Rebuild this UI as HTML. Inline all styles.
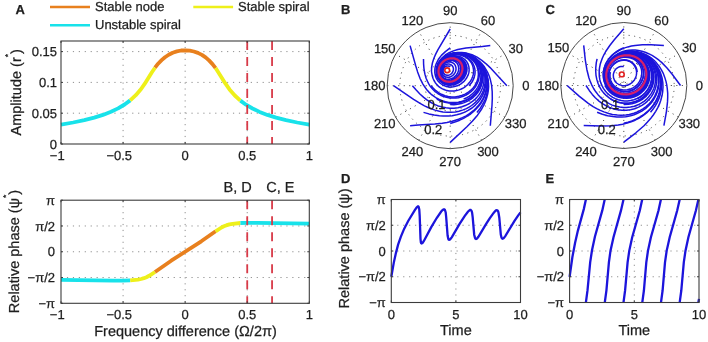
<!DOCTYPE html>
<html><head><meta charset="utf-8"><style>
html,body{margin:0;padding:0;background:#fff;}
svg{display:block;will-change:transform;}
text{font-family:"Liberation Sans", sans-serif;fill:#1e1e1e;stroke:#1e1e1e;stroke-width:0.25px;text-rendering:geometricPrecision;}
</style></head><body>
<svg width="708" height="342" viewBox="0 0 708 342">
<rect width="708" height="342" fill="#fff"/>
<line x1="123.08" y1="41" x2="123.08" y2="144" stroke="#909090" stroke-width="1" stroke-dasharray="1.2 4.73"/>
<line x1="185.15" y1="41" x2="185.15" y2="144" stroke="#909090" stroke-width="1" stroke-dasharray="1.2 4.73"/>
<line x1="247.23" y1="41" x2="247.23" y2="144" stroke="#909090" stroke-width="1" stroke-dasharray="1.2 4.73"/>
<line x1="61" y1="113.2" x2="309.3" y2="113.2" stroke="#909090" stroke-width="1" stroke-dasharray="1.2 4.73"/>
<line x1="61" y1="82.4" x2="309.3" y2="82.4" stroke="#909090" stroke-width="1" stroke-dasharray="1.2 4.73"/>
<line x1="61" y1="51.6" x2="309.3" y2="51.6" stroke="#909090" stroke-width="1" stroke-dasharray="1.2 4.73"/>
<path d="M61,124.6l12.1-2.1l11.2-2.3l9.9-2.6l8.7-2.7l8.1-3.1l7.1-3.4l6.5-3.9l5.6-4.1" fill="none" stroke="#18e2ea" stroke-width="3.8" stroke-linejoin="round"/>
<path d="M130.2,100.4l5.6-5.2l5.3-6.2l3.7-5.3l7.1-11.4l3.1-4.6" fill="none" stroke="#eef01a" stroke-width="3.8" stroke-linejoin="round"/>
<path d="M155,67.7l3.1-4l3.5-3.6l3.4-2.9l3.7-2.5l4-2l4.1-1.3l4.3-0.9l4.4-0.2l4.3,0.3l4,0.9l4.1,1.4l4,2l3.7,2.5l3.4,3l3.5,3.7l3.1,4" fill="none" stroke="#e8801e" stroke-width="3.8" stroke-linejoin="round"/>
<path d="M215.6,68.1l9.9,15.6l4,5.7l5.3,6.1l5.6,5.1" fill="none" stroke="#eef01a" stroke-width="3.8" stroke-linejoin="round"/>
<path d="M240.4,100.6l5.6,4.1l6.5,3.8l7.1,3.4l7.8,3l8.7,2.7l9.9,2.6l11.2,2.3l12.1,2.1" fill="none" stroke="#18e2ea" stroke-width="3.8" stroke-linejoin="round"/>
<line x1="247.23" y1="41" x2="247.23" y2="144" stroke="#d83a48" stroke-width="1.8" stroke-dasharray="9 7"/>
<line x1="272.06" y1="41" x2="272.06" y2="144" stroke="#d83a48" stroke-width="1.8" stroke-dasharray="9 7"/>
<rect x="61" y="41" width="248.3" height="103" fill="none" stroke="#3c3c3c" stroke-width="1.1"/>
<path d="M61,144 v-2.0 M61,41 v2.0" stroke="#3c3c3c" stroke-width="1"/>
<path d="M123.08,144 v-2.0 M123.08,41 v2.0" stroke="#3c3c3c" stroke-width="1"/>
<path d="M185.15,144 v-2.0 M185.15,41 v2.0" stroke="#3c3c3c" stroke-width="1"/>
<path d="M247.23,144 v-2.0 M247.23,41 v2.0" stroke="#3c3c3c" stroke-width="1"/>
<path d="M309.3,144 v-2.0 M309.3,41 v2.0" stroke="#3c3c3c" stroke-width="1"/>
<path d="M61,144 h2.0 M309.3,144 h-2.0" stroke="#3c3c3c" stroke-width="1"/>
<path d="M61,113.2 h2.0 M309.3,113.2 h-2.0" stroke="#3c3c3c" stroke-width="1"/>
<path d="M61,82.4 h2.0 M309.3,82.4 h-2.0" stroke="#3c3c3c" stroke-width="1"/>
<path d="M61,51.6 h2.0 M309.3,51.6 h-2.0" stroke="#3c3c3c" stroke-width="1"/>
<text x="57" y="148.6" font-size="13" text-anchor="end" font-weight="normal" >0</text>
<text x="57" y="117.8" font-size="13" text-anchor="end" font-weight="normal" >0.05</text>
<text x="57" y="87" font-size="13" text-anchor="end" font-weight="normal" >0.1</text>
<text x="57" y="56.2" font-size="13" text-anchor="end" font-weight="normal" >0.15</text>
<text x="61" y="160" font-size="13" text-anchor="middle" font-weight="normal" >1</text>
<text x="57.38" y="160" font-size="13" text-anchor="end" font-weight="normal" >−</text>
<text x="123.08" y="160" font-size="13" text-anchor="middle" font-weight="normal" >0.5</text>
<text x="114.04" y="160" font-size="13" text-anchor="end" font-weight="normal" >−</text>
<text x="185.15" y="160" font-size="13" text-anchor="middle" font-weight="normal" >0</text>
<text x="247.23" y="160" font-size="13" text-anchor="middle" font-weight="normal" >0.5</text>
<text x="309.3" y="160" font-size="13" text-anchor="middle" font-weight="normal" >1</text>
<text transform="translate(20.5,92.3) rotate(-90)" font-size="14.5" text-anchor="middle">Amplitude (r<tspan dy="-9.5" font-size="8.5">*</tspan><tspan dy="9.5">)</tspan></text>
<line x1="123.08" y1="200.2" x2="123.08" y2="303.3" stroke="#909090" stroke-width="1" stroke-dasharray="1.2 4.73"/>
<line x1="185.15" y1="200.2" x2="185.15" y2="303.3" stroke="#909090" stroke-width="1" stroke-dasharray="1.2 4.73"/>
<line x1="247.23" y1="200.2" x2="247.23" y2="303.3" stroke="#909090" stroke-width="1" stroke-dasharray="1.2 4.73"/>
<line x1="61" y1="277.52" x2="309.3" y2="277.52" stroke="#909090" stroke-width="1" stroke-dasharray="1.2 4.73"/>
<line x1="61" y1="251.75" x2="309.3" y2="251.75" stroke="#909090" stroke-width="1" stroke-dasharray="1.2 4.73"/>
<line x1="61" y1="225.97" x2="309.3" y2="225.97" stroke="#909090" stroke-width="1" stroke-dasharray="1.2 4.73"/>
<path d="M61,279.9l51.8,0.8l10,0l7.4-0.3" fill="none" stroke="#18e2ea" stroke-width="3.8" stroke-linejoin="round"/>
<path d="M130.2,280.4l7.8-0.8l3.1-0.6l2.8-0.8l2.5-1l2.7-1.4l5.9-3.8" fill="none" stroke="#eef01a" stroke-width="3.8" stroke-linejoin="round"/>
<path d="M155,272l16.2-11.3l30.1-19.4l14.3-10" fill="none" stroke="#e8801e" stroke-width="3.8" stroke-linejoin="round"/>
<path d="M215.6,231.3l5.9-3.8l2.4-1.2l2.8-1.1l2.8-0.8l3.1-0.6l7.8-0.8" fill="none" stroke="#eef01a" stroke-width="3.8" stroke-linejoin="round"/>
<path d="M240.4,223l7.1-0.2l10,0l51.8,0.8" fill="none" stroke="#18e2ea" stroke-width="3.8" stroke-linejoin="round"/>
<line x1="247.23" y1="200.2" x2="247.23" y2="303.3" stroke="#d83a48" stroke-width="1.8" stroke-dasharray="9 7"/>
<line x1="272.06" y1="200.2" x2="272.06" y2="303.3" stroke="#d83a48" stroke-width="1.8" stroke-dasharray="9 7"/>
<rect x="61" y="200.2" width="248.3" height="103.1" fill="none" stroke="#3c3c3c" stroke-width="1.1"/>
<path d="M61,303.3 v-2.0 M61,200.2 v2.0" stroke="#3c3c3c" stroke-width="1"/>
<path d="M123.08,303.3 v-2.0 M123.08,200.2 v2.0" stroke="#3c3c3c" stroke-width="1"/>
<path d="M185.15,303.3 v-2.0 M185.15,200.2 v2.0" stroke="#3c3c3c" stroke-width="1"/>
<path d="M247.23,303.3 v-2.0 M247.23,200.2 v2.0" stroke="#3c3c3c" stroke-width="1"/>
<path d="M309.3,303.3 v-2.0 M309.3,200.2 v2.0" stroke="#3c3c3c" stroke-width="1"/>
<path d="M61,303.3 h2.0 M309.3,303.3 h-2.0" stroke="#3c3c3c" stroke-width="1"/>
<path d="M61,277.52 h2.0 M309.3,277.52 h-2.0" stroke="#3c3c3c" stroke-width="1"/>
<path d="M61,251.75 h2.0 M309.3,251.75 h-2.0" stroke="#3c3c3c" stroke-width="1"/>
<path d="M61,225.97 h2.0 M309.3,225.97 h-2.0" stroke="#3c3c3c" stroke-width="1"/>
<path d="M61,200.2 h2.0 M309.3,200.2 h-2.0" stroke="#3c3c3c" stroke-width="1"/>
<text x="55" y="307.9" font-size="13" text-anchor="end" font-weight="normal" >−π</text>
<text x="55" y="282.12" font-size="13" text-anchor="end" font-weight="normal" >−π/2</text>
<text x="55" y="256.35" font-size="13" text-anchor="end" font-weight="normal" >0</text>
<text x="55" y="230.57" font-size="13" text-anchor="end" font-weight="normal" >π/2</text>
<text x="55" y="204.8" font-size="13" text-anchor="end" font-weight="normal" >π</text>
<text x="61" y="319" font-size="13" text-anchor="middle" font-weight="normal" >1</text>
<text x="57.38" y="319" font-size="13" text-anchor="end" font-weight="normal" >−</text>
<text x="123.08" y="319" font-size="13" text-anchor="middle" font-weight="normal" >0.5</text>
<text x="114.04" y="319" font-size="13" text-anchor="end" font-weight="normal" >−</text>
<text x="185.15" y="319" font-size="13" text-anchor="middle" font-weight="normal" >0</text>
<text x="247.23" y="319" font-size="13" text-anchor="middle" font-weight="normal" >0.5</text>
<text x="309.3" y="319" font-size="13" text-anchor="middle" font-weight="normal" >1</text>
<text x="185.5" y="336" font-size="14.5" text-anchor="middle" font-weight="normal" >Frequency difference (Ω/2π)</text>
<text transform="translate(18.5,251.5) rotate(-90)" font-size="14.5" text-anchor="middle">Relative phase (ψ<tspan dy="-9.5" font-size="8.5">*</tspan><tspan dy="9.5">)</tspan></text>
<text x="237.6" y="192.3" font-size="14.5" text-anchor="middle" font-weight="normal" >B, D</text>
<text x="280.3" y="192.3" font-size="14.5" text-anchor="middle" font-weight="normal" >C, E</text>
<line x1="50" y1="7" x2="90" y2="7" stroke="#e8801e" stroke-width="2.6"/>
<line x1="50" y1="25.3" x2="90" y2="25.3" stroke="#18e2ea" stroke-width="2.6"/>
<line x1="193.3" y1="7" x2="233.1" y2="7" stroke="#eef01a" stroke-width="2.6"/>
<text x="95" y="10.9" font-size="13" text-anchor="start" font-weight="normal" >Stable node</text>
<text x="95" y="28.9" font-size="13" text-anchor="start" font-weight="normal" >Unstable spiral</text>
<text x="238" y="10.9" font-size="13" text-anchor="start" font-weight="normal" >Stable spiral</text>
<text x="15.5" y="14.2" font-size="13" text-anchor="start" font-weight="bold" >A</text>
<text x="341" y="14.2" font-size="13" text-anchor="start" font-weight="bold" >B</text>
<text x="545.5" y="14.2" font-size="13" text-anchor="start" font-weight="bold" >C</text>
<text x="341" y="183" font-size="13" text-anchor="start" font-weight="bold" >D</text>
<text x="545.5" y="183" font-size="13" text-anchor="start" font-weight="bold" >E</text>
<circle cx="450.2" cy="85.7" r="25.2" fill="none" stroke="#4a4a4a" stroke-width="1" stroke-dasharray="1.1 4.4"/>
<circle cx="450.2" cy="85.7" r="50.4" fill="none" stroke="#4a4a4a" stroke-width="1" stroke-dasharray="1.1 4.4"/>
<line x1="387.2" y1="85.7" x2="513.2" y2="85.7" stroke="#4a4a4a" stroke-width="1" stroke-dasharray="1.1 4.4"/>
<line x1="395.64" y1="117.2" x2="504.76" y2="54.2" stroke="#4a4a4a" stroke-width="1" stroke-dasharray="1.1 4.4"/>
<line x1="418.7" y1="140.26" x2="481.7" y2="31.14" stroke="#4a4a4a" stroke-width="1" stroke-dasharray="1.1 4.4"/>
<line x1="450.2" y1="148.7" x2="450.2" y2="22.7" stroke="#4a4a4a" stroke-width="1" stroke-dasharray="1.1 4.4"/>
<line x1="481.7" y1="140.26" x2="418.7" y2="31.14" stroke="#4a4a4a" stroke-width="1" stroke-dasharray="1.1 4.4"/>
<line x1="504.76" y1="117.2" x2="395.64" y2="54.2" stroke="#4a4a4a" stroke-width="1" stroke-dasharray="1.1 4.4"/>
<circle cx="450.2" cy="85.7" r="63.0" fill="none" stroke="#4a4a4a" stroke-width="1"/>
<text x="525.8" y="90.3" font-size="13" text-anchor="middle" font-weight="normal" >0</text>
<text x="515.67" y="52.5" font-size="13" text-anchor="middle" font-weight="normal" >30</text>
<text x="488" y="24.83" font-size="13" text-anchor="middle" font-weight="normal" >60</text>
<text x="450.2" y="14.7" font-size="13" text-anchor="middle" font-weight="normal" >90</text>
<text x="412.4" y="24.83" font-size="13" text-anchor="middle" font-weight="normal" >120</text>
<text x="384.73" y="52.5" font-size="13" text-anchor="middle" font-weight="normal" >150</text>
<text x="374.6" y="90.3" font-size="13" text-anchor="middle" font-weight="normal" >180</text>
<text x="384.73" y="128.1" font-size="13" text-anchor="middle" font-weight="normal" >210</text>
<text x="412.4" y="155.77" font-size="13" text-anchor="middle" font-weight="normal" >240</text>
<text x="450.2" y="165.9" font-size="13" text-anchor="middle" font-weight="normal" >270</text>
<text x="488" y="155.77" font-size="13" text-anchor="middle" font-weight="normal" >300</text>
<text x="515.67" y="128.1" font-size="13" text-anchor="middle" font-weight="normal" >330</text>
<path d="M469.1,85.7l1.8-2.1l1.3-1.8l1.2-2.4l0.9-2.5l0.6-2.5l0.2-2.5l-0.2-2.5l-0.5-2.3l-0.8-2.1l-1.2-2.4l-1.6-2.1l-1.8-1.7l-2-1.5l-2.1-1.1l-2.5-1l-2.5-0.6l-3.2-0.3l-3.1,0.1l-3.2,0.7l-2.9,1.1l-2.5,1.5l-2.5,1.9l-2,2.2l-1.6,2.7l-1.3,3.2l-0.5,3.5l0.5,3.5l1.2,3l2,2.6l2.5,1.9l3.2,1.2l3.4,0.4l3.6-0.6l3.3-1.3l3.1-2.2l2.3-2.7l1.8-3.1l0.9-3.3l0-3.3l-0.3-1.6l-0.6-1.8l-1.6-2.6l-2.1-2l-2.7-1.4l-3.2-0.8l-3.3,0.1l-3.2,0.8l-3,1.5l-2.6,2.1l-2.2,2.7l-1.4,3.1l-0.6,3.1l0.2,3.2l1,3l1.9,2.5l2.5,1.9l2.8,1.1l3.3,0.3l3.3-0.6l3-1.3l2.7-2.1l2.3-2.7l1.5-3.2l0.7-3.1l-0.2-3.3l-1-2.7l-1.7-2.4l-2.3-1.8l-2.9-1.2l-3.3-0.3l-3.2,0.5l-3.1,1.3l-2.7,1.9l-2.2,2.5l-1.5,2.9l-0.8,3.2l0.1,3.1l0.9,2.9l1.7,2.6l2.3,1.9l2.7,1.1l3.1,0.4l3.1-0.4l3.2-1.3l2.7-2l2.2-2.5l1.6-3.1l0.7-3l-0.1-3.2l-0.9-2.9l-1.7-2.4l-2.3-1.8l-2.8-1.1l-3.2-0.4l-3.1,0.5l-3,1.3l-2.7,1.8l-2.2,2.5l-1.5,2.9l-0.7,3.2l0.1,3l0.9,2.9l1.7,2.5l2.3,1.9l2.7,1.1l3.1,0.4l3.1-0.5l3.1-1.3l2.6-1.9l2.2-2.6l1.5-3l0.7-3l-0.1-3.2l-0.9-2.8l-1.7-2.4l-2.2-1.7l-2.8-1.1l-3.2-0.4l-3.1,0.5l-3,1.3l-2.8,2l-2.1,2.5l-1.4,2.9l-0.7,3l0.1,3l0.9,2.9l1.8,2.5l2.3,1.8l2.6,1.1" fill="none" stroke="#1c14dc" stroke-width="1.5" stroke-linejoin="round"/>
<path d="M463.6,72.3l0.4-1.9l0.1-1.9l-0.2-1.9l-0.5-2l-0.8-1.6l-1.1-1.7l-1.4-1.3l-1.6-1.1l-1.7-0.8l-2.1-0.5l-2.1-0.2l-2.1,0.2l-1.9,0.4l-2.1,0.9l-1.9,1l-1.7,1.4l-2.4,2.7l-1.6,3.2l-0.5,1.6l-0.2,1.9l0.3,3.3l0.5,1.6l0.7,1.5l1,1.4l1.2,1.2l1.4,1l1.4,0.7l1.6,0.5l1.7,0.3l3.3-0.1l1.9-0.5l1.6-0.6l3.1-2l1.4-1.3l1.2-1.4l1-1.7l0.8-1.7l0.7-3.3l-0.2-3.3l-0.4-1.6l-0.8-1.6l-0.9-1.3l-1.1-1.2l-1.2-0.9l-1.6-0.9l-3.2-0.8l-3.5,0.1l-3.4,1l-3,1.8l-2.6,2.6l-1.7,3l-0.9,3.2l0,3.1l0.3,1.6l0.5,1.5l1.7,2.6l2.2,1.9l2.9,1.2l3.1,0.4l3.1-0.4l3.2-1.3l2.9-2.1l2.1-2.6l1.5-3.1l0.7-3.3l-0.3-3.2l-1.1-2.8l-1.8-2.3l-2.5-1.7l-2.9-0.9l-3.1-0.2l-3.3,0.7l-3,1.5l-2.6,2.2l-1.9,2.6l-1.3,3.1l-0.5,3.2l0.5,3l1.2,2.8l1.8,2.1l2.6,1.7l2.8,0.8l3,0.1l3.1-0.8l3.1-1.6l2.5-2.1l1.9-2.8l1.2-2.8l0.5-3.3l-0.5-3.1l-1.2-2.7l-1.9-2.1l-2.6-1.6l-2.9-0.8l-3.1,0l-3.3,0.9l-2.8,1.5l-2.5,2.3l-1.9,2.7l-1.1,2.9l-0.3,3.2l0.5,3l1.3,2.7l1.9,2.1l2.6,1.6l2.9,0.7l3,0l3.1-0.9l3-1.6l2.4-2.3l1.9-2.8l1.1-2.9l0.3-2.9l-0.5-3.1l-1.2-2.7l-2-2.1l-2.5-1.5l-2.9-0.7l-3.2,0l-3.2,0.8l-2.8,1.6l-2.5,2.3l-1.8,2.7l-1.1,2.9l-0.3,3.2l0.5,3l1.3,2.7l2,2.1l2.6,1.5l2.9,0.7l3.2-0.1l3.1-0.9" fill="none" stroke="#1c14dc" stroke-width="1.5" stroke-linejoin="round"/>
<path d="M450.2,66.8l-1-0.6l-1.2-0.3l-1.3,0.2l-1.2,0.5l-1.1,0.9l-0.7,1.2l-0.5,1.3l-0.1,1.3l0.3,1.3l0.6,1l0.8,0.9l1.1,0.6l1.1,0.2l1.3,0l1.3-0.4l1.1-0.6l1.3-1.2l0.9-1.5l0.5-1.6l0-1.7l-0.5-1.5l-0.9-1.3l-1.2-0.9l-1.4-0.5l-1.6,0l-1.6,0.3l-1.4,0.8l-1.3,1.2l-1,1.4l-0.6,1.6l-0.2,1.8l0.2,1.6l0.6,1.5l0.9,1.2l1.2,0.9l1.4,0.7l1.7,0.2l1.6-0.1l1.7-0.6l1.5-0.9l1.6-1.6l1.3-2l0.6-2.3l0-2.1l-0.6-2l-1.2-1.8l-1.7-1.2l-2-0.7l-2.1,0l-2.2,0.6l-2,1.1l-1.6,1.6l-1.3,1.9l-0.8,2.2l-0.1,2.2l0.3,2.2l0.8,1.7l1.1,1.4l1.6,1.2l1.7,0.8l1.9,0.3l1.9-0.1l2-0.6l1.9-0.9l2.3-1.9l1.6-2.3l1-2.7l0.2-2.7l-0.5-2.6l-1.2-2.2l-1.8-1.6l-2.4-1.1l-2.5-0.3l-2.8,0.4l-2.5,1.1l-2.3,1.8l-1.7,2.3l-1.1,2.5l-0.5,2.7l0.3,2.6l0.7,2l1.1,1.7l1.4,1.4l1.8,1l2.1,0.7l2.2,0.1l2.2-0.3l2.1-0.7l2.6-1.6l2.2-2.3l1.6-2.8l0.8-2.8l0-2.9l-0.8-2.8l-1.6-2.4l-2.2-1.6l-2.7-1l-2.9-0.2l-3,0.7l-2.9,1.4l-2.3,2.1l-1.9,2.7l-1,2.8l-0.3,3.1l0.3,2.2l0.8,2l1.2,1.7l1.5,1.5l1.8,1.1l2,0.6l2.3,0.3l2.1-0.2l2.7-0.8l2.4-1.4l2.1-1.8l1.6-2.1l1.3-2.6l0.6-2.5l0-2.5l-0.6-2.6" fill="none" stroke="#1c14dc" stroke-width="1.5" stroke-linejoin="round"/>
<path d="M436.8,72.3l0.4,2.4l0.7,2l1,1.9l1.4,1.8l1.7,1.4l2.1,1.2l2,0.8l2.3,0.4l2.4,0l2.2-0.3l2.5-0.8l2.2-1.1l2-1.4l1.9-1.7l1.6-2.1l1-1.9l0.8-2l0.5-1.8l0.1-1.7l0-2l-0.3-1.7l-0.6-1.8l-0.9-1.7l-1.2-1.4l-1.3-1.2l-1.4-1l-1.6-0.8l-1.9-0.6l-1.9-0.3l-2-0.1l-1.9,0.2l-2,0.6l-2,0.7l-1.7,1l-1.6,1.2l-1.6,1.5l-1.2,1.5l-1.1,1.8l-0.7,1.9l-0.5,1.9l-0.2,1.9l0,1.9l0.4,1.9l0.7,1.8l1.1,1.6l1.1,1.3l1.4,1.1l1.6,1l1.6,0.5l1.7,0.4l1.8,0.1l1.9-0.1l1.9-0.5l1.7-0.6l3.1-2l1.5-1.3l1.2-1.5l1.8-3.1l0.9-3.4l0.1-1.9l-0.2-1.8l-1-3l-1.8-2.4l-1.2-1.1l-1.4-0.8l-2.9-1.1l-3.3-0.3l-3.5,0.7l-3,1.3l-2.8,2.2l-2.1,2.6l-1.4,3.2l-0.6,3.3l0.3,3.2l0.6,1.6l0.7,1.4l2.1,2.4l2.6,1.6l1.5,0.6l1.6,0.3l3.4-0.1l3.2-1l3-1.8l2.4-2.3l1.9-2.9l1-3.3l0.2-3l-0.6-3l-1.5-2.7l-2.1-2l-2.7-1.4l-3.2-0.6l-3.1,0.3l-3.2,1l-2.8,1.7l-2.4,2.4l-1.6,2.8l-1,3.2l-0.1,3.2l0.7,3l1.6,2.6l2.1,1.9l2.8,1.4l3.1,0.5l3.1-0.4l3.1-1.1l2.7-1.8l2.3-2.5l1.7-3l0.8-2.9l0-3.2l-0.8-3l-1.6-2.4l-2.1-1.9l-2.8-1.2l-3.1-0.5l-3.1,0.4l-3.1,1.1l-2.7,1.8l-2.2,2.5l-1.6,2.8l-0.9,3.2l0.1,3l0.8,2.9l1.6,2.6l2.2,1.9l2.6,1.1l3.1,0.5l3-0.3l3.1-1.2l2.7-1.8l2.3-2.5l1.6-3l0.8-2.9l0-3.2l-0.8-2.9l-1.6-2.5l-2.2-1.8l-2.7-1.2l-3.1-0.4l-3.1,0.3l-3.1,1.2l-2.7,1.8l-2.2,2.5" fill="none" stroke="#1c14dc" stroke-width="1.5" stroke-linejoin="round"/>
<path d="M431.3,85.7l2.1,2.7l2.5,2.3l2.9,2.1l2.7,1.5l3.5,1.4l3.2,0.8l3.4,0.4l3.5,0l3.6-0.6l3-0.8l3.4-1.4l2.8-1.6l3-2.3l2.2-2.3l1.9-2.5l1.7-3.2l1.3-3.9l0.4-4l-0.3-3.8l-1.1-4l-1.9-3.5l-2.7-3.2l-3.2-2.6l-3.7-1.9l-4.3-1.2l-4.1-0.4l-4.2,0.4l-4.1,1.3l-3.6,1.8l-3.1,2.6l-2.6,3.2l-1.6,3.4l-0.6,1.9l-0.3,2.2l0.1,2.1l0.3,1.9l0.5,1.7l0.9,1.7l1.1,1.6l1.3,1.4l1.6,1.2l1.6,0.8l1.8,0.6l1.9,0.4l2,0l1.9-0.1l2.1-0.6l1.9-0.7l2.9-1.7l2.6-2.5l2.1-2.9l1.3-3.4l0.4-3.4l-0.5-3.2l-1.2-2.9l-2.2-2.5l-2.6-1.7l-3.2-1.1l-3.5-0.2l-3.4,0.6l-3.3,1.5l-2.7,2l-2.3,2.7l-1.6,3.1l-0.7,3.4l0.1,3.3l1,3l1.9,2.6l2.5,1.9l1.5,0.7l1.6,0.5l3.3,0.2l3.3-0.6l3-1.4l2.7-2.1l2.3-2.8l1.4-2.9l0.6-3.1l-0.1-3.3l-1-2.7l-1.7-2.5l-2.3-1.8l-2.9-1.2l-3.3-0.3l-3.2,0.4l-3.1,1.3l-2.9,2l-2.2,2.6l-1.5,2.9l-0.7,3.3l0.1,3l0.9,2.9l1.7,2.6l2.4,1.8l2.9,1.2l3.2,0.3l3.2-0.5l3.1-1.5l2.7-2l2.1-2.7l1.4-2.8l0.7-3l-0.2-3.2l-1-2.9l-1.7-2.4l-2.3-1.7l-2.8-1.1l-3.2-0.3l-3.1,0.5l-3.1,1.3l-2.7,2.1l-2.2,2.5l-1.4,2.9l-0.7,3.2l0.2,3.1l1,2.8l1.8,2.5l2.4,1.8l2.7,1l3.2,0.2l3.1-0.5l3.1-1.4l2.6-2.1l2.1-2.6l1.3-2.8l0.7-2.9l-0.2-3.2l-1-2.9l-1.7-2.3l-2.5-1.8l-2.8-1l-3.2-0.3l-3.1,0.6l-2.9,1.4l-2.6,1.9l-2.1,2.5l-1.4,2.9" fill="none" stroke="#1c14dc" stroke-width="1.5" stroke-linejoin="round"/>
<path d="M436.8,99.1l3.6,1.7l3.2,1.1l4,0.9l3.5,0.4l4.3,0l3.6-0.5l3.6-0.9l3.4-1.3l3.3-1.7l3-2.1l2.7-2.5l2.3-2.8l1.9-2.9l1.4-3.2l0.9-3.2l0.6-3.8l-0.2-4.3l-0.9-4.1l-1.8-4.1l-2.4-3.6l-3.2-3.2l-3.5-2.5l-4.1-1.8l-4.1-1.1l-4.3-0.3l-4.3,0.5l-4.2,1.2l-3.7,1.9l-3.2,2.6l-2.6,3.2l-1.8,3.5l-0.8,3.6l-0.1,2.2l0.2,1.8l0.5,1.9l0.8,1.7l1,1.6l1.2,1.5l1.6,1.3l1.5,0.9l1.7,0.7l1.9,0.5l2.1,0.2l2.1-0.1l2.2-0.5l1.8-0.6l1.9-0.9l1.7-1.2l2.7-2.4l2-3l1.3-3.4l0.4-3.4l-0.5-3.3l-0.6-1.5l-0.9-1.6l-2.2-2.5l-2.7-1.7l-3.2-0.9l-3.6-0.1l-3.4,0.7l-3.2,1.5l-2.8,2.1l-2.2,2.7l-1.5,3.1l-0.7,3.4l0.2,3.4l1.1,3l1,1.4l1,1.1l2.5,1.9l1.5,0.6l1.7,0.5l3.3,0.1l3.3-0.7l3.3-1.6l2.7-2.3l1.9-2.5l1.4-3.3l0.5-3.1l-0.2-3l-1.2-3l-1.9-2.3l-2.6-1.8l-2.9-1l-3.3-0.1l-3.2,0.6l-3.1,1.4l-2.5,2l-2.2,2.7l-1.3,2.9l-0.7,3.3l0.2,3.1l1.1,2.8l1.8,2.5l2.5,1.8l2.8,1l3.2,0.2l3.2-0.6l3.1-1.5l2.6-2.1l2.1-2.7l1.4-3.2l0.5-3l-0.2-2.9l-1.1-2.8l-1.8-2.4l-2.5-1.7l-2.9-1l-3.2-0.1l-3.1,0.6l-3,1.4l-2.5,1.9l-2.1,2.6l-1.4,2.9l-0.6,3.2l0.3,3.1l1,2.8l1.9,2.4l2.4,1.8l2.8,0.9l3.1,0.2l3.2-0.6l3.1-1.5l2.5-2.1l2.1-2.7l1.3-3.1l0.5-3l-0.3-2.8l-1-2.8l-1.8-2.3l-2.5-1.8l-2.9-0.9l-3.1-0.1l-3.3,0.7l-3,1.4l-2.6,2.2l-1.9,2.6l-1.3,2.9l-0.4,3.2" fill="none" stroke="#1c14dc" stroke-width="1.5" stroke-linejoin="round"/>
<path d="M450.2,104.6l3.7,0.1l3.7-0.4l3.7-0.7l2.9-1l3.5-1.5l3.3-2l2.3-1.8l2.7-2.6l2.3-2.9l1.8-3.1l1.3-3.2l0.9-3.3l0.4-3.3l-0.1-3.2l-0.4-3l-1-3.4l-1.7-3.7l-2.5-3.5l-2.8-2.9l-3.6-2.5l-3.7-1.8l-4.1-1.2l-4-0.4l-4.1,0.2l-4.1,0.9l-3.9,1.7l-3.5,2.4l-2.7,2.8l-2.1,3.4l-1.2,3.6l-0.3,2l0,1.9l0.7,3.5l0.8,1.7l0.8,1.5l1.3,1.5l1.3,1.1l1.5,1l1.6,0.8l1.9,0.5l2,0.3l2.1,0l1.8-0.3l1.9-0.5l1.9-0.8l1.8-1l1.7-1.3l2.7-3l1.7-3.2l1-3.4l0-3.4l-0.8-3.1l-1.6-2.7l-2.4-2.2l-1.5-0.9l-1.6-0.7l-3.2-0.7l-3.6,0.2l-3.3,0.9l-3.1,1.7l-2.7,2.5l-2,2.8l-1.2,3.1l-0.4,3.5l0.4,3.1l1.4,2.9l1,1.4l1.1,1l2.7,1.7l3.1,0.8l3.5-0.1l3.3-0.9l3.2-1.8l2.5-2.5l1.9-3l1.1-3l0.2-3.1l-0.6-3.2l-1.4-2.8l-2.1-2.1l-2.8-1.5l-3-0.7l-3.2,0.1l-3.1,0.9l-3,1.6l-2.5,2.3l-1.9,2.7l-1.1,3l-0.4,3.3l0.5,3l1.3,2.8l1,1.3l1.1,1l2.7,1.6l3,0.7l3.1-0.1l3.1-0.9l3.1-1.8l2.5-2.3l1.8-2.9l1-3l0.3-3l-0.5-3.1l-1.4-2.7l-2-2l-2.7-1.5l-3.1-0.7l-3.2,0.1l-3,0.9l-2.9,1.6l-2.4,2.3l-1.8,2.7l-1.1,3l-0.3,3.3l0.6,2.9l1.4,2.7l1.9,2.1l2.7,1.5l2.9,0.7l3.1-0.1l3.1-0.9l3-1.8l2.4-2.3l1.9-2.9l0.9-2.9l0.3-2.9l-0.6-3.1l-1.3-2.6l-2-2.1l-2.7-1.5l-3.1-0.6l-3.1,0.1l-3.2,1l-2.8,1.7l-2.4,2.3l-1.7,2.7l-1,3l-0.2,3.2l0.6,3" fill="none" stroke="#1c14dc" stroke-width="1.5" stroke-linejoin="round"/>
<path d="M463.6,99.1l3.2-1.4l2.4-1.4l2.8-2.1l2-1.9l1.8-2.1l1.9-2.8l1.5-3l1-3l0.6-3.1l0.1-3l-0.3-3l-0.6-2.7l-1-2.6l-1.5-2.8l-1.8-2.5l-2.1-2.2l-3-2.3l-3.1-1.7l-3.7-1.3l-3.5-0.6l-3.8-0.1l-3.6,0.4l-3.5,1.1l-3.4,1.6l-3.4,2.5l-2.5,2.9l-1.9,3.2l-1,3.6l-0.2,3.6l0.7,3.5l0.8,1.7l0.9,1.4l1.1,1.3l1.3,1.1l1.5,1l1.6,0.8l1.9,0.5l1.6,0.3l3.7-0.1l1.8-0.5l1.9-0.7l3.3-1.9l2.8-2.7l1.3-1.8l0.9-1.6l1.1-3.4l0.2-3.1l-0.6-3.2l-1.3-2.8l-2.2-2.4l-2.7-1.7l-3.2-1l-3.3-0.1l-3.4,0.6l-3.3,1.5l-2.8,2l-2.3,2.7l-1.5,3.1l-0.8,3.4l0.2,3.2l0.9,3l1.8,2.6l2.5,1.9l1.4,0.7l1.7,0.6l3.3,0.3l3.3-0.6l3.2-1.5l2.8-2.1l2.2-2.8l1.4-2.9l0.7-3.1l-0.2-3.3l-0.9-2.7l-1.8-2.5l-1.2-1.1l-1.3-0.9l-2.9-1.1l-3.3-0.2l-3.2,0.5l-3.1,1.3l-2.9,2.1l-2.1,2.6l-1.5,2.9l-0.7,3.3l0.2,3l1,2.9l1.6,2.4l2.4,1.9l3,1.1l3.1,0.3l3.2-0.5l3.1-1.4l2.7-2.1l2.1-2.7l1.4-2.8l0.7-3l-0.2-3.2l-1-2.9l-1.7-2.4l-2.5-1.8l-2.9-1l-3.2-0.3l-3.1,0.6l-3,1.3l-2.7,2.1l-2.1,2.6l-1.4,2.9l-0.6,3.2l0.3,3.1l1,2.8l1.7,2.3l2.4,1.8l2.7,1l3.2,0.2l3.1-0.5l3.1-1.4l2.6-2.1l2.1-2.6l1.3-2.8l0.7-3l-0.2-3.1l-1-2.9l-1.7-2.3l-2.5-1.8l-2.8-1l-3.2-0.3l-3.1,0.6l-3,1.4l-2.6,2l-2.1,2.6l-1.3,2.9l-0.6,3.2l0.2,3l1.1,2.8l1.7,2.3" fill="none" stroke="#1c14dc" stroke-width="1.5" stroke-linejoin="round"/>
<path d="M488,85.7l-0.1-3.1l-0.3-3l-0.5-2.9l-0.8-2.7l-0.9-2.5l-1.4-3l-1.7-2.7l-1.8-2.4l-2-2.1l-2-1.9l-2.1-1.6l-2.7-1.5l-2.6-1.3l-2.6-0.9l-2.6-0.7l-2.9-0.4l-3.6-0.1l-3.8,0.5l-3.4,0.9l-3,1.3l-2.9,1.9l-2.4,2.1l-2,2.4l-1.6,2.8l-1.1,3.3l-0.4,3.7l0.6,3.5l1.4,3.1l2.2,2.6l2.8,1.9l1.7,0.7l1.7,0.4l3.5,0.2l1.9-0.3l1.9-0.4l3.4-1.6l3.1-2.5l2.3-2.8l1-2l0.7-1.7l0.6-3.4l-0.2-3.4l-0.5-1.6l-0.8-1.7l-1.9-2.4l-2.6-2l-2.9-1.1l-3.3-0.5l-3.2,0.3l-3.3,1.1l-3,1.8l-2.5,2.4l-1.9,2.8l-1.2,3.2l-0.3,3.4l0.5,3.2l1.4,2.8l2,2.3l2.8,1.6l3.1,0.8l3.4,0l3.3-1l3-1.7l2.6-2.4l2-3l1.1-3l0.3-3.1l-0.5-3.2l-1.4-2.8l-2.1-2.2l-2.7-1.6l-3-0.7l-3.3,0l-3.1,0.9l-3,1.5l-2.6,2.3l-1.9,2.8l-1.2,3l-0.4,3.3l0.4,3l1.3,2.8l1.9,2.2l2.6,1.6l3,0.8l3,0.1l3.2-0.8l3.1-1.7l2.5-2.2l2-2.8l1.2-3.2l0.3-3l-0.4-3.2l-1.4-2.7l-1.9-2.1l-2.7-1.6l-2.9-0.7l-3.2,0l-3.2,0.9l-2.9,1.6l-2.5,2.3l-1.9,2.7l-1.1,2.9l-0.3,3.3l0.5,3l1.4,2.7l1.9,2.1l2.6,1.6l3,0.7l3-0.1l3.1-0.8l3-1.7l2.5-2.3l1.8-2.9l1.1-2.8l0.3-3l-0.5-3.1l-1.3-2.7l-1.9-2.1l-2.7-1.5l-2.8-0.7l-3.2,0l-3.2,0.9l-2.9,1.6l-2.4,2.3l-1.9,2.7l-1,2.9l-0.3,3.3l0.5,2.9l1.3,2.7l2,2.1l2.6,1.5l2.9,0.7" fill="none" stroke="#1c14dc" stroke-width="1.5" stroke-linejoin="round"/>
<path d="M476.9,59l-4.5-2.9l-4.5-1.9l-4.9-1.2l-4.5-0.3l-4.6,0.5l-4.4,1.3l-4,2.1l-1.8,1.3l-1.7,1.5l-2,2.4l-1.7,2.8l-1,2.7l-0.5,2.9l0.1,2.9l0.6,2.6l1.2,2.6l1.7,2.1l2.5,2.1l3.3,1.3l3.4,0.5l3.8-0.5l3.4-1.3l3.3-2.2l2.5-2.6l1.9-3.2l1-3.4l0.2-3.5l-0.8-3.2l-0.7-1.4l-1-1.6l-2.4-2.3l-1.5-0.9l-1.6-0.7l-3.3-0.6l-3.5,0.1l-3.1,0.8l-3,1.5l-2.5,2.1l-2.1,2.5l-1.4,2.9l-0.8,3.2l0,3l0.8,2.8l1.6,2.8l2.3,2.1l2.7,1.3l3.2,0.6l3.3-0.2l3-1.1l3-1.7l2.5-2.5l1.9-3.1l1-3l0.2-3.1l-0.7-3.2l-1.5-2.7l-2.1-2.1l-2.8-1.5l-3.3-0.7l-3.2,0.2l-3.1,1l-2.9,1.7l-2.3,2.2l-1.9,2.7l-1.1,3l-0.3,3.1l0.5,3.1l1.3,2.7l1.9,2.2l2.6,1.6l3,0.8l3,0.1l3.2-0.9l2.8-1.5l2.6-2.2l2-2.8l1.3-3.2l0.4-3l-0.5-3.1l-1.3-2.8l-1.9-2.1l-2.6-1.6l-2.9-0.8l-3.2,0l-3.1,0.8l-2.9,1.5l-2.6,2.2l-1.9,2.7l-1.2,2.9l-0.4,3.3l0.4,3l1.3,2.7l1.9,2.2l2.5,1.6l2.9,0.9l3,0l3.1-0.7l3-1.6l2.5-2.2l2-2.8l1.2-3.2l0.4-2.9l-0.4-3.1l-1.3-2.7l-1.9-2.2l-2.6-1.5l-2.9-0.8l-3.2,0l-3,0.8l-2.9,1.5l-2.5,2.2l-1.9,2.7l-1.2,2.9l-0.4,3.3l0.5,2.9l1.3,2.8l1.8,2.1l2.6,1.6l2.9,0.8l2.9,0l3.2-0.7l3-1.7l2.5-2.2" fill="none" stroke="#1c14dc" stroke-width="1.5" stroke-linejoin="round"/>
<path d="M450.2,47.9l-4.8,3.7l-4,3.8l-3,3.9l-2.1,4.3l-0.8,2.1l-0.5,2.4l-0.2,2.1l0,2.4l0.4,2.2l0.5,2l0.8,1.8l1.1,1.8l2.3,2.6l2.8,2l3.3,1.4l3.7,0.6l3.7-0.2l3.9-1l3.3-1.7l3.1-2.4l1.4-1.6l1.3-1.8l1.8-3.4l0.6-2l0.3-2.1l0-2l-0.2-1.9l-0.5-1.8l-0.7-1.7l-0.9-1.6l-1.3-1.6l-1.3-1.2l-1.7-1.2l-1.7-0.9l-1.9-0.6l-1.8-0.4l-2.2-0.2l-2.1,0l-2.1,0.4l-1.9,0.5l-2.1,0.9l-1.9,1.1l-1.7,1.3l-1.5,1.4l-1.4,1.8l-1,1.6l-0.8,2l-0.5,1.8l-0.3,2l0,2l0.3,1.8l1,2.7l1.6,2.4l2.4,1.9l2.6,1.3l2.8,0.5l3.1-0.1l3.2-0.8l2.8-1.5l2.8-2.4l2.1-2.7l1.4-3.1l0.5-3.2l-0.2-3.2l-0.4-1.5l-0.8-1.6l-1.9-2.5l-2.5-1.7l-3-1.1l-3.4-0.3l-3.5,0.6l-3.2,1.4l-2.9,2.2l-2.1,2.7l-1.5,3l-0.6,3.3l0.2,3.1l0.9,2.8l1.7,2.4l2.4,1.9l2.8,1.1l2.9,0.4l3.2-0.4l3-1.1l2.7-1.9l2.4-2.5l1.7-3.1l0.9-3l0-3l-0.8-3.1l-1.5-2.5l-2.2-2l-2.8-1.3l-3-0.5l-3.2,0.3l-3.2,1l-2.7,1.8l-2.4,2.4l-1.7,2.8l-1,3.2l-0.1,3.1l0.7,2.9l1.4,2.5l2.1,2.1l2.5,1.3l3,0.7l3-0.1l3.2-1l2.8-1.6l2.4-2.4l1.9-2.8l1-2.9l0.3-3l-0.5-3.1l-1.4-2.7l-2-2.1l-2.6-1.5l-2.9-0.7l-3.2,0.1l-3.2,0.9l-2.8,1.6l-2.5,2.3l-1.8,2.7l-1.1,3.2l-0.3,3l0.6,3l1.4,2.7l1.9,2.1l2.7,1.5l2.9,0.7l3-0.1l3.2-0.9l3-1.8l2.4-2.3l1.8-2.9l1-2.9l0.3-2.9l-0.6-3.1l-1.3-2.6l-2-2.1" fill="none" stroke="#1c14dc" stroke-width="1.5" stroke-linejoin="round"/>
<path d="M423.5,59l0.1,5.1l0.3,3.9l0.5,3.5l0.7,3.4l1.1,3.6l1.3,2.9l1.4,2.8l1.7,2.6l2.4,2.7l2.2,2.1l2.6,1.9l2.8,1.7l3,1.3l2.8,0.8l3.4,0.7l3,0.1l3.1-0.1l2.5-0.3l4.9-1.5l3-1.3l2.3-1.4l2.1-1.6l1.9-1.7l1.7-2l1.5-2l1.2-2.2l1.2-2.9l0.6-2.3l0.4-2.3l0.1-2.3l-0.3-2.8l-0.4-2.1l-0.9-2.5l-0.9-1.9l-1.3-2.1l-1.5-1.9l-1.7-1.7l-3.7-2.6l-2.3-1.2l-2.3-0.8l-2.4-0.6l-2.3-0.3l-2.2-0.1l-2.5,0.2l-2.4,0.4l-2.3,0.7l-2.3,0.9l-2.4,1.4l-1.9,1.4l-1.8,1.8l-1.6,1.9l-1.2,2l-0.9,2.1l-0.6,2.4l-0.2,2.4l0.1,2.2l0.6,2.2l0.8,2l1.2,1.8l1.5,1.5l1.9,1.3l1.8,0.9l3.3,0.8l3.5-0.1l3.4-0.9l3.1-1.5l2.7-2.3l2.2-2.8l1.5-3.3l0.7-3.4l-0.2-3.3l-0.4-1.6l-0.8-1.7l-0.8-1.3l-1.2-1.3l-2.6-1.9l-3.2-1.2l-3.5-0.3l-3.4,0.5l-3.4,1.3l-3,2.2l-2.3,2.7l-1.7,3.2l-0.8,3.4l0.2,3.4l1,3l0.9,1.4l1,1.2l1.4,1.1l1.3,0.9l2.9,1l3.1,0.2l3.3-0.5l3-1.3l2.7-2.1l2.2-2.4l1.6-3.2l0.7-3.1l0-3l-0.9-3.1l-1.7-2.5l-2.3-1.9l-2.9-1.2l-3.3-0.5l-3.2,0.5l-3.1,1.2l-2.8,1.8l-2.3,2.6l-1.5,2.8l-0.9,3.3l0,3.3l0.9,2.9l1.7,2.6l2.3,1.9l2.7,1.1l3.2,0.4l3.1-0.4l2.9-1.1l2.7-1.9l2.3-2.5l1.7-3l0.8-3l0-3l-0.7-3l-1.6-2.5l-2.2-1.9l-2.7-1.3l-3.2-0.5l-3.1,0.4l-3.2,1.1l-2.7,1.8l-2.3,2.4l-1.6,2.8l-0.9,3.2l0,3.1l0.8,2.9l1.6,2.6l2.2,1.9l2.5,1.3l3.1,0.5l3.1-0.3l3.1-1.2l2.7-1.8l2.3-2.4l1.7-3l0.8-2.9l0.2-2.9l-0.8-3l-1.5-2.6l-2-1.9l-2.7-1.3l-3-0.6l-3.1,0.3l-3.1,1" fill="none" stroke="#1c14dc" stroke-width="1.5" stroke-linejoin="round"/>
<path d="M412.4,85.7l3.8,4.4l3.7,3.9l3.8,3.4l3.2,2.5l4.1,2.6l3.5,1.9l3.7,1.5l3.8,1.1l3.9,0.8l4,0.4l4.1,0l4-0.5l4-1l3.8-1.4l3.7-1.8l3.3-2.3l1.8-1.5l2.3-2.3l1.9-2.4l1.7-2.6l2.1-4.7l0.8-2.8l0.5-2.7l0.1-2.7l-0.1-2.7l-0.3-2.6l-0.6-2.4l-0.8-2.3l-1.2-2.7l-1.5-2.4l-1.7-2.2l-3.4-3.3l-4.1-2.7l-4.6-1.9l-4.5-1l-4.7-0.1l-4.6,0.8l-4.4,1.6l-3.6,2.3l-2,1.8l-1.6,1.9l-1.4,2l-1,2.1l-0.6,2.2l-0.4,2.4l0,2.2l0.4,2.1l0.6,2.1l1.1,1.8l1.3,1.8l1.7,1.4l2,1.2l2.1,0.8l2.2,0.4l2.1,0l3.7-0.6l3.4-1.5l3.1-2.4l2.4-2.8l1.7-3.2l0.8-3.4l-0.1-3.4l-0.4-1.6l-0.7-1.8l-0.8-1.3l-1.1-1.4l-2.6-2.1l-3.1-1.3l-3.3-0.4l-3.5,0.3l-3.5,1.3l-2.9,1.9l-2.5,2.5l-1.9,3.2l-1,3.4l0,3.4l0.3,1.7l0.6,1.6l1.7,2.6l1.3,1.3l1.2,0.9l1.5,0.7l1.6,0.5l3.3,0.4l3.3-0.5l3-1.3l2.8-2l2.3-2.7l1.7-3.2l0.7-3.1l-0.1-3l-0.9-3.1l-1.7-2.5l-2.3-1.9l-2.9-1.2l-3.3-0.4l-3.2,0.5l-3.2,1.2l-2.9,2l-2.2,2.6l-1.6,2.8l-0.7,3.3l0.1,3.3l0.9,2.9l1.8,2.5l2.3,1.9l2.8,1.1l3.2,0.3l3.1-0.5l3.2-1.3l2.6-2l2.2-2.7l1.6-3.1l0.6-3l-0.1-2.9l-1-2.9l-1.7-2.4l-2.2-1.8l-2.8-1.1l-3.2-0.4l-3.2,0.5l-3,1.2l-2.7,1.9l-2.2,2.5l-1.5,2.9l-0.7,3.2l0.1,3l0.9,2.9l1.7,2.5l2.3,1.9l2.6,1.1l3.1,0.4l3.1-0.5l3.2-1.3l2.6-1.9l2.2-2.6l1.6-3l0.6-2.9l0-3l-0.9-2.9l-1.6-2.4l-2.2-1.8l-2.8-1.2l-3.1-0.4l-3.1,0.4l-3.1,1.2l-2.8,2l-2.2,2.5" fill="none" stroke="#1c14dc" stroke-width="1.5" stroke-linejoin="round"/>
<path d="M423.5,112.4l5.4,1.5l5.3,1.2l5.1,0.7l4,0.3l4.9-0.1l3.9-0.3l4.7-0.9l3.7-1l4.4-1.7l3.2-1.7l3.9-2.4l3.4-2.9l2.4-2.5l2.6-3.4l2.1-3.6l1.6-3.7l1.4-5.2l0.5-5.2l-0.2-2.8l-0.4-2.7l-1.4-5.1l-1-2.3l-1.5-2.6l-3.2-4.1l-1.9-2l-2-1.6l-4.3-2.6l-4.3-1.6l-4.6-0.9l-4.7-0.1l-4.3,0.7l-4.2,1.5l-3.7,2.3l-3.2,2.9l-2.3,3.4l-0.9,1.9l-0.7,2.2l-0.3,2.1l0,2.2l0.3,2.2l0.6,2l1,1.9l1.2,1.6l1.4,1.3l1.7,1.2l2,0.9l2.1,0.6l2,0.2l2.2-0.1l2.2-0.4l2.2-0.8l3.3-1.9l2.7-2.4l1.3-1.8l0.9-1.6l1.2-3.4l0.4-3.4l-0.6-3.3l-0.5-1.5l-1-1.6l-2.2-2.4l-1.5-1l-1.5-0.8l-3.3-0.8l-3.6,0l-3.3,0.8l-3.2,1.5l-2.9,2.4l-2.1,2.8l-1.4,3.1l-0.5,3.4l0,1.7l0.3,1.7l0.6,1.6l0.8,1.5l1,1.4l1.1,1.1l2.7,1.6l1.6,0.6l1.7,0.3l3.5-0.1l3.3-0.9l2.9-1.7l2.6-2.4l2-3l1.1-3.1l0.3-3.1l-0.6-3.2l-1.4-2.8l-2-2.1l-2.8-1.6l-3-0.7l-3.3,0.1l-3.3,0.9l-2.9,1.6l-2.6,2.3l-1.8,2.8l-1.2,3l-0.3,3.3l0.5,3l1.4,2.8l1.9,2.1l2.7,1.6l3,0.8l3.3-0.1l3.2-1l3-1.8l2.5-2.3l1.8-3l1-2.9l0.2-3l-0.6-3.1l-1.4-2.7l-2-2l-2.7-1.5l-2.9-0.6l-3.2,0.1l-3.2,0.9l-2.8,1.7l-2.5,2.3l-1.8,2.7l-1,3l-0.3,3.3l0.6,2.9l1.4,2.7l2,2.1l2.7,1.5l2.9,0.6l3.1-0.1l3.1-0.9l3-1.9l2.4-2.3l1.8-2.9l1-2.9l0.2-3l-0.6-3l-1.4-2.6l-2-2.1l-2.7-1.4l-3.1-0.7l-3.1,0.2l-3.2,1l-2.8,1.7l-2.4,2.4l-1.7,2.7l-1,3.2" fill="none" stroke="#1c14dc" stroke-width="1.5" stroke-linejoin="round"/>
<path d="M450.2,123.5l5.4-1.7l4.1-1.6l3.9-1.9l3.6-2.1l3.4-2.2l3-2.5l2.8-2.7l3.1-3.6l2.1-3l2.1-3.9l1.3-3.2l1.2-3.9l0.7-4l0.2-3.8l-0.2-3.7l-0.5-3.5l-1.4-4.6l-2.3-4.6l-2.8-3.9l-3.1-3.2l-3.8-2.8l-4.3-2.2l-4.4-1.3l-4.5-0.6l-4.7,0.2l-4.2,0.9l-3.9,1.7l-3.6,2.4l-2.8,2.9l-2.2,3.4l-1.2,3.6l-0.3,2l-0.1,1.9l0.3,2.2l0.5,1.8l0.8,1.7l1.1,1.6l1.3,1.5l1.4,1.1l1.8,1l1.7,0.7l2,0.5l2,0.1l2.2-0.2l1.9-0.4l2.2-0.7l1.8-1l1.8-1.2l1.6-1.5l2.2-2.9l1.6-3.3l0.6-3.5l-0.3-3.3l-1-3.1l-0.9-1.3l-1.1-1.4l-1.4-1.1l-1.5-1l-3.2-1.1l-3.6-0.4l-3.4,0.6l-3.4,1.4l-2.8,2l-2.4,2.6l-1.7,3.1l-0.9,3.4l0.1,3.2l0.3,1.6l0.6,1.6l1.8,2.7l2.4,2l1.4,0.7l1.6,0.5l3.4,0.4l1.9-0.2l1.6-0.4l3.3-1.5l2.8-2.1l2.2-2.8l1.4-2.9l0.6-3.1l-0.1-3.4l-1.1-2.9l-1.9-2.5l-1.2-1l-1.4-0.8l-2.9-1l-3.3-0.3l-3.2,0.6l-3.1,1.4l-2.7,2.2l-2.2,2.6l-1.4,2.9l-0.6,3.3l0.2,3.1l1.1,2.8l1.8,2.5l2.5,1.8l2.8,1l3.2,0.2l3.2-0.6l3.1-1.5l2.6-2.1l2.2-2.7l1.2-2.9l0.6-3l-0.2-3.2l-1.1-2.9l-1.8-2.3l-2.5-1.7l-2.9-1l-3.2-0.2l-3.1,0.7l-3,1.4l-2.7,2.1l-2,2.6l-1.3,2.9l-0.6,3.3l0.3,3l1.1,2.8l1.9,2.4l2.5,1.7l2.8,0.9l3.2,0.1l3.1-0.7l2.9-1.4l2.5-2.1l2.1-2.7l1.2-2.8l0.6-3l-0.3-3.1l-1-2.9l-1.8-2.2l-2.5-1.8l-2.9-0.9l-3.2-0.1l-3.2,0.7l-3,1.4l-2.6,2.2l-1.9,2.6l-1.3,2.9l-0.5,3.2l0.4,3" fill="none" stroke="#1c14dc" stroke-width="1.5" stroke-linejoin="round"/>
<path d="M476.9,112.4l2.6-3.1l2.2-3.3l1.8-3.3l1.6-3.4l1.2-3.3l0.8-3.4l0.6-3.3l0.3-4l-0.1-3.1l-0.5-3.7l-0.8-3.5l-1.1-3.2l-1.4-3l-2-3.2l-1.8-2.4l-2.4-2.5l-3.3-2.7l-3.5-2.1l-4-1.6l-3.8-1l-4.2-0.4l-3.8,0.2l-3.9,0.8l-3.7,1.5l-3.7,2.3l-3,2.9l-2.2,3.1l-1.4,3.6l-0.6,3.7l0.4,3.5l0.6,1.9l0.7,1.5l2.1,2.7l1.3,1.1l1.5,1l1.7,0.7l1.9,0.6l2,0.2l1.8,0l1.9-0.3l1.9-0.5l1.9-0.8l1.8-1l3.1-2.6l1.4-1.7l1-1.5l1.3-3.4l0.5-3.1l-0.3-3.3l-1.1-3l-0.9-1.3l-1.2-1.4l-2.6-1.9l-3.2-1.2l-3.6-0.4l-3.4,0.6l-3.4,1.3l-2.9,2l-2.4,2.7l-1.7,3.2l-0.9,3.4l0.1,3.2l0.9,3l1.7,2.7l2.4,2l1.5,0.8l1.6,0.5l3.3,0.4l3.2-0.5l3.3-1.3l2.8-2.1l2.4-2.7l1.6-3.2l0.6-3.1l-0.1-3.3l-0.9-2.8l-1.8-2.5l-1.2-1.1l-1.3-0.9l-3-1.1l-3.3-0.3l-3.2,0.5l-3.1,1.3l-2.6,2l-2.3,2.5l-1.5,2.9l-0.8,3.3l0.1,3.1l1,2.9l1.7,2.6l2.3,1.8l3,1.2l3.2,0.3l3.1-0.5l3.2-1.4l2.6-2l2.2-2.7l1.4-2.8l0.7-3l-0.1-3.2l-1-2.9l-1.8-2.4l-2.4-1.9l-2.9-1l-3.2-0.3l-3.1,0.6l-3,1.3l-2.8,2.1l-2.1,2.6l-1.3,2.8l-0.7,3.3l0.2,3l1.1,2.8l1.7,2.3l2.3,1.8l2.8,1.1l3.1,0.3l3.1-0.6l3.1-1.4l2.6-2l2.2-2.6l1.3-2.8l0.7-3l-0.2-3.2l-1-2.8l-1.7-2.4l-2.4-1.8l-2.8-1l-3.2-0.3l-3.1,0.6l-3,1.3l-2.7,2.1l-2.1,2.6l-1.3,2.8l-0.6,3.3l0.2,3l1,2.8l1.7,2.3" fill="none" stroke="#1c14dc" stroke-width="1.5" stroke-linejoin="round"/>
<path d="M506.9,85.7l-4.2-4.4l-12.6-13.7l-4-3.8l-4.3-3.5l-4.7-3.1l-5.1-2.5l-5.3-1.6l-5-0.7l-3.8,0l-3.9,0.5l-3.5,1l-3.1,1.3l-3,1.9l-2.5,2.2l-2.2,2.6l-1.6,2.9l-1.1,3.4l-0.3,3.7l0.2,2l0.4,1.6l1.5,3.1l1,1.4l1.2,1.2l2.8,1.9l1.8,0.7l1.7,0.4l3.6,0.2l1.9-0.3l1.9-0.5l3.5-1.7l3.1-2.5l2.3-2.9l1-1.9l0.7-1.8l0.6-3.5l-0.4-3.3l-0.4-1.6l-0.9-1.7l-1.9-2.5l-2.6-1.9l-3-1.1l-3.3-0.5l-3.6,0.4l-3.2,1.2l-3,1.9l-2.4,2.4l-1.9,2.9l-1.1,3.2l-0.3,3.4l0.7,3.1l1.4,2.9l2.1,2.2l2.9,1.6l3.1,0.7l3.2-0.1l3.4-1l2.9-1.7l2.6-2.4l2-3l1-3.1l0.3-3.4l-0.6-3.2l-1.5-2.7l-2.1-2.1l-2.8-1.5l-3.1-0.7l-3.2,0.2l-3.3,1l-2.9,1.6l-2.5,2.4l-1.9,2.8l-1,3l-0.3,3.3l0.6,3l1.4,2.8l2,2.1l2.7,1.5l3,0.7l3.1-0.1l3.2-0.9l3-1.9l2.5-2.3l1.8-3l1-2.9l0.3-3l-0.6-3.1l-1.4-2.7l-2.1-2l-2.7-1.5l-3.1-0.7l-3.2,0.2l-3.2,1l-2.8,1.7l-2.4,2.4l-1.8,2.7l-1,3l-0.2,3.3l0.7,2.9l1.4,2.7l2.1,2l2.7,1.4l3,0.7l3-0.2l3.2-1.1l2.7-1.6l2.4-2.4l1.8-2.9l1-3.2l0.2-3l-0.7-3l-1.4-2.5l-2.1-2l-2.7-1.4l-3.1-0.6l-3.2,0.3l-3.1,1l-2.7,1.8l-2.4,2.3l-1.6,2.8l-1,3.2l-0.1,3l0.7,2.9l1.5,2.7l2.1,1.9l2.6,1.3l3,0.6" fill="none" stroke="#1c14dc" stroke-width="1.5" stroke-linejoin="round"/>
<path d="M490.3,45.6l-8,1l-16.3,1.5l-4.1,0.6l-4.1,0.8l-4.4,1.4l-4.2,1.8l-3.9,2.3l-3.1,2.7l-2.5,2.8l-1.8,3.1l-1.2,3.1l-0.6,3.2l0.1,3.2l0.6,3l1.4,2.8l1.9,2.4l2.9,2.2l1.8,0.8l1.7,0.6l3.7,0.4l2-0.2l2.1-0.4l3.7-1.5l1.9-1.2l1.5-1.2l2.7-2.9l1.8-3.4l0.6-1.9l0.4-1.8l0.1-1.9l-0.1-1.8l-0.4-1.7l-0.7-1.9l-0.8-1.4l-1.2-1.6l-1.4-1.3l-1.6-1l-1.6-0.8l-1.7-0.6l-2.1-0.4l-2-0.1l-2,0.2l-1.9,0.4l-3.2,1.3l-2.8,1.8l-2.3,2.3l-1.9,2.8l-1.1,3l-0.4,3.3l0.3,3l1.2,2.8l1.8,2.4l2.6,1.9l3,1.1l3.4,0.2l3.4-0.6l3.1-1.4l2.8-2.2l2.3-2.8l1.5-3.3l0.6-3.2l-0.2-3.1l-0.4-1.4l-0.7-1.6l-1.9-2.5l-1.3-1l-1.3-0.9l-3-1l-3.4-0.2l-3.2,0.6l-3.1,1.4l-2.7,2l-2.2,2.6l-1.4,2.9l-0.7,3.1l0.1,3.1l0.9,3l1.6,2.4l2.3,1.9l2.8,1.2l3.1,0.4l3.2-0.4l3.2-1.2l2.7-2l2.3-2.5l1.6-3.1l0.8-3l-0.1-3.3l-0.9-3l-1.7-2.4l-2.2-1.8l-2.9-1.2l-3.2-0.3l-3.1,0.4l-3.1,1.2l-2.7,1.9l-2.2,2.5l-1.5,2.8l-0.8,3.3l0,3l0.9,2.9l1.7,2.6l2.2,1.8l2.7,1.2l3.1,0.4l3.1-0.4l3.2-1.3l2.6-1.9l2.3-2.5l1.5-3l0.8-3l-0.1-3.2l-0.9-2.9l-1.7-2.4l-2.2-1.8l-2.8-1.1l-3.1-0.4l-3.1,0.4l-3.1,1.3l-2.6,1.8l-2.2,2.5l-1.5,2.8l-0.8,3.3l0.1,3l0.9,2.9l1.7,2.5l2.2,1.8l2.7,1.1l3.1,0.4l3.1-0.4l3.1-1.3l2.6-1.9l2.2-2.6" fill="none" stroke="#1c14dc" stroke-width="1.5" stroke-linejoin="round"/>
<path d="M450.2,29l-12.2,20.7l-2.2,4.2l-1.9,4.3l-1.5,4.8l-0.8,4.5l-0.1,4.2l0.8,4.4l0.8,2.4l0.9,2l1.3,2.2l1.3,1.7l1.9,1.9l1.8,1.4l2.1,1.2l2.2,0.9l2.4,0.8l2.2,0.3l2.7,0.2l2.3-0.1l2.4-0.4l2.4-0.7l2.3-0.9l2.3-1.2l2.1-1.5l2-1.7l1.7-2l1.2-1.7l1.1-1.8l0.9-2.3l0.7-2.4l0.3-2.4l-0.1-2.4l-0.4-2.2l-0.6-2.1l-1.1-2.4l-1.2-1.7l-1.6-1.8l-1.9-1.5l-1.9-1.2l-2.1-0.9l-2.4-0.8l-2.5-0.4l-2.7,0l-2.6,0.2l-2.5,0.6l-2.2,0.9l-2.4,1.3l-2,1.5l-1.8,1.6l-1.5,1.9l-1.3,2.2l-0.8,2l-0.6,2.3l-0.2,2.4l0.2,2.3l1,3l1.7,2.6l2.2,2.1l3,1.4l3.1,0.7l3.2-0.1l3.4-0.9l2.9-1.6l2.9-2.4l2.1-2.9l1.4-3.2l0.6-3.3l-0.3-3.2l-0.5-1.5l-0.8-1.7l-2-2.5l-2.6-1.8l-3.1-1.1l-3.5-0.3l-3.6,0.7l-3.2,1.5l-2.9,2.2l-2.3,2.9l-1.5,3.2l-0.5,3.4l0.3,3.2l1,2.7l1.8,2.4l2.3,1.7l2.8,1.1l3.1,0.4l3.2-0.5l3-1.2l2.8-1.9l2.3-2.6l1.7-3.2l0.8-3l0-3.1l-0.9-3l-1.6-2.6l-2.3-1.9l-2.8-1.2l-3.3-0.5l-3.2,0.4l-3.1,1.2l-2.8,1.8l-2.3,2.5l-1.6,2.8l-0.9,3.3l0,3.1l0.8,2.9l1.5,2.4l2.2,2l2.6,1.3l3,0.6l3.1-0.3l3.2-1.1l2.7-1.7l2.4-2.4l1.8-3l0.9-2.9l0.1-3l-0.6-3.1l-1.5-2.6l-2.1-2l-2.7-1.3l-2.9-0.6l-3.2,0.2l-3.2,1l-2.7,1.6l-2.4,2.4l-1.8,2.8l-1,3.1l-0.1,3.1l0.6,2.9l1.4,2.7l2.1,2l2.7,1.4l3,0.6l3.1-0.2l3.1-1l3-1.9l2.3-2.4l1.7-2.9l0.9-3l0.1-2.9l-0.6-3l-1.5-2.6l-2.1-1.9" fill="none" stroke="#1c14dc" stroke-width="1.5" stroke-linejoin="round"/>
<path d="M410.1,45.6l5.7,20.4l1.8,5.9l2.4,6.4l2.8,5.5l2.1,3.3l1.9,2.6l2.1,2.4l2.3,2.2l2.5,1.9l2.6,1.8l2.9,1.5l3,1.3l3.2,0.9l3.3,0.7l3.5,0.2l2.8,0l3.5-0.4l2.9-0.7l3.4-1.1l2.7-1.2l3.1-1.9l2.3-1.8l2-2l2.3-2.7l1.5-2.4l1.4-3.1l0.9-2.5l0.6-3.2l0.2-2.5l-0.1-2.5l-0.3-2.3l-0.8-2.8l-0.8-2.1l-1.3-2.5l-1.5-2.2l-1.6-1.9l-1.8-1.7l-2.3-1.7l-2.4-1.4l-2.5-1.1l-2.4-0.8l-2.4-0.5l-2.8-0.2l-2.6,0l-2.9,0.4l-2.7,0.6l-2.7,1.1l-2.5,1.4l-2.1,1.6l-2.1,2l-1.6,2.2l-1.3,2.3l-0.8,2.3l-0.5,2.7l0,2.6l0.4,2.4l0.8,2.2l1.3,2l1.7,1.8l1.8,1.3l3.2,1.3l3.4,0.5l3.7-0.5l3.4-1.3l3.2-2.1l2.5-2.7l1.8-3.1l1.1-3.4l0.1-3.4l-0.7-3.2l-0.7-1.4l-1-1.5l-2.4-2.3l-1.5-0.9l-1.5-0.7l-3.3-0.7l-3.5,0.2l-3.6,1l-3.2,1.9l-2.7,2.5l-2,3.1l-1.1,3.4l-0.2,3.4l0.3,1.7l0.5,1.6l1.6,2.7l1.2,1.3l1.2,1l2.7,1.3l3.2,0.6l3.2-0.3l3.1-1l2.9-1.8l2.3-2.3l1.9-3l1.1-3l0.2-3.1l-0.6-3.2l-1.4-2.8l-2.1-2.1l-2.7-1.5l-3-0.7l-3.3,0.1l-3.3,0.9l-2.9,1.7l-2.5,2.3l-1.9,2.8l-1.1,3.2l-0.3,3.3l0.6,3l1.4,2.7l2.1,2.1l2.7,1.5l3,0.7l3.1-0.2l3.2-0.9l2.8-1.7l2.4-2.3l1.9-2.9l1-2.9l0.3-3l-0.5-3.1l-1.4-2.7l-2-2.1l-2.6-1.5l-3-0.7l-3.2,0.1l-3.2,0.9l-2.8,1.6l-2.5,2.3l-1.8,2.7l-1.1,3l-0.3,3.2l0.6,3l1.3,2.7l2,2.1l2.7,1.5l2.9,0.7l3-0.1l3.2-0.9l2.8-1.6l2.4-2.2l1.9-2.9l1.1-2.9l0.3-2.9l-0.5-3.1l-1.3-2.7l-1.9-2.1l-2.6-1.6l-2.9-0.7l-3.1,0l-3,0.8" fill="none" stroke="#1c14dc" stroke-width="1.5" stroke-linejoin="round"/>
<path d="M393.5,85.7l20.1,13.6l6.5,4.1l4.4,2.4l3.5,1.7l7,2.6l4.4,1.2l3.5,0.6l4.5,0.4l3.6,0l4.4-0.4l3.5-0.7l4.3-1.3l3.2-1.3l3.1-1.7l2.1-1.4l2.7-2.1l2.5-2.3l2.1-2.5l1.8-2.7l1.6-2.8l1.2-2.8l0.8-2.9l0.6-2.9l0.3-2.9l-0.1-3.5l-0.4-2.6l-0.7-3.2l-0.9-2.4l-1.3-2.7l-1.2-2l-1.7-2.3l-3.4-3.5l-4.1-2.9l-2.2-1.1l-2.5-1l-2.6-0.7l-2.4-0.4l-4.8-0.2l-2.6,0.3l-2.4,0.5l-4.4,1.7l-2.4,1.4l-2.2,1.7l-1.8,1.8l-1.5,2l-1.2,2l-0.9,2.4l-0.5,2.5l-0.1,2.4l0.2,2.4l0.7,2.2l1.2,2.2l1.3,1.7l1.7,1.4l2,1.2l2.3,0.9l2.3,0.3l3.6-0.1l3.5-1.1l3.3-1.9l2.9-2.7l1.3-1.7l0.9-1.6l1.2-3.4l0.3-3.5l-0.2-1.6l-0.6-1.9l-0.6-1.5l-1-1.5l-2.4-2.3l-1.4-1l-1.6-0.7l-3.3-0.7l-3.6,0.1l-3.5,1l-3.1,1.7l-2.7,2.5l-2.1,3.1l-1.2,3.3l-0.3,3.4l0.2,1.7l0.4,1.7l1.5,2.8l1.2,1.3l1.2,1l2.9,1.5l1.6,0.4l1.8,0.2l3.2-0.3l3.1-1.1l2.9-1.8l2.5-2.5l1.8-3.1l1-3l0.1-3.1l-0.7-3.2l-1.5-2.7l-2.1-2l-2.8-1.4l-3.1-0.6l-3.2,0.1l-3.3,1.1l-2.9,1.7l-2.4,2.4l-1.8,2.8l-1.1,3.2l-0.2,3.3l0.7,3l1.5,2.6l2.1,2.1l2.8,1.4l3,0.6l3.1-0.2l3.2-1.1l2.8-1.7l2.4-2.4l1.8-3l0.9-2.9l0.2-3l-0.6-3.1l-1.5-2.6l-2-2l-2.8-1.4l-3.1-0.7l-3.2,0.3l-3.2,1l-2.8,1.7l-2.3,2.4l-1.7,2.8l-1,3.2l-0.1,3l0.6,3l1.5,2.6l2.1,2l2.8,1.4l3,0.6l3.1-0.3l3.1-1.1l2.7-1.7l2.4-2.4l1.7-2.9l0.9-2.9l0.2-3l-0.7-3l-1.4-2.6l-2.1-2l-2.6-1.4l-3.2-0.6l-3.1,0.3l-3.2,1l-2.7,1.7l-2.4,2.4" fill="none" stroke="#1c14dc" stroke-width="1.5" stroke-linejoin="round"/>
<path d="M410.1,125.8l8.1-0.7l16.6-1.1l7.5-0.8l4.6-0.8l4.5-0.9l7.2-2.2l3.8-1.7l3.7-1.8l3.4-2.1l3.9-3l2.7-2.6l2.5-2.8l2.2-2.9l2.2-3.8l1.1-2.3l1.2-3.1l1.3-5.5l0.3-3.1l0-3l-0.3-2.9l-0.5-2.8l-0.7-2.6l-1.1-3.1l-1.2-2.2l-1.6-2.6l-1.8-2.4l-1.9-2l-2-1.8l-2.1-1.6l-4.3-2.4l-4.4-1.4l-5-0.8l-4.6,0.1l-4.6,1l-4.2,1.9l-3.5,2.5l-2.9,3.1l-1.3,2l-1,2.2l-0.7,2.1l-0.3,2.2l0,2.2l0.3,2.2l0.6,2l1,1.9l1.4,1.8l1.4,1.3l1.8,1.1l1.9,0.9l2.2,0.5l2,0.2l2.5-0.2l2.2-0.5l3.4-1.5l3.2-2.4l1.4-1.6l1.1-1.5l1.6-3.3l0.7-3.4l0-1.8l-0.3-1.9l-0.4-1.6l-0.9-1.7l-0.8-1.3l-1.2-1.3l-2.7-1.9l-3.2-1.2l-3.6-0.2l-3.4,0.5l-3.4,1.4l-2.8,2l-2.4,2.7l-1.7,3.2l-0.8,3.5l0.2,3.4l0.4,1.6l0.7,1.6l0.9,1.4l1,1.2l2.5,1.8l1.5,0.7l1.6,0.5l3.4,0.2l1.9-0.3l1.7-0.5l3.2-1.6l2.7-2.3l2.1-2.9l1.2-3l0.5-3.1l-0.4-3.3l-1.3-2.9l-1.9-2.3l-2.7-1.7l-3-0.8l-3.3-0.1l-3.1,0.7l-3,1.5l-2.7,2.2l-2,2.7l-1.3,3l-0.5,3.3l0.3,3l1.2,2.9l2,2.4l2.6,1.6l2.9,0.9l3.2,0.1l3.2-0.8l3.1-1.7l2.5-2.3l2-2.8l1.1-2.9l0.4-3l-0.4-3.2l-1.2-2.7l-2-2.2l-2.6-1.6l-2.9-0.8l-3.2,0l-3,0.8l-3,1.5l-2.5,2.2l-2,2.6l-1.2,3l-0.4,3.2l0.4,3l1.3,2.8l1.8,2.2l2.6,1.6l2.8,0.8l3.3,0.1l3.1-0.8l3-1.7l2.5-2.2l1.9-2.8l1.1-2.9l0.4-3l-0.4-3.1l-1.3-2.7l-1.9-2.1l-2.6-1.6l-2.9-0.8l-3.1,0l-3.2,0.9l-2.9,1.5l-2.5,2.3l-1.9,2.6l-1.1,3.2" fill="none" stroke="#1c14dc" stroke-width="1.5" stroke-linejoin="round"/>
<path d="M450.2,142.4l16.7-15.7l5.4-5.4l5.2-6.1l4.2-6.2l1.9-3.5l1.6-3.5l1.3-3.5l1.2-4.4l0.6-3.4l0.3-4.1l-0.1-3.2l-0.4-3.8l-1.2-5l-2.1-5l-2.7-4.3l-3-3.6l-3.8-3.3l-4.4-2.6l-4.4-1.8l-4.7-1l-4.8-0.1l-4.4,0.7l-4.2,1.5l-3.6,2l-3.1,2.7l-2.5,3.3l-1.7,3.6l-0.4,1.9l-0.3,2l0.1,2.2l0.3,1.9l0.7,2l0.9,1.7l1.2,1.6l1.4,1.3l1.7,1.2l1.7,0.8l1.8,0.6l2,0.3l2.1,0l2.2-0.3l2.2-0.7l1.9-0.8l1.8-1.1l1.7-1.4l1.5-1.5l1.1-1.5l1.7-3.3l0.8-3.4l-0.1-3.4l-1-3.1l-0.7-1.4l-1.1-1.5l-2.5-2.1l-3.2-1.4l-3.3-0.5l-3.5,0.3l-3.5,1.2l-3,1.9l-2.6,2.5l-1.8,3l-1.1,3.1l-0.2,3.5l0.2,1.6l0.5,1.7l1.6,2.8l1.1,1.2l1.3,1l1.3,0.8l1.6,0.7l3.2,0.5l1.9-0.1l1.6-0.3l3.3-1.2l3.1-2.2l2.4-2.7l1.5-2.8l0.8-3.1l0-3.4l-1-3.1l-1.7-2.5l-1.2-1.1l-1.3-0.9l-2.9-1.1l-3.3-0.4l-3.2,0.5l-3.2,1.3l-2.7,1.9l-2.2,2.5l-1.6,2.9l-0.7,3.3l0,3.1l0.9,2.9l1.7,2.6l2.3,1.9l3,1.2l3.2,0.3l3.1-0.5l3.2-1.3l2.6-2l2.2-2.7l1.6-3l0.6-3l-0.2-3.3l-1-2.9l-1.8-2.3l-2.2-1.7l-2.9-1.1l-3.2-0.3l-3.1,0.5l-3,1.3l-2.6,1.9l-2.2,2.6l-1.4,2.8l-0.8,3.3l0.2,3l0.9,2.9l1.8,2.5l2.3,1.8l2.7,1.1l3.2,0.3l3.1-0.6l3.1-1.3l2.6-2l2.2-2.6l1.5-3.1l0.6-2.9l-0.2-3.2l-1-2.9l-1.8-2.3l-2.2-1.7l-2.8-1l-3.2-0.3l-3.1,0.6l-3,1.3l-2.7,2l-2.1,2.6l-1.5,3l-0.5,3.3l0.2,3" fill="none" stroke="#1c14dc" stroke-width="1.5" stroke-linejoin="round"/>
<path d="M490.3,125.8l1.7-20.5l0.3-6.7l-0.1-7l-0.6-6.4l-1.5-6.5l-1-2.9l-1.5-3.4l-1.7-3.1l-1.8-2.8l-2-2.6l-2.1-2.2l-3.5-3l-3.6-2.3l-4-1.8l-4-1.2l-4.3-0.6l-4,0l-4,0.7l-4,1.4l-3.6,2l-3.2,2.7l-2.6,3.3l-1.6,3.6l-0.8,3.6l0.2,3.7l0.5,1.8l0.6,1.6l1,1.7l1,1.3l1.3,1.2l1.5,1l1.6,0.9l1.9,0.6l2,0.3l1.8,0.1l3.7-0.6l1.9-0.7l1.9-0.9l3.1-2.4l1.5-1.7l1.1-1.5l1-1.9l0.7-1.7l0.6-3.5l-0.3-3.4l-1.1-3l-0.9-1.3l-1.2-1.4l-2.6-1.9l-3.2-1.2l-3.3-0.4l-3.5,0.5l-3.4,1.2l-2.9,2l-2.5,2.6l-1.7,3l-1,3.2l-0.1,3.4l0.8,3.1l1.6,2.8l2.3,2.1l1.4,0.8l1.5,0.6l3.2,0.5l1.9-0.1l1.7-0.3l3.3-1.2l2.8-2l2.4-2.6l1.7-3.2l0.8-3.1l0-3.4l-0.9-2.8l-1.6-2.5l-1.2-1.2l-1.3-0.9l-2.9-1.2l-3.3-0.4l-3.2,0.4l-3.2,1.3l-2.7,1.9l-2.3,2.5l-1.6,2.9l-0.8,3.2l0,3.1l0.8,3l1.7,2.6l2.3,1.9l2.9,1.3l3.1,0.3l3.2-0.4l3.2-1.3l2.7-1.9l2.2-2.6l1.6-3.1l0.7-3l-0.1-3.2l-1-3l-1.7-2.4l-2.5-1.8l-2.8-1.1l-3.2-0.3l-3.1,0.5l-3.1,1.4l-2.7,2l-2.1,2.6l-1.4,2.9l-0.7,3.2l0.2,3l1,2.9l1.7,2.3l2.4,1.8l2.7,1.1l3.1,0.3l3.1-0.6l3.1-1.3l2.7-2l2.1-2.6l1.4-2.8l0.7-3l-0.2-3.2l-0.9-2.9l-1.7-2.3l-2.5-1.9l-2.8-1l-3.1-0.3l-3.1,0.6l-3,1.3l-2.7,2l-2.1,2.6l-1.4,2.9l-0.6,3.2l0.2,3l1,2.8l1.7,2.3" fill="none" stroke="#1c14dc" stroke-width="1.5" stroke-linejoin="round"/>
<path d="M447.7,81.8l3.4-0.1l3.1-0.9l2.9-1.8l2.6-2.6l1-1.6l0.8-1.6l0.9-3.1l0.1-1.7l-0.2-1.7l-0.4-1.7l-0.6-1.4l-0.9-1.4l-1-1.1l-2.5-1.8l-1.4-0.6l-1.8-0.4l-3.2,0l-3.5,0.9l-3,1.7l-2.6,2.5l-1.9,3l-0.9,3.3l0,3l0.7,2.9l1.6,2.6l1.1,1.1l1.2,0.9l2.7,1.2l3.2,0.5l3.1-0.4l3.1-1.3l2.5-1.8l2.4-2.7l1.5-2.9l0.7-3l-0.1-3.1l-0.8-2.7l-0.8-1.4l-1-1.2l-2.4-1.9l-2.8-1l-2.9-0.3l-3.2,0.5l-2.9,1.2l-2.8,2l-2.1,2.5l-1.4,2.9l-0.7,3l0.1,3l0.9,2.8l1.8,2.5l2.2,1.8l2.7,1.1l3.2,0.4l3.1-0.5l3.1-1.4l2.5-1.8l2.1-2.5l1.5-2.8l0.7-3.1l-0.1-3l-0.8-2.8l-0.8-1.4l-1-1.2l-2.4-1.9l-2.8-1l-2.9-0.3l-3.2,0.5l-2.9,1.2l-2.7,2l-2.2,2.5l-1.5,3.1l-0.6,3l0.2,3l1,2.9l1.7,2.4l2.3,1.7l2.8,1.1l3.3,0.2l3.1-0.6l3-1.4l2.5-1.9l2-2.5l1.4-2.9l0.6-3.1l-0.1-3l-1-2.7l-0.8-1.4l-1-1.2l-2.5-1.7l-2.8-1l-3.3-0.2l-3.1,0.7l-2.8,1.3l-2.7,2.1l-2,2.6l-1.3,2.9l-0.5,3.3l0.3,3l1.1,2.8l2,2.3l2.4,1.6l2.9,0.9l3.3,0.1l3.1-0.8l3-1.7l2.7-2.4l1.1-1.5l0.9-1.6l0.9-3l0.3-1.8l-0.1-1.7l-0.3-1.7l-0.6-1.5l-0.7-1.4l-1-1.2l-2.4-1.9" fill="none" stroke="#d4206a" stroke-width="2.1"/>
<circle cx="447.2" cy="70.24" r="2.4" fill="none" stroke="#e02020" stroke-width="1.6"/>
<text x="436.5" y="109" font-size="13" text-anchor="middle" font-weight="normal" >0.1</text>
<text x="433.2" y="134" font-size="13" text-anchor="middle" font-weight="normal" >0.2</text>
<circle cx="623.8" cy="85.5" r="25.2" fill="none" stroke="#4a4a4a" stroke-width="1" stroke-dasharray="1.1 4.4"/>
<circle cx="623.8" cy="85.5" r="50.4" fill="none" stroke="#4a4a4a" stroke-width="1" stroke-dasharray="1.1 4.4"/>
<line x1="560.8" y1="85.5" x2="686.8" y2="85.5" stroke="#4a4a4a" stroke-width="1" stroke-dasharray="1.1 4.4"/>
<line x1="569.24" y1="117" x2="678.36" y2="54" stroke="#4a4a4a" stroke-width="1" stroke-dasharray="1.1 4.4"/>
<line x1="592.3" y1="140.06" x2="655.3" y2="30.94" stroke="#4a4a4a" stroke-width="1" stroke-dasharray="1.1 4.4"/>
<line x1="623.8" y1="148.5" x2="623.8" y2="22.5" stroke="#4a4a4a" stroke-width="1" stroke-dasharray="1.1 4.4"/>
<line x1="655.3" y1="140.06" x2="592.3" y2="30.94" stroke="#4a4a4a" stroke-width="1" stroke-dasharray="1.1 4.4"/>
<line x1="678.36" y1="117" x2="569.24" y2="54" stroke="#4a4a4a" stroke-width="1" stroke-dasharray="1.1 4.4"/>
<circle cx="623.8" cy="85.5" r="63.0" fill="none" stroke="#4a4a4a" stroke-width="1"/>
<text x="699.4" y="90.1" font-size="13" text-anchor="middle" font-weight="normal" >0</text>
<text x="689.27" y="52.3" font-size="13" text-anchor="middle" font-weight="normal" >30</text>
<text x="661.6" y="24.63" font-size="13" text-anchor="middle" font-weight="normal" >60</text>
<text x="623.8" y="14.5" font-size="13" text-anchor="middle" font-weight="normal" >90</text>
<text x="586" y="24.63" font-size="13" text-anchor="middle" font-weight="normal" >120</text>
<text x="558.33" y="52.3" font-size="13" text-anchor="middle" font-weight="normal" >150</text>
<text x="548.2" y="90.1" font-size="13" text-anchor="middle" font-weight="normal" >180</text>
<text x="558.33" y="127.9" font-size="13" text-anchor="middle" font-weight="normal" >210</text>
<text x="586" y="155.57" font-size="13" text-anchor="middle" font-weight="normal" >240</text>
<text x="623.8" y="165.7" font-size="13" text-anchor="middle" font-weight="normal" >270</text>
<text x="661.6" y="155.57" font-size="13" text-anchor="middle" font-weight="normal" >300</text>
<text x="689.27" y="127.9" font-size="13" text-anchor="middle" font-weight="normal" >330</text>
<path d="M642.7,85.5l1.7-2.9l1.2-3.2l0.7-3.3l0-3.9l-0.6-3.2l-1.2-3l-1.6-2.7l-2.4-2.8l-2.9-2.2l-3.1-1.7l-3.4-1l-3.4-0.4l-3.3,0.2l-3.7,0.8l-3,1.2l-3.2,1.9l-1.9,1.7l-2.1,2.2l-1.4,2.1l-1.4,2.7l-0.9,2.8l-0.5,2.9l0,2.9l0.3,2.5l0.8,2.9l1,2.2l1.6,2.6l1.7,2l2.1,1.7l2.2,1.5l2.6,1.1l2.7,0.8l2.9,0.4l3.1,0l3.1-0.5l2.4-0.7l3-1.4l2.2-1.4l2.1-1.8l1.8-1.9l1.9-2.8l1.2-2.5l0.8-2.6l0.5-2.6l0.1-2.6l-0.3-2.7l-0.6-2.5l-1.3-2.9l-1.3-2.1l-1.5-2l-1.8-1.6l-2.5-1.8l-2.1-1l-2.8-1l-2.2-0.5l-2.8-0.2l-2.8,0.2l-2.7,0.5l-2.6,0.8l-2.4,1.2l-2.2,1.4l-2,1.7l-1.7,1.9l-1.7,2.4l-1.2,2.2l-0.8,2.4l-0.7,2.8l-0.2,2.5l0.2,2.9l0.5,2.5l0.9,2.3l1.1,2.2l1.5,2.1l1.7,2l2.1,1.6l1.9,1.2l2.5,1.1l2.2,0.7l2.9,0.5l2.4,0.1l3.1-0.3l2.4-0.6l2.4-0.9l2.4-1.2l2.2-1.6l2-1.8l1.7-2l1.5-2.3l1.2-2.4l0.6-1.9l0.6-2.7l0.2-2.6l-0.2-2.6l-0.6-2.6l-0.8-2.4l-1.2-2.2l-1.4-2.1l-1.7-1.7l-1.9-1.6l-2.6-1.5l-2.1-1l-2.8-0.8l-2.3-0.3l-2.8-0.1l-2.2,0.3l-2.7,0.5l-2.5,1l-2.4,1.2l-2.1,1.5l-1.9,1.7l-1.7,1.9l-1.7,2.5l-1.1,2.2l-0.9,2.8l-0.4,2.5l-0.2,2.4l0.3,2.9l0.6,2.5l0.9,2.3l1.2,2.2l1.5,2.1l1.8,1.8l2.2,1.7l1.9,1.1l2.6,1l2.2,0.6l2.9,0.4l2.4,0.1l2.5-0.3l2.5-0.6l2.4-0.9l2.3-1.3l2.2-1.5l2-1.8l1.7-2l1.5-2.3l1.2-2.4l0.6-2l0.6-2.6l0.2-2.6l-0.2-2.7l-0.6-2.5l-0.8-2.4l-1.2-2.2l-1.5-2.1l-1.6-1.8l-1.9-1.5l-2.6-1.6l-2.1-0.9l-2.8-0.8l-2.3-0.3l-2.8-0.1l-2.2,0.3l-2.7,0.6l-2.5,0.9l-2.4,1.2l-2.1,1.5l-2,1.7l-1.6,1.9l-1.7,2.5l-1.1,2.2l-0.9,2.9l-0.4,2.4l-0.2,2.4l0.3,3l0.6,2.4l0.9,2.3l1.2,2.2l1.5,2.1l1.9,1.8l2.1,1.7l1.9,1.1l2.6,1l2.2,0.7l2.9,0.3l2.5,0.1l2.4-0.3l2.5-0.6l2.4-1l2.3-1.2l2.2-1.5l2-1.8l1.8-2.1l1.4-2.2l1.2-2.5l0.6-1.9l0.6-2.6l0.2-2.7l-0.2-2.6l-0.6-2.5l-0.8-2.4l-1.2-2.3l-1.5-2l-1.7-1.8l-1.8-1.5l-2.6-1.6l-2.2-0.9l-2.8-0.8l-2.2-0.3l-2.8-0.1l-2.2,0.3l-2.7,0.6l-2.5,0.9l-2.4,1.2l-2.1,1.5l-2,1.7l-1.6,1.9l-1.7,2.5l-1.1,2.3l-0.9,2.8l-0.4,2.4l-0.2,2.5l0.3,2.9l0.6,2.4l0.9,2.3l1.2,2.2l1.5,2.1l1.9,1.9l2.1,1.6l1.9,1.1l2.6,1.1l2.2,0.6l3,0.3l2.4,0l2.4-0.2l2.5-0.6l2.4-1l2.3-1.2l2.2-1.5l2-1.8l1.8-2.1l1.4-2.3l1.2-2.4l0.6-1.9l0.6-2.6l0.2-2.7l-0.2-2.6l-0.6-2.6l-0.9-2.4l-1.1-2.2l-1.5-2l-1.7-1.8l-1.9-1.5l-2.5-1.6l-2.2-0.9l-2.8-0.8l-2.2-0.3l-2.9-0.1l-2.2,0.3l-2.6,0.6l-2.6,0.9l-2.3,1.2l-2.2,1.5l-1.9,1.7l-1.7,1.9l-1.6,2.5l-1.1,2.3l-0.9,2.8l-0.4,2.4l-0.2,2.5l0.3,2.9l0.6,2.4l0.9,2.3l1.2,2.3l1.6,2l1.8,1.9l2.1,1.6l1.9,1.1l2.6,1.1l2.2,0.6l3,0.4l2.4-0.1l3.1-0.4l2.4-0.7l2.4-1l2.3-1.3l2.2-1.6l1.9-1.8l1.7-2.2l1.4-2.3l1.1-2.5l0.7-2.6l0.3-2.6l0-2.6l-0.4-2.6l-0.7-2.5l-1-2.3l-1.4-2.2l-1.5-1.9l-1.8-1.6l-2-1.4l-2.6-1.4l-2.2-0.8l-2.8-0.6l-2.9-0.2l-2.7,0.2l-2.7,0.5l-2.6,0.9l-2.4,1.2l-2.2,1.4l-1.9,1.7l-1.8,1.8l-1.4,2.1l-1.4,2.6l-1,2.8l-0.5,2.9l-0.1,3l0.2,2.4l0.8,2.9l0.9,2.3l1.6,2.6l1.7,2l1.9,1.8l2.3,1.5l2.5,1.2l2.7,0.8l2.9,0.5l3,0l3.1-0.4l2.5-0.7" fill="none" stroke="#1c14dc" stroke-width="1.5" stroke-linejoin="round"/>
<path d="M637.2,72.1l-0.3-2.1l-0.5-1.7l-0.6-1.5l-1.2-1.8l-1.1-1.3l-1.6-1.4l-1.8-1.1l-1.9-0.7l-1.6-0.4l-2.1-0.3l-2.1,0.1l-2,0.4l-2,0.6l-1.9,1l-1.7,1.1l-1.5,1.4l-1.4,1.5l-1.1,1.7l-1,1.9l-0.7,1.9l-0.4,2l-0.1,2.1l0.3,3.7l1.3,3.6l1.2,1.9l1,1.4l1.6,1.6l1.5,1.1l3.4,1.8l2.3,0.7l2.6,0.4l2.6,0l2.1-0.3l2.7-0.7l2.1-0.9l2-1.2l1.9-1.4l2.1-2.1l1.4-1.9l1.2-2.1l0.9-2.3l0.6-2.3l0.3-2.4l-0.1-2.3l-0.4-2.4l-0.7-2.2l-0.9-2.1l-1.3-1.9l-1.9-2.1l-1.7-1.4l-2.3-1.4l-2-0.9l-2.6-0.7l-2.1-0.3l-2.6-0.1l-2.6,0.4l-2.5,0.6l-2.3,1l-2.2,1.2l-2,1.5l-1.8,1.7l-1.2,1.5l-1.3,2l-1.1,2.2l-0.7,2.2l-0.5,2.4l-0.2,2.3l0.1,2.4l0.4,1.9l0.7,2.3l0.7,1.8l1.3,2.1l1.2,1.6l1.8,1.8l1.6,1.3l1.9,1.1l1.9,0.9l2.7,0.8l2.8,0.5l2.9,0l2.4-0.3l3-0.8l2.4-0.9l2.2-1.3l2.1-1.6l1.9-1.8l1.6-2.1l1.4-2.3l1.1-2.4l0.7-2.5l0.3-2.6l0-2.6l-0.4-2.6l-0.7-2.4l-1-2.3l-1.3-2.1l-2-2.3l-1.8-1.6l-2.4-1.6l-2.2-0.9l-2.7-0.9l-2.2-0.4l-2.8-0.1l-2.7,0.3l-2.7,0.6l-2.5,0.9l-2.3,1.2l-2.1,1.5l-2.3,2.1l-1.3,1.5l-1.4,2.1l-1.1,2.2l-0.8,2.3l-0.5,2.4l-0.3,2.4l0.1,2.5l0.3,1.9l0.7,2.4l0.7,1.8l1.3,2.2l1.2,1.7l1.8,1.8l1.6,1.4l1.8,1.2l2,0.9l2.7,0.9l2.8,0.6l3,0.1l2.5-0.3l3.1-0.7l2.4-0.9l2.3-1.3l2.1-1.5l2-1.8l1.7-2.1l1.5-2.3l1.1-2.4l0.8-2.6l0.4-2.6l0.1-2.7l-0.4-2.6l-0.6-2.5l-1-2.3l-1.3-2.2l-1.9-2.4l-1.8-1.6l-2.5-1.7l-2.1-1l-2.8-0.9l-2.2-0.5l-2.8-0.2l-2.8,0.2l-2.7,0.6l-2.5,0.9l-2.4,1.2l-2.2,1.4l-2.3,2l-1.3,1.6l-1.5,2l-1.2,2.2l-0.9,2.3l-0.5,2.4l-0.3,2.5l0,2.4l0.3,2l0.6,2.4l0.7,1.8l1.2,2.3l1.1,1.6l1.8,2l1.6,1.4l1.8,1.2l1.9,1l2.7,1l2.8,0.6l3,0.2l2.4-0.2l3.1-0.6l2.4-0.9l2.4-1.2l2.2-1.5l2-1.7l1.8-2.1l1.5-2.2l1.2-2.4l0.9-2.6l0.5-2.6l0.1-2.7l-0.2-2.6l-0.6-2.5l-0.9-2.4l-1.2-2.2l-1.5-2l-1.7-1.8l-2.4-1.8l-2-1.2l-2.8-1.1l-2.2-0.5l-2.8-0.4l-2.8,0.1l-2.8,0.4l-2.6,0.8l-2.4,1l-2.3,1.4l-2.4,1.9l-1.4,1.5l-1.6,2l-1,1.7l-1.1,2.3l-0.7,2.3l-0.5,2.4l-0.2,2.5l0.1,1.9l0.5,2.5l0.5,1.9l1,2.3l1,1.7l1.6,2.1l1.5,1.5l1.6,1.3l1.8,1.2l2.6,1.2l2.7,0.8l2.9,0.4l2.4,0.1l3.1-0.4l2.5-0.6l2.4-1l2.3-1.2l2.1-1.6l2-1.8l1.7-2.1l1.5-2.3l1.1-2.5l0.8-2.6l0.4-2.6l0-2.6l-0.3-2.6l-0.7-2.5l-0.9-2.4l-1.3-2.1l-1.6-2l-2.2-2.1l-2-1.3l-2.6-1.4l-2.2-0.7l-2.9-0.6l-2.8-0.2l-2.8,0.2l-2.6,0.6l-2.6,0.9l-2.4,1.2l-2.1,1.4l-1.6,1.3l-1.8,1.9l-1.2,1.6l-1.3,2.2l-0.8,1.8l-0.7,2.3l-0.5,2.4l-0.2,2l0.1,2.5l0.4,1.9l0.6,2.4l0.8,1.8l1.2,2.2l1.3,1.7l3,2.9l2.3,1.5l2.5,1.2l2.7,0.8l2.3,0.4l3.1,0.1l2.4-0.3l2.5-0.6l2.4-0.8l2.3-1.2l2.3-1.5l2-1.8l1.8-2l1.5-2.2l1.2-2.5l0.8-2.5l0.5-2.7l0.2-2.6l-0.3-2.6l-0.6-2.5l-0.9-2.4l-1.2-2.2l-1.5-2l-1.7-1.8l-2.4-1.8l-2.1-1.2l-2.7-1.1l-2.2-0.5l-2.9-0.4l-2.2,0l-2.8,0.4l-2.6,0.7l-2.5,1l-3.5,2.2l-3,2.8l-2.4,3.3l-0.9,1.8l-0.9,2.3l-0.6,2.4l-0.2,1.9l0.1,4l0.5,2.4l0.6,1.9l1.9,3.6l1.5,2l1.9,1.8l2.1,1.6l2,1.1l2.6,1l2.2,0.6l3,0.4l2.4-0.1l3.1-0.4l2.4-0.8l2.4-1l2.3-1.3l2.1-1.7l1.9-1.9l1.7-2.1l1.3-2.4" fill="none" stroke="#1c14dc" stroke-width="1.5" stroke-linejoin="round"/>
<path d="M623.8,66.6l-1.6-0.2l-1.4,0.1l-1.3,0.3l-1.3,0.6l-1.5,0.9l-1,1l-0.9,1.2l-0.7,1.4l-0.5,1.4l-0.3,1.6l0.2,2.9l1.1,2.8l1,1.4l1,1l2.2,1.5l2.7,0.9l3,0.3l2.8-0.5l2.8-1.2l2.2-1.7l2.1-2.4l1.3-2.5l0.6-2l0.3-2.1l-0.1-2.1l-0.3-1.6l-0.5-1.6l-0.9-1.8l-1.2-1.7l-1.5-1.4l-1.3-0.9l-1.8-1l-1.9-0.6l-2-0.3l-2.1-0.1l-2,0.3l-1.9,0.5l-1.9,0.8l-3,2.1l-1.4,1.4l-1.3,1.6l-1,1.7l-0.8,1.9l-0.6,1.9l-0.3,2l0,2.1l0.2,2l1.1,3.6l2,3.3l1.5,1.6l1.4,1.2l1.9,1.2l1.7,0.8l3.8,1.1l2,0.1l2.1,0l3.7-0.7l3.6-1.5l3.3-2.3l2.8-3.1l2.1-3.6l0.8-2.2l0.5-2.4l0.1-2.3l-0.2-2.9l-0.6-2.3l-1.1-2.6l-1.2-1.9l-1.8-2.1l-1.7-1.5l-2.3-1.5l-1.9-0.9l-2.6-0.7l-2.6-0.4l-2.6,0l-2.6,0.3l-2.4,0.7l-2.3,1l-2.2,1.2l-1.9,1.5l-2.1,2.1l-1.4,1.9l-1.2,2.1l-1.1,2.7l-0.5,2.3l-0.3,2.8l0.1,2.4l0.4,2.3l0.7,2.3l1,2.2l1.4,2.1l1.6,1.9l1.9,1.7l1.8,1.1l1.9,1l2,0.8l2.2,0.5l2.2,0.3l2.4,0.1l4.2-0.7l4.1-1.5l2.2-1.3l1.6-1.2l1.9-1.8l1.3-1.5l1.4-2.2l1-1.8l0.9-2.4l0.6-2.6l0.2-2.6l-0.2-2.6l-0.4-2.5l-0.9-2.3l-1.1-2.3l-1.8-2.4l-1.6-1.8l-2.4-1.8l-2-1.1l-2.7-1.1l-2.8-0.6l-2.8-0.3l-2.7,0.2l-2.7,0.5l-2.5,0.8l-2.4,1.1l-2.2,1.4l-2.3,2l-1.7,1.9l-1.7,2.5l-1.1,2.2l-0.9,2.8l-0.5,2.9l-0.1,2.4l0.4,3l0.6,2.3l1.2,2.8l1.3,2.1l1.6,2l2,1.8l1.7,1.2l1.9,1.1l2.1,0.8l2.2,0.6l2.3,0.4l2.4,0.1l4.3-0.6l4.2-1.5l2.3-1.2l1.6-1.2l2-1.8l1.4-1.5l1.5-2.2l1-1.8l1-2.5l0.7-2.6l0.3-2.6l-0.1-2.6l-0.5-2.6l-0.7-2.4l-1.1-2.3l-1.8-2.6l-1.7-1.8l-2.3-1.9l-2.1-1.2l-2.7-1.1l-2.2-0.6l-2.8-0.4l-2.8,0l-2.8,0.4l-2.6,0.7l-2.4,1l-2.3,1.3l-2.5,2l-1.7,1.8l-1.9,2.4l-1.2,2.2l-1,2.8l-0.7,2.8l-0.1,2.5l0.1,2.9l0.5,2.4l1.1,2.9l1.2,2.2l1.5,2l1.8,1.9l1.7,1.3l1.9,1.2l2,0.9l2.1,0.8l2.3,0.4l2.4,0.3l4.2-0.3l4.3-1.3l2.4-1.1l1.7-1.1l2.1-1.6l1.4-1.4l2.4-3.3l1.3-2.4l0.9-2.5l0.6-2.7l0.1-2.6l-0.1-2.6l-0.6-2.6l-0.8-2.4l-1.5-2.7l-1.6-2l-1.7-1.7l-1.9-1.5l-2.6-1.5l-2.2-0.9l-2.8-0.7l-2.8-0.3l-2.8,0.1l-2.7,0.5l-2.6,0.8l-2.4,1.1l-2.3,1.3l-2,1.7l-2.1,2.2l-1.5,2l-1.4,2.7l-0.8,2.3l-0.7,2.9l-0.2,2.9l0.2,2.5l0.7,2.8l0.9,2.4l1.2,2.2l1.5,2.1l3.1,2.8l1.8,1.2l2,1l2.1,0.8l2.2,0.6l4.2,0.3l4.3-0.6l4.3-1.5l2.3-1.3l1.6-1.2l2.9-2.8l1.6-2.1l1.3-2.4l1-2.5l0.7-2.6l0.3-2.7l-0.1-2.6l-0.5-2.6l-0.8-2.4l-1.1-2.3l-1.4-2.1l-1.6-1.8l-2.3-2l-2-1.3l-2.7-1.2l-2.3-0.7l-2.8-0.4l-2.8-0.1l-2.8,0.3l-2.6,0.7l-2.5,1l-2.3,1.3l-2.1,1.5l-1.9,1.7l-1.9,2.4l-1.3,2.1l-1.2,2.8l-0.8,2.8l-0.3,2.5l0,2.9l0.4,2.4l0.7,2.4l1,2.3l2.3,3.4l2.7,2.5l1.7,1.3l2,1l3.7,1.3l4.1,0.6l4.3-0.3l4.3-1.3l3.5-1.8l2.1-1.6l2-1.9l1.7-2.1l1-1.7l1.2-2.5l0.6-1.9l0.6-2.6l0.2-2.7l-0.1-1.9l-0.5-2.6l-0.8-2.4l-1.1-2.3l-1.4-2.1l-1.6-1.9l-1.9-1.6l-2-1.3" fill="none" stroke="#1c14dc" stroke-width="1.5" stroke-linejoin="round"/>
<path d="M610.4,72.1l-0.4,2.2l0,1.8l0.2,2.3l0.5,1.8l0.9,2.1l1,1.7l1.3,1.5l1.5,1.4l1.8,1.1l1.9,1l2.1,0.6l1.8,0.3l2.4,0.1l1.9-0.2l3.9-1.1l1.8-0.9l1.8-1.1l1.7-1.4l1.5-1.6l1.2-1.8l1.1-1.9l1.2-3.7l0.3-3.8l-0.2-2.2l-0.5-2.1l-0.8-2l-1.1-1.9l-1.3-1.6l-1.4-1.5l-1.7-1.3l-2.2-1.2l-1.9-0.7l-2.5-0.6l-2.5-0.2l-2.5,0.1l-2.4,0.5l-2.3,0.8l-2.1,1.1l-2,1.3l-1.8,1.6l-1.5,1.7l-1.4,1.9l-1,2.1l-0.9,2.6l-0.5,2.3l-0.2,2.7l0.2,2.3l0.5,2.3l0.8,2.2l1.1,2.1l1.5,2l1.7,1.8l1.5,1.3l2.2,1.3l1.9,0.9l2.6,0.8l2.2,0.4l2.3,0.1l2.3-0.2l2.4-0.4l2.3-0.8l2.3-1l2.1-1.4l2-1.6l1.4-1.3l1.6-2.1l1.3-2.2l1-2.4l0.6-1.9l0.3-1.9l0.2-2.5l-0.2-2.6l-0.5-2.4l-0.9-2.3l-1.1-2.2l-1.5-1.9l-1.6-1.8l-1.8-1.4l-2.5-1.5l-2.1-0.9l-2.8-0.8l-2.2-0.3l-2.7,0l-2.7,0.4l-2.6,0.6l-2.4,1l-2.3,1.3l-2,1.5l-2.2,2.2l-1.5,1.9l-1.3,2.2l-0.9,2.2l-0.8,2.8l-0.4,2.9l0.1,2.5l0.3,2.4l0.7,2.3l1,2.3l1.3,2.1l1.6,2l2,1.8l2.2,1.5l2.4,1.2l2.7,0.9l2.3,0.4l2.9,0.2l2.5-0.2l2.4-0.5l2.4-0.8l2.4-1.1l2.2-1.4l2-1.7l1.4-1.5l1.7-2.1l1.3-2.3l1-2.5l0.5-2l0.4-1.9l0.1-2.7l-0.3-2.6l-0.6-2.5l-0.6-1.8l-1.2-2.2l-1.4-2l-1.7-1.8l-1.8-1.6l-2.5-1.5l-2.2-1l-2.8-0.8l-2.2-0.3l-2.8-0.1l-2.8,0.3l-2.6,0.6l-2.5,1l-2.3,1.3l-2.1,1.5l-1.9,1.7l-1.7,1.9l-1.3,2.1l-1.1,2.3l-1,2.8l-0.5,2.9l0,2.4l0.2,2.5l0.6,2.4l1.1,2.8l1.2,2.1l1.6,2.1l1.9,1.8l2.2,1.6l2.4,1.3l2.7,0.9l2.2,0.5l3,0.3l2.5-0.2l2.4-0.4l2.5-0.7l2.3-1.1l2.3-1.3l2.1-1.7l1.5-1.4l1.7-2.1l1.4-2.3l1.1-2.5l0.6-1.9l0.3-2l0.2-2.7l-0.1-2.6l-0.6-2.5l-0.8-2.4l-1.2-2.3l-1.4-2l-1.7-1.8l-1.9-1.5l-2.5-1.6l-2.2-1l-2.8-0.8l-2.2-0.3l-2.8-0.1l-2.8,0.3l-2.6,0.7l-2.5,1l-2.4,1.2l-2.1,1.6l-1.9,1.7l-1.6,1.9l-1.4,2.1l-1.1,2.3l-0.9,2.8l-0.5,2.9l0,2.5l0.2,2.4l0.6,2.4l0.9,2.3l1.2,2.3l1.5,2l1.8,1.9l2.1,1.6l2.4,1.4l2.6,1l2.3,0.5l2.9,0.4l2.5-0.1l2.4-0.3l2.5-0.7l2.4-1l2.3-1.3l2.2-1.6l1.4-1.3l1.8-2.1l1.5-2.3l1.2-2.4l0.6-1.9l0.5-2l0.2-2.6l0-2.7l-0.5-2.5l-0.5-1.9l-1.1-2.3l-1.3-2.1l-1.5-2l-1.8-1.6l-2-1.4l-2.1-1.2l-2.7-1l-2.2-0.6l-2.9-0.3l-2.8,0.1l-2.7,0.5l-2.6,0.8l-2.4,1.1l-2.3,1.3l-2,1.6l-1.8,1.9l-1.5,2l-1.3,2.1l-1.1,2.8l-0.7,2.9l-0.2,2.4l0,2.5l0.4,2.4l0.7,2.4l1,2.3l1.3,2.1l1.7,2l1.9,1.8l2.3,1.5l2.5,1.2l2.1,0.8l2.9,0.5l2.4,0.2l2.4-0.2l2.5-0.4l2.4-0.7l2.4-1.1l2.3-1.4l1.6-1.2l1.9-1.8l1.3-1.6l1.5-2.3l0.9-1.8l0.9-2.5l0.5-2l0.2-2l0-2.6l-0.2-2l-0.6-2.5l-0.7-1.8l-1.2-2.2l-1.4-2.1l-1.7-1.7l-1.9-1.6l-2-1.3l-2.2-1l-2.7-0.8l-2.3-0.4l-2.8-0.2l-2.3,0.2l-2.6,0.5l-2.6,0.9l-2.4,1.1l-2.2,1.4l-2,1.7l-1.7,1.9l-1.5,2l-1.2,2.2l-0.9,2.3l-0.6,2.4l-0.3,2.4l0,2.5l0.3,2.4l0.6,2.4l1,2.3l1.3,2.2l1.6,2.1l1.9,1.8l1.7,1.3l2.4,1.3l2.1,0.8l2.7,0.8l2.4,0.2l4.3-0.1l3.7-0.9l2.4-1l1.7-1l3.2-2.3l2.7-3l2.1-3.5l1.4-3.8l0.6-4l-0.1-2.6l-0.7-3.2l-1.1-3l-1.6-2.7l-2-2.3l-2.3-2l-2.6-1.6l-2.7-1.1l-2.8-0.7l-3.4-0.3l-2.8,0.2l-3.2,0.7l-3,1.1l-2.8,1.6l-2.4,1.9l-2.1,2.2" fill="none" stroke="#1c14dc" stroke-width="1.5" stroke-linejoin="round"/>
<path d="M604.9,85.5l2,3.2l2.4,2.9l3,2.5l2.8,1.7l3.8,1.5l3.4,0.8l4.3,0.2l3.6-0.3l3.7-1l3.5-1.5l3.2-2.1l2.9-2.6l2.5-3l1.5-2.7l1.4-3.6l0.8-3.7l0-4.5l-0.9-4.3l-1.7-3.9l-2.4-3.4l-2.9-2.9l-3.8-2.4l-3.6-1.4l-4.3-0.9l-2.4-0.1l-3,0.3l-2.3,0.4l-2.7,0.9l-2,0.9l-2.4,1.4l-2.2,1.7l-1.9,1.9l-1.3,1.6l-1.5,2.2l-1.1,2.3l-0.8,2.4l-0.5,2.5l-0.2,2.6l0.1,2.5l0.4,2.5l0.8,2.4l1.1,2.4l1.4,2.2l1.8,2l2,1.8l1.9,1.2l2.5,1.3l2.2,0.7l3,0.6l2.4,0.2l2.5-0.1l2.6-0.5l2.5-0.7l2.4-1.1l2.3-1.4l1.7-1.2l1.9-1.9l1.8-2.1l1.4-2.4l0.9-1.9l0.7-1.9l0.5-2.7l0.2-2l-0.1-2.7l-0.3-2l-0.7-2.5l-1-2.4l-1.3-2.2l-1.6-1.9l-1.8-1.7l-2-1.4l-2.1-1.2l-2.2-0.9l-2.9-0.7l-2.3-0.3l-2.8,0l-2.2,0.2l-2.7,0.7l-2.5,1l-2.4,1.2l-2.1,1.6l-1.9,1.7l-1.7,2l-1.4,2.1l-1.1,2.2l-0.9,2.8l-0.5,2.5l-0.1,2.4l0.1,2.5l0.5,2.4l0.8,2.4l1.2,2.3l1.4,2.1l1.8,1.9l2,1.7l1.9,1.2l2.5,1.2l2.2,0.6l2.9,0.6l2.4,0.1l2.5-0.2l2.5-0.5l2.4-0.8l2.4-1.1l2.2-1.5l2.1-1.7l1.8-2l1.6-2.2l1.3-2.4l0.9-2.5l0.5-2l0.3-2.6l0-2.7l-0.5-2.6l-0.7-2.4l-1.1-2.3l-1.4-2.1l-1.6-1.9l-1.8-1.6l-2-1.4l-2.1-1.1l-2.8-1l-2.2-0.5l-2.9-0.2l-2.2,0.1l-2.7,0.4l-2.6,0.8l-2.5,1.1l-2.2,1.3l-2.1,1.6l-1.8,1.8l-1.5,2l-1.3,2.2l-1,2.3l-0.8,2.8l-0.3,2.5l0,2.9l0.3,2.5l0.7,2.3l1,2.3l1.4,2.2l1.6,2l1.9,1.8l1.8,1.3l2.4,1.3l2.1,0.8l2.8,0.6l2.4,0.3l3-0.1l2.5-0.4l2.5-0.8l2.4-1l2.2-1.3l2.1-1.7l2-1.9l1.6-2.1l1.4-2.4l1-2.5l0.5-1.9l0.4-2.7l0-2.6l-0.3-2.6l-0.7-2.5l-1-2.4l-1.3-2.1l-1.5-2l-1.8-1.6l-1.9-1.5l-2.1-1.1l-2.8-1.1l-2.2-0.6l-2.8-0.3l-2.3,0l-2.7,0.4l-2.6,0.7l-2.5,1l-2.3,1.4l-2.1,1.5l-1.8,1.8l-1.6,2l-1.4,2.1l-1,2.2l-0.9,2.9l-0.4,2.4l0,2.9l0.3,2.5l0.6,2.4l0.9,2.3l1.3,2.2l1.6,2l1.8,1.9l1.7,1.3l2.4,1.3l2.1,0.9l2.8,0.7l2.3,0.3l3.1,0l2.4-0.3l2.5-0.7l2.4-0.9l2.3-1.3l2.2-1.6l1.9-1.8l1.7-2.1l1.5-2.3l1.1-2.5l0.6-1.9l0.4-2.7l0.2-2.6l-0.3-2.6l-0.6-2.5l-0.9-2.4l-1.2-2.2l-1.5-2l-1.8-1.8l-1.9-1.5l-2-1.2l-2.7-1.1l-2.3-0.6l-2.8-0.4l-2.2-0.1l-2.8,0.3l-2.7,0.7l-2.5,0.9l-2.3,1.3l-2.1,1.5l-1.9,1.7l-1.7,2l-1.3,2.1l-1.1,2.2l-1,2.8l-0.4,2.4l-0.2,3l0.3,2.4l0.5,2.4l0.9,2.4l1.2,2.2l1.5,2.1l1.8,1.8l2.2,1.7l2.3,1.3l2.1,0.9l2.8,0.7l2.3,0.3l3.1,0l2.4-0.3l2.5-0.7l2.4-0.9l2.3-1.3l2.2-1.6l1.9-1.8l1.7-2.1l1.5-2.3l1.1-2.5l0.6-1.9l0.4-2.7l0.2-2.6l-0.3-2.6l-0.6-2.6l-0.9-2.3l-1.3-2.2l-1.5-2l-1.7-1.8l-1.9-1.5l-2-1.2l-2.8-1.1l-2.2-0.7l-2.8-0.3l-2.3-0.1l-2.7,0.3l-2.7,0.7l-2.5,0.9l-2.3,1.3l-2.1,1.5l-1.9,1.8l-1.7,1.9l-1.3,2.1l-1.1,2.2l-1,2.8l-0.4,2.5l-0.2,2.9l0.3,2.4l0.5,2.5l0.9,2.3l1.2,2.2l1.5,2.1l1.9,1.9l1.6,1.3l2.4,1.4l2,0.9l2.8,0.8l2.3,0.4l3,0.1l2.5-0.3l2.4-0.6l2.4-0.9l2.4-1.2l2.2-1.5l2-1.8l1.8-2l1.5-2.3l1.1-2.4l0.9-2.6l0.4-2.6l0.2-2.7l-0.3-2.6l-0.6-2.5l-0.9-2.4l-1.3-2.2l-1.5-1.9l-1.7-1.8l-1.9-1.5l-2.1-1.2l-2.7-1.1l-2.2-0.7l-2.8-0.3l-2.3-0.1l-2.8,0.3l-2.6,0.7l-2.5,0.9l-2.3,1.3l-2.1,1.5l-1.9,1.8l-2,2.3l-1.3,2.1l-1,2.3l-0.9,2.8l-0.4,2.5" fill="none" stroke="#1c14dc" stroke-width="1.5" stroke-linejoin="round"/>
<path d="M610.4,98.9l3.6,1.9l4,1.4l4.1,0.8l3.4,0.3l4.3-0.3l3.5-0.7l4.2-1.5l3.2-1.7l3.6-2.6l2.5-2.6l2.2-2.8l1.7-3.1l1.3-3.2l1-4.2l0.2-3.4l-0.3-4.1l-0.5-2.4l-0.8-2.3l-2.1-4.1l-2.8-3.6l-1.6-1.5l-2.3-1.8l-1.8-1.1l-2.5-1.3l-4.5-1.4l-2.6-0.4l-2.6-0.1l-2.5,0.1l-2.5,0.4l-2.3,0.7l-2.8,1l-2,1.1l-2.4,1.6l-2.1,1.8l-1.9,2l-1.6,2.2l-1.2,2.3l-1,2.5l-0.7,2.5l-0.3,2.6l0,2.6l0.3,2.6l0.6,2.5l1,2.4l1.3,2.3l1.7,2.2l1.9,1.9l2.3,1.7l2,1.1l2.7,1.1l2.3,0.6l2.5,0.3l2.5,0l2.6-0.2l2.5-0.6l2.6-0.9l2.4-1.3l2.3-1.5l2.1-1.8l1.8-2.2l1.6-2.3l1.2-2.5l0.7-2l0.6-2.7l0.2-2.7l-0.1-2.1l-0.5-2.6l-0.8-2.5l-1.1-2.4l-1.4-2.1l-1.6-2l-1.9-1.6l-2-1.4l-2.2-1.1l-2.2-0.9l-2.3-0.5l-2.9-0.4l-2.3,0l-2.8,0.4l-2.7,0.7l-2.5,1l-2.3,1.4l-2.1,1.5l-1.9,1.8l-1.6,2l-1.4,2.1l-1.1,2.3l-0.9,2.9l-0.4,2.4l-0.1,2.5l0.2,2.4l0.6,2.5l0.8,2.3l1.2,2.3l1.5,2.1l1.8,1.9l2.1,1.7l2.4,1.4l2.1,0.8l2.8,0.8l2.3,0.4l2.5,0l2.4-0.2l2.5-0.6l2.5-0.8l2.3-1.2l2.2-1.5l2.1-1.8l1.8-2l1.5-2.2l1.2-2.5l0.7-1.9l0.7-2.6l0.2-2.7l-0.1-2.6l-0.5-2.6l-0.9-2.4l-1.1-2.3l-1.4-2.1l-1.7-1.8l-1.8-1.6l-2-1.3l-2.7-1.3l-2.2-0.7l-2.9-0.5l-2.2-0.1l-2.8,0.2l-2.7,0.5l-2.6,0.9l-2.4,1.2l-2.2,1.4l-1.9,1.7l-1.7,1.9l-1.5,2.1l-1.2,2.2l-0.9,2.3l-0.6,2.8l-0.3,3l0.2,2.4l0.4,2.5l0.8,2.3l1.1,2.3l1.5,2.1l1.7,2l2,1.7l2.3,1.4l2.1,0.9l2.7,0.9l2.3,0.4l3,0.1l2.5-0.2l2.5-0.6l2.4-0.9l2.3-1.1l2.3-1.5l2-1.7l1.8-2.1l1.5-2.2l1.2-2.4l0.7-1.9l0.6-2.7l0.3-2.6l-0.1-2.6l-0.5-2.6l-0.9-2.4l-1.1-2.3l-1.4-2.1l-1.6-1.8l-1.9-1.6l-2-1.3l-2.7-1.3l-2.2-0.7l-2.8-0.5l-2.3-0.1l-2.8,0.2l-2.6,0.5l-2.6,0.9l-2.4,1.2l-2.2,1.5l-1.9,1.6l-1.7,1.9l-1.5,2.1l-1.2,2.2l-0.9,2.3l-0.6,2.9l-0.3,2.9l0.2,2.5l0.5,2.4l0.7,2.3l1.2,2.3l1.4,2.1l1.7,2l2.1,1.7l2.3,1.4l2,0.9l2.7,0.9l2.3,0.4l3.1,0.1l2.4-0.3l2.5-0.5l2.4-0.9l2.4-1.1l2.2-1.5l2-1.8l1.8-2l1.5-2.2l1.2-2.5l0.7-1.9l0.6-2.6l0.3-2.6l-0.2-2.7l-0.5-2.5l-0.8-2.5l-1.1-2.2l-1.4-2.1l-1.7-1.8l-1.8-1.6l-2-1.3l-2.7-1.3l-2.2-0.7l-2.9-0.5l-2.2-0.1l-2.8,0.2l-2.7,0.6l-2.5,0.8l-2.4,1.2l-2.2,1.5l-1.9,1.7l-1.7,1.8l-1.5,2.1l-1.2,2.2l-0.9,2.3l-0.6,2.9l-0.3,2.9l0.2,2.5l0.5,2.4l0.8,2.4l1.1,2.2l1.4,2.1l1.7,2l2.1,1.7l2.3,1.4l2,0.9l2.8,0.9l2.3,0.4l3,0.1l2.4-0.3l2.5-0.5l2.4-0.9l2.4-1.2l2.2-1.4l2-1.8l1.8-2l1.5-2.3l1.2-2.4l0.7-1.9l0.6-2.6l0.3-2.7l-0.2-2.6l-0.5-2.6l-0.8-2.4l-1.1-2.2l-1.4-2.1l-1.7-1.8l-1.8-1.6l-2.1-1.3l-2.6-1.3l-2.3-0.7l-2.8-0.5l-2.2-0.1l-2.8,0.2l-2.7,0.6l-2.5,0.9l-2.4,1.1l-2.2,1.5l-1.9,1.7l-1.8,1.9l-1.4,2l-1.2,2.2l-0.9,2.3l-0.6,2.9l-0.3,3l0.2,2.4l0.5,2.4l0.8,2.4l1.1,2.2l1.4,2.2l1.8,1.9l2,1.7l2.3,1.4l2,0.9l2.8,0.9l2.3,0.4l2.4,0.1l2.4-0.2l2.5-0.5l2.5-0.8l2.3-1.1l2.3-1.4l2-1.7l1.9-1.9l1.6-2.2l1.3-2.4l0.9-2.5l0.5-2l0.3-2.6l0-2.7l-0.4-2.5l-0.8-2.5l-1-2.3l-1.4-2.1l-1.6-1.9l-1.8-1.7l-2-1.3l-2.6-1.4l-2.2-0.7l-2.8-0.6l-2.3-0.2l-2.8,0.1l-2.7,0.5l-2.6,0.9l-2.4,1.1l-2.2,1.4l-2,1.6l-1.8,1.9l-1.5,2l-1.2,2.2l-0.9,2.3l-0.8,2.8l-0.3,3l0.1,2.4l0.5,2.5l0.7,2.3" fill="none" stroke="#1c14dc" stroke-width="1.5" stroke-linejoin="round"/>
<path d="M623.8,104.4l4.5-0.1l3.6-0.5l3.5-1l3.4-1.4l4-2.4l2.8-2.4l2.5-2.7l2.1-3l1.6-3.2l1.2-3.4l0.7-3.4l0.2-4.3l-0.4-3.4l-1-3.9l-1.3-3l-2.1-3.3l-3-3.4l-1.7-1.4l-2.4-1.7l-4.5-2.1l-4.6-1.2l-4.5-0.2l-2.6,0.2l-2.4,0.4l-4.6,1.5l-4,2.4l-2.2,1.7l-1.9,2l-1.6,2.2l-1.4,2.3l-1.1,2.4l-0.7,2.6l-0.4,2.5l-0.1,2.6l0.2,2.6l0.6,2.6l0.9,2.4l1.2,2.4l1.6,2.2l1.5,1.6l2.1,1.8l1.9,1.2l2.6,1.3l2.3,0.7l3,0.6l2.5,0.1l2.6-0.1l2.6-0.5l2.5-0.8l2.5-1.2l2.3-1.4l2.2-1.8l1.9-2l1.3-1.7l1.4-2.4l1.1-2.6l0.5-2l0.5-2.8l0-2l-0.2-2.7l-0.6-2.6l-1-2.5l-1.2-2.3l-1.5-2l-1.8-1.8l-1.9-1.6l-2.1-1.3l-2.2-1l-2.3-0.7l-2.9-0.5l-2.3-0.1l-2.8,0.2l-2.2,0.4l-2.7,0.8l-2.4,1.2l-2.3,1.4l-2,1.6l-1.8,1.9l-1.5,2l-1.3,2.2l-1,2.3l-0.8,2.9l-0.3,2.5l0,2.4l0.4,2.5l0.6,2.4l1,2.3l1.3,2.2l1.6,2.1l1.9,1.8l2.2,1.6l2.5,1.3l2.7,0.9l2.3,0.5l3,0.2l2.4-0.1l2.5-0.5l2.5-0.7l2.4-1.1l2.3-1.4l2.1-1.7l1.9-1.9l1.6-2.2l1.3-2.4l1-2.5l0.5-2l0.3-2l0.1-2.6l-0.3-2.7l-0.6-2.5l-1-2.4l-1.3-2.1l-1.5-2l-1.7-1.8l-2-1.4l-2.1-1.2l-2.1-1l-2.8-0.7l-2.3-0.4l-2.8,0l-2.8,0.3l-2.6,0.7l-2.5,1l-2.4,1.2l-2.1,1.6l-1.8,1.7l-1.7,2l-1.3,2.1l-1.1,2.2l-0.9,2.9l-0.5,2.9l-0.1,2.4l0.3,2.5l0.6,2.4l0.9,2.3l1.2,2.3l1.5,2l1.9,1.9l2.1,1.6l2.4,1.3l2.6,1.1l2.3,0.5l3,0.3l2.4-0.1l2.5-0.3l2.4-0.7l2.4-1l2.3-1.3l2.2-1.6l1.9-1.9l1.7-2.1l1.4-2.3l1.1-2.5l0.5-2l0.5-2.6l0.1-2.7l-0.3-2.6l-0.6-2.5l-1-2.3l-1.3-2.2l-1.5-2l-1.7-1.7l-1.9-1.5l-2.1-1.2l-2.2-0.9l-2.8-0.8l-2.2-0.3l-2.9-0.1l-2.7,0.3l-2.7,0.7l-2.4,1l-2.4,1.3l-2.1,1.5l-1.8,1.8l-1.7,1.9l-1.3,2.1l-1.1,2.3l-0.9,2.8l-0.5,2.9l0,2.5l0.2,2.4l0.6,2.4l0.9,2.3l1.2,2.3l1.6,2l1.8,1.9l2.1,1.6l2.4,1.3l2.7,1l2.2,0.6l3,0.3l2.4-0.1l2.5-0.4l2.4-0.7l2.4-0.9l2.3-1.4l2.2-1.5l1.9-1.9l1.7-2.1l1.4-2.4l1.1-2.5l0.5-1.9l0.5-2.6l0.1-2.7l-0.3-2.6l-0.7-2.5l-0.9-2.4l-1.3-2.1l-1.5-2l-1.8-1.7l-1.9-1.5l-2-1.2l-2.2-0.9l-2.8-0.8l-2.3-0.3l-2.8-0.1l-2.7,0.4l-2.7,0.6l-2.5,1l-2.3,1.3l-2.1,1.5l-1.9,1.8l-1.6,1.9l-1.3,2.2l-1.1,2.2l-0.9,2.8l-0.5,2.9l0,2.5l0.2,2.4l0.6,2.4l0.9,2.4l1.2,2.2l1.6,2l1.8,1.9l2.1,1.6l2.4,1.3l2.7,1l2.2,0.6l3,0.3l2.4-0.1l2.5-0.4l2.5-0.7l2.4-1l2.3-1.3l2.1-1.6l1.9-1.8l1.7-2.2l1.4-2.3l1.1-2.5l0.5-1.9l0.5-2.7l0-2.6l-0.2-2.6l-0.7-2.5l-0.9-2.4l-1.3-2.2l-1.5-1.9l-1.8-1.7l-1.9-1.5l-2.1-1.2l-2.1-0.9l-2.8-0.8l-2.3-0.3l-2.8-0.1l-2.8,0.4l-2.6,0.6l-2.5,1l-2.3,1.3l-2.1,1.5l-1.9,1.8l-1.6,2l-1.3,2.1l-1.1,2.2l-0.9,2.8l-0.5,2.9l0,2.5l0.2,2.4l0.6,2.5l0.9,2.3l1.2,2.2l1.6,2l1.8,1.9l2.2,1.6l2.4,1.4l2.6,1l2.3,0.5l2.9,0.3l2.5-0.1l2.4-0.4l2.5-0.7l2.4-1l2.3-1.3l2.1-1.6l1.9-1.9l1.7-2.1l1.4-2.3l1.1-2.5l0.5-2l0.5-2.6l0-2.6l-0.2-2.6l-0.7-2.5l-1-2.4l-1.2-2.2l-1.6-1.9l-1.7-1.8l-1.9-1.4l-2.1-1.2l-2.2-0.9l-2.8-0.8l-2.2-0.3l-2.8-0.1l-2.8,0.4l-2.6,0.6l-2.5,1l-2.3,1.3l-2.1,1.6l-1.9,1.7l-1.6,2l-1.4,2.1l-1,2.2l-0.9,2.9l-0.4,2.4l-0.2,2.4l0.2,2.5l0.6,2.4l0.8,2.3l1.2,2.3l1.5,2.1l1.8,1.9" fill="none" stroke="#1c14dc" stroke-width="1.5" stroke-linejoin="round"/>
<path d="M637.2,98.9l3.7-2.1l2.7-2.1l2.4-2.4l2-2.7l1.7-3l1.4-3.9l0.7-3.2l0.2-4l-0.4-3.2l-1-3.7l-1.2-2.8l-2-3.1l-2.4-2.7l-2.8-2.3l-2.9-1.7l-3.7-1.5l-4.5-0.9l-4.4-0.1l-4.2,0.7l-3.8,1.4l-4,2.3l-3.3,2.9l-2.6,3.4l-1.9,3.7l-0.8,2.5l-0.4,2.6l-0.2,2.5l0.2,2.6l0.5,2.5l0.9,2.5l1.2,2.3l1.2,1.8l1.7,2l1.7,1.5l2.3,1.6l2,1.1l2.8,1l2.3,0.5l2.5,0.2l2.5,0l2.6-0.4l2.5-0.7l2.5-0.9l1.8-1l2.3-1.6l2-1.8l1.9-2.1l1.1-1.7l1.3-2.5l0.8-2l0.7-2.6l0.3-2.8l-0.1-2l-0.3-2.6l-0.8-2.6l-1-2.4l-1-1.6l-1.5-2.1l-1.8-1.7l-1.9-1.6l-2.1-1.2l-2.2-1l-2.3-0.7l-2.9-0.5l-2.3-0.1l-2.8,0.3l-2.2,0.4l-2.6,0.9l-2.4,1.1l-2.2,1.4l-2.1,1.7l-1.7,1.9l-1.5,2l-1.3,2.2l-0.9,2.3l-0.8,2.9l-0.2,2.5l0,2.4l0.3,2.5l0.7,2.4l1,2.3l1.3,2.2l1.7,2l1.9,1.8l2.2,1.6l2,1l2.7,1l2.2,0.5l3,0.3l2.5-0.1l2.5-0.4l2.4-0.7l2.4-1.1l2.3-1.3l2.2-1.6l1.9-1.9l1.6-2.2l1.4-2.4l1.1-2.5l0.5-1.9l0.3-2l0.2-2.7l-0.3-2.6l-0.6-2.5l-0.9-2.4l-1.2-2.2l-1.5-2l-1.7-1.8l-1.9-1.5l-2.1-1.3l-2.1-0.9l-2.8-0.9l-2.3-0.3l-2.8-0.1l-2.8,0.3l-2.6,0.6l-2.6,0.9l-2.3,1.3l-2.1,1.5l-1.9,1.7l-1.7,2l-1.4,2.1l-1.1,2.2l-1,2.8l-0.5,2.9l-0.1,2.5l0.3,2.4l0.5,2.4l0.9,2.4l1.1,2.2l1.5,2.1l1.9,1.9l2.1,1.6l1.8,1.2l2.6,1.1l2.2,0.6l2.9,0.4l2.4,0.1l2.5-0.3l2.5-0.5l2.4-0.9l2.3-1.2l2.2-1.5l2.1-1.7l1.8-2.1l1.5-2.2l1.2-2.4l0.7-2l0.6-2.6l0.2-2.6l-0.2-2.7l-0.5-2.5l-0.8-2.4l-1.1-2.3l-1.5-2l-1.6-1.9l-1.9-1.5l-2-1.4l-2.1-1l-2.8-0.9l-2.3-0.4l-2.8-0.2l-2.8,0.2l-2.6,0.6l-2.6,0.9l-2.4,1.2l-2.1,1.4l-2,1.7l-1.7,1.9l-1.4,2.1l-1.2,2.2l-1,2.7l-0.6,2.9l-0.2,2.5l0.2,2.4l0.5,2.5l0.8,2.3l1.1,2.3l1.4,2.1l1.8,1.9l2,1.7l2.3,1.4l2.6,1.2l2.2,0.6l2.9,0.4l2.5,0.1l2.4-0.3l2.5-0.5l2.4-0.9l2.3-1.2l2.3-1.5l2-1.8l1.8-2l1.5-2.2l1.2-2.5l0.7-1.9l0.5-2.6l0.3-2.7l-0.2-2.6l-0.5-2.5l-0.8-2.5l-1.2-2.2l-1.4-2.1l-1.7-1.8l-1.8-1.6l-2-1.3l-2.2-1l-2.7-0.9l-2.3-0.4l-2.8-0.2l-2.8,0.2l-2.7,0.6l-2.5,0.9l-2.4,1.2l-2.1,1.4l-2,1.7l-1.7,1.9l-1.4,2.1l-1.2,2.2l-1,2.8l-0.6,2.9l-0.2,2.4l0.2,2.5l0.5,2.4l0.8,2.3l1.1,2.3l1.5,2.1l1.7,1.9l2.1,1.7l2.3,1.5l2.5,1.1l2.2,0.6l3,0.4l2.4,0.1l2.4-0.3l2.5-0.6l2.4-0.8l2.4-1.2l2.2-1.5l2-1.8l1.8-2l1.5-2.3l1.2-2.4l0.7-1.9l0.5-2.6l0.3-2.7l-0.2-2.6l-0.5-2.6l-0.8-2.4l-1.2-2.2l-1.4-2.1l-1.7-1.8l-1.8-1.6l-2-1.3l-2.2-1l-2.7-0.9l-2.3-0.4l-2.8-0.2l-2.8,0.2l-2.7,0.6l-2.5,0.9l-2.4,1.2l-2.2,1.4l-1.9,1.7l-1.7,1.9l-1.5,2.1l-1.1,2.2l-1,2.8l-0.6,2.9l-0.2,2.4l0.2,2.5l0.5,2.4l0.8,2.4l1.1,2.2l1.5,2.1l1.7,1.9l2.1,1.7l2.3,1.5l2.6,1.1l2.2,0.6l2.9,0.4l2.4,0.1l2.5-0.3l2.4-0.6l2.5-0.8l2.3-1.2l2.2-1.5l2-1.8l1.8-2l1.5-2.3l1.2-2.4l0.7-1.9l0.5-2.7l0.3-2.6l-0.2-2.6l-0.5-2.6l-0.8-2.4l-1.2-2.3l-1.4-2l-1.7-1.8l-1.9-1.6l-2-1.3l-2.1-1l-2.8-0.9l-2.2-0.4l-2.9-0.2l-2.7,0.2l-2.7,0.6l-2.5,0.9l-2.4,1.2l-2.2,1.5l-1.9,1.7l-1.7,1.8l-1.5,2.1l-1.1,2.2l-0.9,2.3l-0.7,2.9l-0.2,2.5l0.1,2.4l0.5,2.5l0.7,2.3l1.1,2.3l1.4,2.1l1.7,2l2,1.7l2.2,1.5l2.6,1.2l2.1,0.7" fill="none" stroke="#1c14dc" stroke-width="1.5" stroke-linejoin="round"/>
<path d="M661.6,85.5l-0.1-3.3l-0.5-4.2l-0.8-3l-1.3-3.8l-1.7-3.5l-2-3.1l-2.3-2.9l-2.5-2.4l-2.6-2.1l-3.5-2.2l-2.9-1.3l-3.6-1.2l-3.6-0.7l-3.6-0.2l-3.4,0.2l-3.3,0.6l-2.4,0.7l-2.4,1l-4.2,2.4l-3.6,3.1l-1.5,1.7l-1.6,2.3l-1.9,4l-0.7,2.1l-0.5,2.6l-0.2,2.7l0.1,2.1l0.8,4.2l1,2.5l1.3,2.4l1.6,2.3l1.6,1.6l2.2,1.8l2,1.3l2.7,1.2l2.3,0.7l3.1,0.6l2.6,0.1l2.6-0.2l2.6-0.6l2.6-0.8l2.5-1.2l2.4-1.6l1.6-1.3l2-2l1.8-2.3l1.4-2.5l0.8-2l0.6-2l0.5-2.8l0-2.8l-0.3-2.7l-0.4-2l-0.9-2.5l-1.3-2.3l-1.5-2.1l-1.8-1.9l-1.9-1.6l-2.1-1.3l-2.8-1.3l-2.3-0.7l-2.3-0.4l-2.4-0.2l-2.8,0.2l-2.2,0.4l-2.7,0.8l-2.5,1.1l-2.3,1.4l-2.1,1.6l-1.8,1.8l-1.6,2.1l-1.3,2.2l-1,2.3l-0.7,2.4l-0.5,2.4l-0.1,2.5l0.4,3l0.6,2.4l0.9,2.4l1.2,2.2l1.6,2.1l1.9,1.8l2.2,1.7l1.9,1l2.6,1.1l2.3,0.6l3,0.4l2.4-0.1l2.5-0.3l2.5-0.6l2.4-1l2.4-1.2l2.1-1.6l2-1.8l1.8-2.1l1.4-2.3l1.2-2.5l0.6-2l0.5-2.6l0.2-2.7l-0.3-2.6l-0.5-2.6l-1-2.4l-1.2-2.2l-1.5-2l-1.7-1.8l-1.9-1.5l-2.1-1.3l-2.1-0.9l-2.8-0.9l-2.3-0.4l-2.8-0.1l-2.2,0.2l-2.7,0.6l-2.6,0.9l-2.4,1.2l-2.2,1.4l-1.9,1.7l-1.8,1.9l-1.4,2.1l-1.2,2.2l-0.9,2.3l-0.7,2.9l-0.2,2.4l0.2,3l0.4,2.4l0.8,2.4l1.1,2.2l1.5,2.1l1.7,2l2,1.7l1.9,1.2l2.5,1.2l2.2,0.7l2.8,0.5l2.4,0.1l2.5-0.1l2.5-0.5l2.4-0.8l2.4-1.1l2.2-1.4l2.1-1.7l1.9-1.9l1.6-2.2l1.3-2.4l0.9-2.6l0.5-1.9l0.4-2.7l-0.1-2.6l-0.4-2.6l-0.7-2.5l-1.1-2.3l-1.3-2.1l-1.6-1.9l-1.8-1.6l-2.5-1.7l-2.1-1.1l-2.8-0.9l-2.3-0.4l-2.8-0.2l-2.2,0.1l-2.7,0.5l-2.6,0.8l-2.4,1.2l-2.3,1.4l-2,1.6l-1.7,1.8l-1.8,2.5l-1.2,2.2l-0.9,2.3l-0.6,2.9l-0.3,2.4l0.2,3l0.5,2.4l0.8,2.4l1.1,2.2l1.4,2.1l1.7,2l2.1,1.7l1.8,1.1l2.5,1.2l2.2,0.7l2.9,0.6l2.4,0.1l3-0.3l2.5-0.5l2.4-0.9l2.4-1.2l2.2-1.4l2-1.8l1.8-2l1.5-2.3l1.2-2.4l0.7-1.9l0.6-2.6l0.3-2.7l-0.2-2.6l-0.5-2.5l-0.8-2.5l-1.1-2.2l-1.4-2.1l-1.7-1.8l-1.8-1.6l-2-1.3l-2.2-1.1l-2.7-0.9l-2.3-0.4l-2.8-0.2l-2.3,0.1l-2.7,0.5l-2.5,0.8l-2.4,1.2l-2.3,1.4l-2,1.6l-1.7,1.9l-1.8,2.4l-1.2,2.2l-0.9,2.3l-0.6,2.9l-0.3,2.4l0.2,3l0.5,2.4l0.8,2.4l1.1,2.2l1.4,2.1l1.8,2l2,1.7l1.8,1.2l2.5,1.1l2.2,0.7l2.9,0.6l2.4,0.1l3.1-0.3l2.4-0.5l2.4-0.9l2.4-1.2l2.2-1.5l2-1.7l1.8-2l1.5-2.3l1.2-2.4l0.7-1.9l0.6-2.6l0.3-2.7l-0.2-2.6l-0.5-2.6l-0.8-2.4l-1.1-2.3l-1.5-2l-1.6-1.8l-1.9-1.6l-2-1.3l-2.1-1.1l-2.8-0.9l-2.2-0.4l-2.8-0.2l-2.3,0.1l-2.7,0.5l-2.6,0.9l-2.4,1.1l-2.2,1.4l-2,1.6l-1.7,1.9l-1.8,2.4l-1.2,2.2l-0.9,2.3l-0.6,2.9l-0.3,2.5l0.2,2.9l0.5,2.4l0.8,2.4l1.1,2.3l1.4,2.1l1.8,1.9l2,1.7l1.8,1.2l2.6,1.2l2.1,0.6l2.9,0.6l2.4,0.1l2.5-0.2l2.4-0.5l2.5-0.8l2.3-1.1l2.3-1.4l2.1-1.7l1.8-1.9l1.6-2.2l1.3-2.4l0.9-2.5l0.5-2l0.3-2.6l0-2.7l-0.4-2.6l-0.8-2.4l-1-2.3l-1.4-2.1l-1.6-1.9l-1.8-1.7l-2.5-1.6l-2.1-1.1l-2.8-0.9l-2.2-0.4l-2.9-0.2l-2.2,0.1l-2.7,0.5l-2.6,0.9l-2.4,1.1l-2.2,1.4l-2,1.6l-1.8,1.9l-1.7,2.5l-1.2,2.2l-0.9,2.3l-0.6,2.8l-0.3,2.5l0.2,2.9l0.5,2.5l0.8,2.3l1.1,2.3l1.4,2.1l1.8,1.9l2,1.7l1.9,1.2l2.5,1.2l2.1,0.7l2.9,0.5l2.4,0.1l2.5-0.2l2.5-0.5l2.4-0.8l2.4-1.1" fill="none" stroke="#1c14dc" stroke-width="1.5" stroke-linejoin="round"/>
<path d="M650.5,58.8l-2.7-2.1l-2.9-1.7l-2.9-1.4l-3.7-1.2l-3.6-0.7l-3.6-0.3l-3.5,0.2l-3.3,0.6l-3.1,0.9l-3.5,1.6l-2.6,1.6l-2.7,2.2l-2.4,2.5l-1.9,2.8l-1.5,3l-1.1,3.1l-0.6,4.3l0.2,4.2l1.1,4.2l2,3.9l1.3,1.8l1.5,1.6l3.2,2.5l2,1.2l2.2,1l4.2,1l2.6,0.2l2.6-0.1l2.7-0.4l2.6-0.7l2.5-1.1l2.5-1.4l2.2-1.7l1.6-1.5l1.8-2.2l1.5-2.4l1.2-2.6l0.6-2.1l0.5-2l0.2-2.8l-0.2-2.8l-0.5-2.6l-0.6-2l-1.1-2.4l-1.5-2.2l-1.6-1.9l-1.9-1.7l-2.1-1.5l-2.1-1.1l-2.9-1.1l-2.3-0.5l-2.9-0.3l-2.3,0.1l-2.8,0.4l-2.7,0.8l-2.5,1l-2.4,1.4l-2.1,1.6l-1.5,1.4l-1.6,2l-1.4,2.2l-1.1,2.2l-0.9,2.4l-0.5,2.5l-0.2,2.4l0.2,2.5l0.4,2.5l0.8,2.4l1.1,2.3l1.1,1.7l1.6,2l1.6,1.5l2.2,1.6l1.9,1.1l2.7,1l2.3,0.6l2.9,0.3l2.5-0.1l2.5-0.3l2.5-0.7l2.4-1l2.3-1.3l2.2-1.6l2-1.8l1.7-2.2l1.4-2.3l1.1-2.5l0.6-2l0.5-2.6l0.1-2.7l-0.3-2.6l-0.6-2.5l-1-2.4l-1.2-2.2l-1.6-2l-1.7-1.8l-1.9-1.5l-2.1-1.2l-2.2-0.9l-2.8-0.8l-2.2-0.4l-2.9-0.1l-2.2,0.3l-2.7,0.6l-2.5,0.9l-2.4,1.2l-2.2,1.5l-1.9,1.7l-1.7,1.9l-1.4,2.1l-1.2,2.2l-0.9,2.3l-0.6,2.9l-0.2,2.4l0.1,2.5l0.5,2.4l0.7,2.4l1.1,2.3l1.4,2.1l1.7,2l2,1.7l1.8,1.2l2.5,1.2l2.2,0.8l2.8,0.6l2.4,0.1l3.1-0.2l2.5-0.5l2.4-0.8l2.4-1.1l2.2-1.5l2.1-1.7l1.8-2l1.6-2.2l1.2-2.4l0.9-2.6l0.5-1.9l0.3-2.7l-0.1-2.6l-0.4-2.6l-0.8-2.4l-1.1-2.3l-1.4-2.1l-1.6-1.9l-1.8-1.6l-2-1.4l-2.1-1l-2.8-1l-2.3-0.5l-2.8-0.2l-2.2,0.1l-2.7,0.4l-2.6,0.8l-2.5,1.1l-2.2,1.4l-2.1,1.6l-1.7,1.8l-1.6,2l-1.2,2.2l-1,2.3l-0.8,2.8l-0.3,2.5l0,2.9l0.4,2.5l0.7,2.3l1,2.3l1.3,2.2l1.7,2l1.9,1.8l1.8,1.2l2.4,1.3l2.1,0.8l2.9,0.7l2.3,0.2l3.1-0.1l2.4-0.5l2.5-0.7l2.4-1.1l2.2-1.3l2.1-1.7l1.9-1.9l1.7-2.2l1.3-2.3l1-2.5l0.5-2l0.4-2.6l0-2.7l-0.3-2.6l-0.7-2.5l-1-2.3l-1.4-2.1l-1.5-1.9l-1.8-1.7l-2-1.4l-2-1.2l-2.8-1l-2.2-0.6l-2.9-0.3l-2.8,0.1l-2.7,0.5l-2.6,0.7l-2.4,1.1l-2.2,1.4l-2.1,1.6l-1.8,1.9l-1.5,2l-1.2,2.1l-1,2.3l-0.8,2.9l-0.3,2.4l0,2.9l0.4,2.5l0.7,2.4l1,2.2l1.3,2.2l1.7,2l1.9,1.8l1.8,1.2l2.4,1.3l2.1,0.8l2.9,0.7l2.3,0.2l3.1-0.1l2.5-0.5l2.4-0.7l2.4-1.1l2.3-1.3l2.1-1.7l1.9-1.9l1.6-2.2l1.3-2.4l1-2.5l0.5-1.9l0.4-2.7l0-2.6l-0.3-2.6l-0.7-2.5l-1.1-2.3l-1.3-2.1l-1.5-2l-1.8-1.6l-2-1.5l-2.1-1.1l-2.7-1l-2.3-0.6l-2.8-0.3l-2.2,0.1l-2.8,0.3l-2.6,0.8l-2.4,1l-2.3,1.3l-2.1,1.6l-1.8,1.8l-1.9,2.4l-1.3,2.1l-0.9,2.3l-0.8,2.9l-0.3,2.4l0,3l0.4,2.4l0.7,2.4l1,2.3l1.3,2.1l1.7,2l1.9,1.8l1.8,1.2l2.5,1.3l2.1,0.8l2.8,0.7l2.4,0.2l3-0.2l2.5-0.4l2.4-0.7l2.4-1.1l2.3-1.4l2.1-1.6l1.9-2l1.6-2.1l1.3-2.4l1-2.5l0.5-1.9l0.4-2.7l0-2.6l-0.3-2.6l-0.7-2.5l-1.1-2.3l-1.3-2.2l-1.6-1.9l-1.7-1.7l-2-1.4l-2.1-1.1l-2.7-1.1l-2.3-0.5l-2.8-0.3l-2.2,0.1l-2.8,0.3l-2.6,0.8l-2.5,1l-2.2,1.3l-2.1,1.6l-1.8,1.8l-1.9,2.4l-1.3,2.2l-0.9,2.2l-0.8,2.9l-0.3,2.4l0,3l0.4,2.4l0.7,2.4l1,2.3l1.4,2.1l1.6,2l2,1.8l1.7,1.3l2.5,1.2l2.1,0.8l2.8,0.7l2.4,0.2l3.1-0.2l2.4-0.4l2.5-0.7l2.3-1.1l2.3-1.4l2.1-1.6l1.9-2l1.6-2.1l1.3-2.4l1-2.5l0.6-2l0.3-2.6" fill="none" stroke="#1c14dc" stroke-width="1.5" stroke-linejoin="round"/>
<path d="M623.8,47.7l-3.7,1.7l-3.3,2l-2.9,2.1l-2.6,2.4l-2.2,2.5l-2.2,3.2l-1.5,2.8l-1.2,3.5l-0.7,3l-0.3,3.5l0.2,3.6l0.6,2.9l1.2,3.3l1.4,2.6l2.1,3l2.2,2.1l2,1.6l2.1,1.3l4.3,1.7l4.6,0.9l2.8,0.1l2.1-0.2l2.8-0.5l2.1-0.7l2.7-1.1l2-1.1l2.4-1.8l1.7-1.5l2.9-3.5l1.5-2.6l0.9-2.1l0.8-2.9l0.5-2.9l0-2.2l-0.3-2.9l-0.7-2.7l-1-2.6l-1.4-2.4l-1.6-2.2l-1.9-1.9l-2-1.6l-2.2-1.3l-2.3-1.1l-2.4-0.8l-3-0.5l-2.4-0.1l-2.9,0.1l-2.9,0.6l-2.7,0.9l-2.5,1.2l-2.3,1.4l-2.1,1.8l-1.8,1.9l-1.5,2.1l-1.3,2.2l-1,2.4l-0.7,2.9l-0.3,3l0,2.6l0.5,2.4l0.7,2.5l1.1,2.3l1.4,2.2l1.7,2l1.6,1.5l2.2,1.6l2,1.1l2.1,0.8l2.3,0.6l2.4,0.3l2.5,0.1l2.5-0.2l2.5-0.6l2.5-0.9l2.4-1.2l2.2-1.5l1.6-1.3l1.9-2l1.6-2.2l1.3-2.4l0.8-1.9l0.6-2l0.4-2.7l0-2.7l-0.3-2.6l-0.6-2.5l-1-2.4l-1.3-2.2l-1.6-2l-1.8-1.7l-1.9-1.5l-2.1-1.2l-2.8-1.1l-2.2-0.6l-2.9-0.3l-2.3,0l-2.7,0.3l-2.7,0.7l-2.5,1l-2.3,1.3l-2.1,1.6l-1.9,1.7l-1.6,2l-1.4,2.1l-1.3,2.7l-0.8,2.9l-0.4,2.4l0,2.5l0.3,2.5l0.6,2.4l0.9,2.3l1.2,2.2l1.5,2.1l1.9,1.9l2.1,1.6l2.5,1.3l2.1,0.8l2.8,0.7l2.3,0.3l2.5,0l2.4-0.3l2.5-0.6l2.4-0.9l2.4-1.3l2.1-1.5l2-1.8l1.8-2.1l1.5-2.3l1.1-2.5l0.6-1.9l0.6-2.6l0.1-2.7l-0.2-2.6l-0.5-2.5l-0.9-2.4l-1.2-2.3l-1.5-2l-1.7-1.8l-1.9-1.5l-2-1.3l-2.7-1.2l-2.3-0.6l-2.8-0.4l-2.3-0.1l-2.7,0.2l-2.7,0.7l-2.5,0.9l-2.4,1.2l-2.1,1.5l-1.9,1.7l-1.7,2l-1.4,2l-1.3,2.7l-0.9,2.8l-0.5,2.5l-0.1,2.4l0.2,2.5l0.6,2.4l0.8,2.3l1.2,2.3l1.5,2.1l1.7,1.9l2.1,1.6l2.4,1.4l2,0.9l2.8,0.8l2.3,0.3l3.1,0.1l2.4-0.4l2.5-0.6l2.4-0.9l2.3-1.2l2.2-1.6l2-1.8l1.7-2.1l1.5-2.2l1.2-2.5l0.6-1.9l0.5-2.6l0.2-2.7l-0.2-2.6l-0.6-2.6l-0.9-2.4l-1.2-2.2l-1.5-2l-1.6-1.8l-1.9-1.5l-2.1-1.3l-2.7-1.1l-2.2-0.7l-2.8-0.4l-2.3-0.1l-2.7,0.3l-2.7,0.6l-2.5,0.9l-2.4,1.3l-2.1,1.4l-1.9,1.8l-1.7,1.9l-1.4,2.1l-1.1,2.2l-1,2.8l-0.5,2.4l-0.2,2.5l0.2,2.4l0.4,2.4l0.8,2.4l1.1,2.3l1.5,2.1l1.7,1.9l2,1.7l2.3,1.5l2,0.9l2.8,0.9l2.3,0.4l3,0.1l2.4-0.3l2.5-0.5l2.4-0.9l2.4-1.1l2.2-1.5l2-1.7l1.8-2l1.6-2.3l1.2-2.4l0.7-1.9l0.6-2.6l0.3-2.7l-0.2-2.6l-0.4-2.6l-0.9-2.4l-1.1-2.3l-1.4-2l-1.6-1.9l-1.9-1.5l-2-1.4l-2.6-1.2l-2.3-0.8l-2.8-0.5l-2.2-0.1l-2.8,0.2l-2.7,0.5l-2.6,0.9l-2.3,1.2l-2.2,1.4l-2,1.7l-1.7,1.9l-1.5,2.1l-1.4,2.6l-0.9,2.8l-0.5,2.4l-0.2,2.5l0.2,2.4l0.5,2.5l0.7,2.3l1.1,2.3l1.5,2.1l1.7,1.9l2,1.7l2.3,1.5l2.1,0.9l2.7,0.9l2.3,0.4l3,0.1l2.5-0.3l2.4-0.5l2.5-0.9l2.3-1.1l2.2-1.5l2.1-1.7l1.8-2.1l1.5-2.2l1.2-2.4l0.7-1.9l0.6-2.6l0.3-2.7l-0.2-2.6l-0.4-2.6l-0.9-2.4l-1.1-2.3l-1.4-2l-1.6-1.9l-1.9-1.6l-2-1.3l-2.7-1.3l-2.2-0.7l-2.8-0.5l-2.3-0.1l-2.8,0.2l-2.6,0.6l-2.6,0.8l-2.4,1.2l-2.1,1.5l-2,1.6l-1.7,1.9l-1.5,2.1l-1.4,2.6l-0.9,2.8l-0.5,2.4l-0.2,2.5l0.2,2.4l0.5,2.5l0.7,2.3l1.2,2.3l1.4,2.1l1.7,1.9l2,1.8l2.4,1.4l2,0.9l2.7,0.9l2.3,0.4l3,0.1l2.5-0.3l2.5-0.5l2.4-0.9l2.3-1.1l2.2-1.5l2.1-1.8l1.8-2l1.5-2.2l1.2-2.4l0.7-2l0.6-2.6l0.3-2.6l-0.2-2.7l-0.5-2.5l-0.8-2.4l-1.1-2.3l-1.4-2.1l-1.7-1.8l-1.8-1.6l-2-1.3l-2.7-1.3" fill="none" stroke="#1c14dc" stroke-width="1.5" stroke-linejoin="round"/>
<path d="M597.1,58.8l-0.8,3.9l-0.5,4.7l-0.1,3.6l0.3,4.3l0.8,4.1l1.2,3.9l1.6,3.6l1.6,2.8l2.4,3.2l2.8,2.8l3.1,2.5l2.8,1.7l3.8,1.7l3.2,0.9l3.3,0.6l3.4,0.2l3.5-0.3l2.6-0.4l3.4-1l2.5-1.1l3.1-1.7l2.2-1.6l2-1.8l1.9-1.9l1.6-2.1l1.4-2.3l1.1-2.4l1.1-3.3l0.5-2.5l0.3-3.4l-0.1-2.5l-0.5-3.2l-0.7-2.3l-1.2-2.9l-1.5-2.7l-1.8-2.4l-2.1-2.1l-2.3-1.8l-2.4-1.5l-2.5-1.2l-2.6-0.9l-3.3-0.7l-2.5-0.2l-3.2,0.1l-2.4,0.4l-3,0.8l-2.7,1.1l-2.5,1.4l-2.3,1.6l-2.4,2.3l-1.8,2.1l-1.6,2.8l-1.1,2.4l-0.8,3l-0.4,3.1l0,2.6l0.4,3.1l0.8,2.5l1.4,2.8l1.4,2.3l1.9,2l2.1,1.8l2.4,1.5l2.6,1.2l2.9,0.8l2.5,0.4l2.5,0l2.5-0.2l2.6-0.5l2.5-0.9l2.5-1.2l2.3-1.6l2.1-1.8l1.9-2.1l1.5-2.3l1-1.8l0.8-2l0.7-2.7l0.4-2.7l-0.1-2.7l-0.3-2l-0.6-2.6l-1.1-2.4l-1.3-2.2l-1.5-2l-1.8-1.8l-2-1.5l-2.7-1.4l-2.2-0.9l-2.9-0.7l-2.3-0.3l-2.9,0.1l-2.7,0.4l-2.7,0.7l-2.5,1.1l-2.3,1.3l-2.1,1.6l-1.8,1.9l-1.6,2l-1.6,2.6l-1,2.3l-0.7,2.9l-0.3,2.4l0,2.5l0.4,2.9l0.7,2.4l1,2.3l1.4,2.2l1.6,2l2,1.8l2.2,1.5l2,1.1l2.7,0.9l2.3,0.5l3,0.2l2.5-0.1l2.5-0.5l2.4-0.7l2.4-1.1l2.3-1.4l2.1-1.6l1.9-2l1.6-2.2l1.4-2.3l1-2.6l0.5-1.9l0.4-2.7l-0.1-2.6l-0.3-2.6l-0.7-2.5l-1.1-2.4l-1.3-2.1l-1.6-1.9l-1.8-1.7l-1.9-1.4l-2.7-1.4l-2.2-0.8l-2.8-0.6l-2.3-0.2l-2.8,0.1l-2.7,0.4l-2.6,0.8l-2.4,1.1l-2.3,1.4l-2,1.6l-1.8,1.9l-1.5,2l-1.5,2.6l-0.9,2.3l-0.7,2.9l-0.3,2.4l0.1,2.5l0.4,2.4l0.7,2.4l1,2.3l1.3,2.2l1.7,1.9l1.9,1.8l2.3,1.5l2,1l2.6,1l2.3,0.5l3,0.2l2.5-0.1l2.4-0.5l2.5-0.7l2.4-1.1l2.2-1.4l2.1-1.6l1.9-1.9l1.6-2.2l1.4-2.4l1-2.5l0.5-2l0.3-2.6l0-2.6l-0.3-2.6l-0.7-2.5l-1.1-2.3l-1.3-2.2l-1.6-1.9l-1.7-1.7l-2-1.4l-2.6-1.4l-2.2-0.8l-2.8-0.6l-2.3-0.2l-2.8,0.1l-2.7,0.5l-2.6,0.8l-2.4,1.1l-2.3,1.3l-2,1.7l-1.8,1.8l-1.5,2l-1.5,2.6l-0.9,2.3l-0.7,2.9l-0.3,2.4l0.1,2.5l0.4,2.4l0.7,2.4l1,2.3l1.4,2.2l1.6,1.9l2,1.8l2.2,1.5l2,1l2.7,1l2.2,0.5l3,0.2l2.5-0.2l2.4-0.4l2.5-0.7l2.4-1.1l2.2-1.4l2.1-1.6l1.9-2l1.6-2.2l1.4-2.3l0.9-2.5l0.6-2l0.3-2.6l0-2.7l-0.3-2.6l-0.8-2.4l-1-2.4l-1.3-2.1l-1.6-1.9l-1.8-1.7l-1.9-1.4l-2.7-1.4l-2.2-0.8l-2.8-0.6l-2.2-0.2l-2.8,0.1l-2.7,0.5l-2.6,0.8l-2.5,1.1l-2.2,1.4l-2,1.6l-1.8,1.8l-1.5,2l-1.5,2.6l-0.9,2.3l-0.7,2.9l-0.3,2.5l0.1,2.4l0.4,2.4l0.7,2.4l1,2.3l1.4,2.2l1.6,2l2,1.7l2.2,1.5l2,1l2.7,1l2.3,0.5l2.9,0.2l2.5-0.2l2.5-0.4l2.4-0.8l2.4-1l2.2-1.4l2.1-1.7l1.9-1.9l1.6-2.2l1.4-2.3l1-2.6l0.5-1.9l0.3-2.7l0-2.6l-0.4-2.6l-0.7-2.5l-1-2.3l-1.3-2.1l-1.6-1.9l-1.8-1.7l-2-1.4l-2.6-1.4l-2.2-0.8l-2.8-0.6l-2.3-0.2l-2.8,0.1l-2.7,0.5l-2.6,0.8l-2.4,1.1l-2.2,1.4l-2,1.6l-1.8,1.8l-1.5,2l-1.5,2.7l-0.9,2.3l-0.7,2.8l-0.3,2.5l0.1,2.4l0.4,2.5l0.7,2.3l1,2.3l1.4,2.2l1.7,2l1.9,1.7l2.3,1.6l1.9,1l2.7,0.9l2.3,0.5l3,0.2l2.4-0.2l2.5-0.4l2.4-0.8l2.4-1l2.3-1.4l2.1-1.7l1.8-1.9l1.7-2.2l1.3-2.4l1-2.5l0.5-1.9l0.3-2.7l0-2.6l-0.4-2.6l-0.7-2.5l-1-2.3l-1.3-2.1l-1.6-2l-1.8-1.6l-2-1.4l-2.1-1.1l-2.2-0.9l-2.8-0.7l-2.2-0.3l-2.8,0.1l-2.8,0.4l-2.6,0.7l-2.4,1.1l-2.3,1.3" fill="none" stroke="#1c14dc" stroke-width="1.5" stroke-linejoin="round"/>
<path d="M586,85.5l3.4,5.2l2.9,3.7l3,3.4l3.3,3l3.5,2.6l3.7,2.2l3.8,1.9l4.1,1.4l4.1,0.9l4.2,0.5l4.3-0.1l4.2-0.5l4.2-1l3.9-1.6l3.7-2l2.6-1.8l2.4-2l2.2-2.3l1.9-2.4l1.6-2.6l1.3-2.7l1.1-2.8l0.7-2.8l0.6-3.8l0.1-2.9l-0.4-3.6l-0.5-2.7l-1.1-3.3l-1.1-2.4l-1.8-2.9l-2-2.6l-2.3-2.3l-2.4-1.9l-2.6-1.6l-2.7-1.3l-2.7-1l-2.7-0.6l-3.4-0.4l-2.7,0l-3.2,0.4l-2.5,0.5l-2.9,1l-2.7,1.3l-2.5,1.6l-2.2,1.9l-2,2l-1.6,2.2l-1.6,2.9l-1,2.5l-0.7,3.1l-0.3,3.1l0.1,2.7l0.6,3.1l0.9,2.5l1.4,2.8l1.6,2.2l2,2l2.2,1.8l2.5,1.4l2.8,1.1l3,0.8l3.1,0.2l3.2-0.2l2.6-0.5l2.6-0.8l2.5-1.2l2.3-1.5l2.2-1.8l1.9-2.1l1.7-2.3l1.3-2.5l0.7-1.9l0.6-2.1l0.4-2.7l0-2.8l-0.4-2.7l-0.7-2.5l-1.1-2.5l-1.3-2.2l-1.6-2l-1.9-1.7l-2-1.5l-2.1-1.2l-2.8-1.1l-2.3-0.5l-2.9-0.4l-2.3,0.1l-2.9,0.3l-2.6,0.7l-2.6,1.1l-2.3,1.3l-2.1,1.6l-1.9,1.8l-1.7,1.9l-1.3,2.2l-1.3,2.7l-0.8,2.9l-0.4,2.5l0,2.4l0.3,2.5l0.6,2.4l0.9,2.4l1.2,2.2l1.6,2.1l1.9,1.9l2.1,1.6l2.5,1.3l2.1,0.9l2.8,0.7l2.4,0.2l3.1,0l2.5-0.4l2.4-0.7l2.4-1l2.3-1.4l2.2-1.6l1.9-1.9l1.7-2.1l1.4-2.4l1.1-2.5l0.5-2l0.5-2.6l0-2.7l-0.3-2.6l-0.7-2.5l-0.9-2.4l-1.3-2.2l-1.6-1.9l-1.7-1.7l-2-1.5l-2.1-1.2l-2.7-1.1l-2.2-0.6l-2.9-0.3l-2.8,0l-2.7,0.4l-2.7,0.8l-2.4,1l-2.3,1.4l-2,1.6l-1.9,1.8l-1.5,2l-1.3,2.1l-1,2.3l-0.9,2.8l-0.3,2.5l-0.1,2.4l0.3,2.5l0.6,2.4l0.9,2.3l1.2,2.2l1.6,2.1l1.9,1.9l2.1,1.6l2.4,1.3l2.1,0.8l2.8,0.7l2.4,0.3l3-0.1l2.5-0.4l2.5-0.7l2.4-1l2.2-1.3l2.2-1.6l1.9-1.9l1.7-2.1l1.4-2.4l1-2.5l0.6-1.9l0.4-2.6l0.1-2.7l-0.3-2.6l-0.7-2.5l-1-2.4l-1.2-2.1l-1.6-2l-1.7-1.7l-2-1.5l-2-1.1l-2.7-1.1l-2.3-0.6l-2.8-0.4l-2.8,0.1l-2.8,0.4l-2.6,0.7l-2.4,1.1l-2.3,1.3l-2,1.6l-1.9,1.8l-1.5,2l-1.3,2.2l-1,2.2l-0.9,2.9l-0.3,2.4l0,2.5l0.2,2.4l0.6,2.4l0.9,2.3l1.3,2.2l1.5,2.1l1.9,1.8l2.1,1.7l2.4,1.3l2.1,0.8l2.8,0.7l2.4,0.3l3-0.1l2.5-0.4l2.5-0.7l2.4-1l2.2-1.3l2.2-1.6l1.9-1.9l1.7-2.2l1.3-2.3l1.1-2.5l0.6-1.9l0.4-2.7l0-2.6l-0.3-2.6l-0.6-2.5l-1-2.4l-1.3-2.1l-1.5-2l-1.8-1.7l-1.9-1.5l-2.1-1.1l-2.7-1.1l-2.2-0.6l-2.8-0.4l-2.9,0.1l-2.7,0.4l-2.6,0.7l-2.4,1.1l-2.3,1.3l-2.1,1.6l-1.8,1.8l-1.5,2l-1.3,2.2l-1,2.3l-0.9,2.8l-0.3,2.4l0,2.5l0.2,2.4l0.6,2.4l1,2.4l1.2,2.2l1.5,2l1.9,1.9l2.1,1.6l2.5,1.3l2.1,0.8l2.8,0.7l2.3,0.3l3.1-0.1l2.4-0.4l2.5-0.7l2.4-1l2.3-1.3l2.1-1.7l1.9-1.9l1.7-2.1l1.4-2.3l1-2.5l0.6-2l0.4-2.6l0-2.6l-0.3-2.6l-0.6-2.5l-1-2.4l-1.3-2.2l-1.5-1.9l-1.8-1.7l-1.9-1.5l-2.1-1.2l-2.7-1.1l-2.2-0.5l-2.9-0.4l-2.8,0.1l-2.7,0.4l-2.6,0.8l-2.5,1l-2.2,1.4l-2.1,1.6l-1.8,1.8l-1.5,2l-1.3,2.1l-1.2,2.7l-0.7,2.9l-0.3,2.4l0,2.5l0.3,2.4l0.7,2.4l1,2.3l1.3,2.2l1.6,2l1.9,1.8l2.2,1.6l2.5,1.2l2.1,0.8l2.9,0.6l2.4,0.2l2.4-0.1l2.5-0.4l2.4-0.7l2.4-1l2.3-1.4l2.1-1.6l1.9-1.9l1.7-2.1l1.4-2.4l1-2.4l0.6-2l0.4-2.6l0-2.7l-0.3-2.6l-0.6-2.5l-1-2.3l-1.3-2.2l-1.5-1.9l-1.8-1.7l-1.9-1.5l-2.1-1.2l-2.7-1.1l-2.3-0.5l-2.8-0.4l-2.8,0.1l-2.7,0.4l-2.6,0.8l-2.5,1l-2.2,1.4l-2.1,1.6l-1.8,1.8l-1.6,2l-1.2,2.1l-1.2,2.8" fill="none" stroke="#1c14dc" stroke-width="1.5" stroke-linejoin="round"/>
<path d="M597.1,112.2l5.3,2l5.3,1.5l5.2,0.9l3.9,0.4l5.1,0l3.8-0.3l4.9-1l3.5-1l3.4-1.4l4.3-2.2l3.9-2.7l3.4-3.1l2.3-2.6l2.6-3.7l2.1-3.9l1.5-4.1l0.8-3l0.4-3.1l0.2-3.1l-0.2-3l-0.4-2.9l-0.6-2.8l-1-2.6l-1.5-3.3l-1.4-2.3l-2.1-2.8l-2.3-2.4l-2.5-2.1l-2.7-1.8l-2.7-1.4l-2.8-1l-2.9-0.8l-2.8-0.5l-3.4-0.1l-2.7,0.2l-3.2,0.5l-2.4,0.7l-2.9,1.2l-2.6,1.5l-2.4,1.8l-2.1,1.9l-1.9,2.2l-1.5,2.3l-1.2,2.4l-0.9,2.6l-0.7,3.1l-0.2,2.7l0.2,2.6l0.6,3.1l0.9,2.6l1.2,2.4l1.6,2.2l1.9,2.1l2.2,1.8l2.5,1.5l2.7,1.1l3,0.8l2.5,0.3l3.2,0l2.7-0.4l3.2-0.9l2.5-1.2l2.4-1.4l2.2-1.8l2-2l1.7-2.3l1.4-2.5l0.8-1.9l0.7-2.7l0.4-2.8l0-2.8l-0.4-2.7l-0.8-2.5l-1.1-2.5l-1.3-2.2l-1.7-1.9l-1.8-1.8l-2.1-1.4l-2.1-1.2l-2.9-1.1l-2.3-0.5l-2.9-0.3l-2.3,0l-2.8,0.4l-2.7,0.8l-2.5,1l-2.3,1.3l-2.1,1.6l-1.9,1.8l-1.6,2l-1.4,2.2l-1.2,2.7l-0.8,2.9l-0.4,2.5l0,2.5l0.3,2.5l0.6,2.4l0.9,2.3l1.3,2.2l1.6,2.1l1.9,1.9l2.2,1.6l2.4,1.3l2.1,0.8l2.9,0.7l2.4,0.3l3-0.1l2.5-0.4l2.5-0.8l2.4-1l2.3-1.4l2.1-1.6l2-1.9l1.6-2.2l1.4-2.4l1-2.5l0.6-1.9l0.4-2.7l0-2.7l-0.3-2.6l-0.7-2.5l-1-2.3l-1.3-2.2l-1.6-2l-1.7-1.7l-2-1.4l-2.1-1.2l-2.7-1.1l-2.3-0.5l-2.8-0.3l-2.3,0l-2.7,0.3l-2.7,0.7l-2.5,1.1l-2.3,1.3l-2.1,1.5l-1.8,1.8l-1.6,2l-1.4,2.1l-1.2,2.7l-0.8,2.9l-0.3,2.4l-0.1,2.5l0.3,2.4l0.6,2.4l1,2.3l1.2,2.3l1.6,2l1.9,1.8l2.1,1.6l2.4,1.4l2.1,0.8l2.9,0.6l2.3,0.3l3.1-0.1l2.5-0.4l2.4-0.7l2.4-1l2.3-1.4l2.1-1.6l1.9-1.9l1.7-2.2l1.3-2.3l1.1-2.5l0.5-2l0.4-2.6l0.1-2.7l-0.4-2.6l-0.6-2.5l-1-2.3l-1.3-2.2l-1.6-1.9l-1.7-1.7l-2-1.4l-2.1-1.2l-2.7-1.1l-2.2-0.6l-2.9-0.3l-2.2,0l-2.8,0.4l-2.6,0.7l-2.5,1l-2.3,1.3l-2.1,1.6l-1.8,1.7l-1.6,2l-1.3,2.1l-1.3,2.7l-0.8,2.9l-0.3,2.4l0,2.5l0.3,2.4l0.6,2.4l0.9,2.4l1.2,2.2l1.6,2l1.9,1.8l2.1,1.6l2.5,1.3l2.1,0.9l2.8,0.6l2.4,0.3l3-0.1l2.5-0.4l2.4-0.7l2.4-1.1l2.3-1.3l2.1-1.7l1.9-1.9l1.7-2.1l1.3-2.4l1.1-2.5l0.5-1.9l0.4-2.6l0-2.7l-0.3-2.6l-0.7-2.5l-1-2.3l-1.3-2.2l-1.5-1.9l-1.8-1.7l-1.9-1.4l-2.1-1.2l-2.7-1.1l-2.3-0.5l-2.8-0.4l-2.2,0l-2.8,0.4l-2.6,0.7l-2.5,1l-2.3,1.3l-2.1,1.6l-1.8,1.8l-1.6,1.9l-1.3,2.2l-1.3,2.7l-0.8,2.8l-0.3,2.5l0,2.4l0.3,2.5l0.6,2.4l0.9,2.3l1.3,2.2l1.5,2l1.9,1.8l2.2,1.6l2.4,1.3l2.1,0.9l2.8,0.6l2.4,0.3l3-0.1l2.5-0.4l2.4-0.8l2.4-1l2.3-1.3l2.1-1.7l1.9-1.9l1.7-2.1l1.3-2.4l1.1-2.5l0.5-1.9l0.4-2.7l0-2.6l-0.3-2.6l-0.7-2.5l-1-2.3l-1.3-2.2l-1.5-1.9l-1.8-1.7l-1.9-1.5l-2.1-1.1l-2.7-1.1l-2.3-0.5l-2.8-0.4l-2.3,0l-2.7,0.4l-2.6,0.7l-2.5,1l-2.3,1.3l-2.1,1.6l-1.8,1.8l-1.6,1.9l-1.4,2.2l-1.2,2.7l-0.8,2.8l-0.3,2.5l0,2.4l0.3,2.5l0.6,2.4l0.9,2.3l1.3,2.2l1.5,2l1.9,1.9l2.2,1.6l2.4,1.3l2.1,0.8l2.8,0.6l2.4,0.3l3.1-0.1l2.4-0.4l2.5-0.8l2.4-1l2.2-1.4l2.1-1.6l1.9-1.9l1.7-2.2l1.3-2.3l1.1-2.5l0.5-2l0.4-2.6l0-2.6l-0.3-2.6l-0.7-2.5l-1-2.4l-1.3-2.1l-1.5-2l-1.8-1.6l-2-1.5l-2-1.1l-2.8-1.1l-2.2-0.6l-2.8-0.3l-2.8,0.1l-2.8,0.4l-2.6,0.8l-2.4,1.1l-2.3,1.4l-2,1.6l-1.8,1.8l-1.5,2l-1.3,2.1l-1.2,2.8l-0.7,2.8l-0.2,2.5l0,2.4l0.4,2.5" fill="none" stroke="#1c14dc" stroke-width="1.5" stroke-linejoin="round"/>
<path d="M623.8,123.3l4.2-1.1l4.1-1.3l3.8-1.7l4.8-2.5l3.3-2.3l4-3.3l2.6-2.7l3.1-3.9l1.9-3l2.1-4.3l1.5-4.3l0.9-4.4l0.4-4.3l-0.2-4.2l-0.6-4l-1.1-3.8l-1.1-2.7l-1.3-2.5l-1.5-2.3l-2.2-2.8l-1.8-1.9l-2.6-2.2l-2-1.4l-2.7-1.6l-2.2-0.9l-2.8-1l-2.9-0.7l-2.9-0.4l-2.7,0l-2.8,0.1l-2.6,0.5l-3.1,0.9l-2.3,0.9l-2.7,1.4l-2.4,1.7l-2.2,2l-1.9,2.1l-1.6,2.3l-1.3,2.4l-1.2,3.1l-0.6,2.6l-0.2,2.7l0.1,2.6l0.4,2.7l0.7,2.5l1.1,2.5l1.5,2.3l1.7,2.2l2.1,1.9l2.4,1.6l2.6,1.4l2.3,0.7l3.1,0.7l2.5,0.1l3.3-0.2l2.6-0.5l2.6-0.9l2.5-1.2l2.4-1.5l2.1-1.8l2-2.1l1.6-2.4l1.3-2.5l1-2.7l0.4-2l0.3-2.8l-0.1-2.8l-0.5-2.6l-0.8-2.6l-1.2-2.4l-1.4-2.1l-1.7-2l-1.9-1.6l-2.1-1.4l-2.2-1.1l-2.8-1l-2.4-0.5l-2.9-0.2l-2.3,0l-2.8,0.5l-2.6,0.8l-2.5,1.1l-2.3,1.4l-2.1,1.6l-1.8,1.9l-1.6,2l-1.3,2.2l-1.2,2.8l-0.7,2.9l-0.3,2.4l0,2.5l0.4,2.5l0.6,2.4l1,2.3l1.4,2.2l1.6,2.1l1.9,1.8l2.3,1.5l2.4,1.3l2.2,0.8l2.9,0.6l2.4,0.2l2.5-0.1l2.4-0.4l2.5-0.7l2.4-1.1l2.3-1.3l2.2-1.6l1.9-1.9l1.7-2.2l1.4-2.4l1-2.5l0.6-1.9l0.4-2.7l0-2.7l-0.3-2.6l-0.7-2.5l-1-2.4l-1.3-2.1l-1.5-2l-1.8-1.7l-1.9-1.5l-2.1-1.1l-2.7-1.1l-2.3-0.6l-2.8-0.3l-2.9,0l-2.7,0.4l-2.6,0.8l-2.5,1.1l-2.2,1.3l-2.1,1.6l-1.8,1.8l-1.6,2l-1.3,2.2l-1.1,2.7l-0.8,2.9l-0.3,2.4l0.1,2.5l0.3,2.4l0.7,2.4l1,2.3l1.3,2.2l1.6,2l1.9,1.8l2.2,1.6l2.5,1.3l2.1,0.7l2.9,0.6l2.4,0.2l2.4-0.1l2.5-0.4l2.4-0.7l2.4-1l2.3-1.3l2.1-1.7l2-1.9l1.6-2.1l1.4-2.3l1-2.5l0.6-2l0.4-2.6l0.1-2.7l-0.3-2.6l-0.7-2.5l-1-2.3l-1.3-2.2l-1.5-1.9l-1.8-1.8l-1.9-1.4l-2.1-1.2l-2.7-1.1l-2.3-0.5l-2.8-0.4l-2.8,0.1l-2.7,0.4l-2.6,0.7l-2.5,1.1l-2.2,1.4l-2.1,1.6l-1.8,1.8l-1.6,2l-1.2,2.1l-1.2,2.8l-0.8,2.8l-0.2,2.5l0,2.4l0.3,2.5l0.7,2.3l1,2.3l1.3,2.2l1.6,2l1.9,1.8l2.2,1.6l2.5,1.2l2.1,0.8l2.9,0.6l2.4,0.2l2.4-0.1l2.5-0.4l2.4-0.7l2.4-1l2.3-1.4l2.1-1.6l2-1.9l1.6-2.1l1.4-2.4l1-2.5l0.6-1.9l0.4-2.6l0-2.7l-0.3-2.6l-0.6-2.5l-1-2.3l-1.3-2.2l-1.5-2l-1.8-1.7l-1.9-1.4l-2.1-1.2l-2.7-1.1l-2.3-0.5l-2.8-0.4l-2.8,0.1l-2.7,0.4l-2.6,0.8l-2.5,1l-2.3,1.4l-2,1.6l-1.8,1.8l-1.6,2l-1.2,2.1l-1.2,2.8l-0.8,2.8l-0.2,2.5l0,2.4l0.3,2.5l0.7,2.4l1,2.3l1.3,2.1l1.6,2l2,1.8l2.2,1.6l2.4,1.2l2.2,0.8l2.8,0.6l2.4,0.2l2.4-0.1l2.5-0.4l2.5-0.7l2.4-1.1l2.2-1.3l2.2-1.6l1.9-1.9l1.6-2.2l1.4-2.3l1-2.5l0.6-1.9l0.4-2.7l0-2.6l-0.3-2.6l-0.6-2.5l-1-2.4l-1.3-2.1l-1.6-2l-1.7-1.7l-2-1.4l-2-1.2l-2.8-1.1l-2.2-0.5l-2.8-0.4l-2.8,0.1l-2.8,0.4l-2.6,0.8l-2.4,1l-2.3,1.4l-2,1.6l-1.8,1.8l-1.6,2l-1.3,2.2l-1.1,2.7l-0.8,2.9l-0.2,2.4l0,2.5l0.3,2.4l0.7,2.4l1,2.3l1.3,2.2l1.6,2l2,1.8l2.2,1.5l2.4,1.2l2.2,0.8l2.8,0.6l2.4,0.2l2.5-0.1l2.4-0.4l2.5-0.7l2.4-1.1l2.3-1.3l2.1-1.6l1.9-1.9l1.6-2.2l1.4-2.3l1-2.5l0.6-2l0.4-2.6l0-2.7l-0.3-2.6l-0.7-2.4l-1-2.4l-1.2-2.2l-1.6-1.9l-1.7-1.7l-2-1.4l-2.1-1.2l-2.7-1.1l-2.2-0.5l-2.9-0.4l-2.8,0.1l-2.7,0.4l-2.6,0.8l-2.4,1.1l-2.3,1.3l-2,1.6l-1.8,1.8l-1.6,2l-1.3,2.2l-1.1,2.7l-0.8,2.9l-0.2,2.4l0,2.5l0.4,2.4l0.6,2.4l1,2.3l1.3,2.2l1.7,2" fill="none" stroke="#1c14dc" stroke-width="1.5" stroke-linejoin="round"/>
<path d="M650.5,112.2l2.6-3.1l2.2-3.2l1.8-3.3l2-4.5l1.1-3.4l1-4.6l0.3-3.4l0-4.4l-0.6-4.2l-0.9-4l-1.5-3.7l-1.7-3.4l-2.1-3.1l-2.3-2.7l-2.6-2.4l-3.3-2.5l-2.1-1.2l-2.9-1.3l-5.1-1.6l-5-0.6l-2.8,0.1l-2.6,0.3l-2.6,0.6l-2.5,0.7l-4.4,2.2l-2,1.3l-2.3,1.9l-1.6,1.7l-1.7,2.2l-1.4,2.4l-1.2,2.5l-0.8,2.6l-0.4,2.7l-0.2,2.7l0.2,2.6l0.6,2.6l0.9,2.6l1.2,2.4l1.5,2.3l1.9,2.1l1.8,1.4l2.4,1.6l2.1,1.1l2.9,0.9l2.5,0.5l3.2,0.2l2.6-0.2l2.7-0.5l2.5-0.9l2.6-1.2l2.3-1.5l2.2-1.8l1.9-2.1l1.7-2.4l1.3-2.5l0.8-2l0.6-2.7l0.3-2.8l-0.1-2.8l-0.4-2.7l-0.9-2.5l-1.1-2.4l-1.5-2.2l-1.6-1.9l-1.9-1.7l-2.1-1.4l-2.2-1.1l-2.3-0.8l-2.9-0.7l-2.3-0.2l-2.9,0l-2.2,0.4l-2.7,0.7l-2.6,1l-2.3,1.3l-2.1,1.6l-1.9,1.8l-1.7,2l-1.3,2.2l-1.1,2.2l-0.9,2.9l-0.5,3l0,2.4l0.2,2.5l0.6,2.4l1,2.4l1.2,2.2l1.6,2.1l1.9,1.9l2.1,1.6l1.9,1.1l2.7,1.1l2.2,0.6l3,0.4l2.4,0l2.5-0.4l2.5-0.6l2.5-0.9l2.3-1.3l2.2-1.5l2-1.9l1.7-2.1l1.5-2.3l1.2-2.4l0.6-2l0.5-2.6l0.2-2.7l-0.3-2.6l-0.5-2.6l-0.9-2.4l-1.2-2.2l-1.5-2.1l-1.7-1.7l-1.9-1.6l-2.1-1.2l-2.1-1l-2.8-0.9l-2.3-0.3l-2.9-0.2l-2.7,0.3l-2.7,0.6l-2.5,1l-2.4,1.2l-2.1,1.5l-2,1.7l-1.6,1.9l-1.4,2.1l-1.2,2.3l-0.9,2.8l-0.6,2.9l-0.1,2.4l0.2,2.5l0.5,2.4l0.9,2.4l1.2,2.2l1.4,2.1l1.8,1.9l2.1,1.7l1.9,1.1l2.5,1.1l2.2,0.7l3,0.4l2.4,0.1l2.4-0.2l2.5-0.6l2.4-0.8l2.4-1.2l2.2-1.4l2.1-1.8l1.8-2l1.5-2.2l1.2-2.5l0.7-1.9l0.6-2.6l0.3-2.6l-0.1-2.7l-0.5-2.5l-0.8-2.5l-1.1-2.3l-1.5-2l-1.6-1.9l-1.8-1.6l-2.1-1.3l-2.1-1l-2.7-1l-2.3-0.4l-2.8-0.2l-2.8,0.2l-2.7,0.5l-2.6,0.9l-2.3,1.2l-2.2,1.4l-2,1.7l-1.7,1.9l-1.5,2l-1.1,2.2l-1.1,2.8l-0.6,2.9l-0.2,2.5l0.2,2.4l0.4,2.4l0.8,2.4l1.1,2.3l1.5,2.1l1.7,1.9l2,1.7l2.3,1.5l2.6,1.1l2.2,0.7l2.9,0.4l2.4,0.1l2.5-0.3l2.4-0.5l2.5-0.9l2.3-1.1l2.2-1.5l2-1.7l1.9-2l1.5-2.3l1.2-2.4l0.7-1.9l0.6-2.6l0.3-2.7l-0.2-2.6l-0.4-2.6l-0.9-2.4l-1.1-2.3l-1.4-2l-1.6-1.9l-1.9-1.6l-2-1.3l-2.1-1l-2.8-1l-2.2-0.4l-2.9-0.2l-2.7,0.2l-2.7,0.5l-2.6,0.9l-2.4,1.2l-2.1,1.4l-2,1.7l-1.7,1.9l-1.5,2.1l-1.2,2.2l-1,2.7l-0.6,2.9l-0.2,2.5l0.2,2.4l0.5,2.5l0.7,2.3l1.1,2.3l1.5,2.1l1.7,1.9l2,1.7l2.3,1.5l2.6,1.1l2.2,0.7l2.9,0.4l2.4,0.1l2.5-0.3l2.4-0.5l2.5-0.9l2.3-1.1l2.2-1.5l2.1-1.8l1.8-2l1.5-2.2l1.2-2.4l0.7-1.9l0.6-2.7l0.3-2.6l-0.2-2.6l-0.4-2.6l-0.9-2.4l-1.1-2.3l-1.4-2.1l-1.7-1.8l-1.8-1.6l-2-1.3l-2.1-1l-2.8-1l-2.3-0.4l-2.8-0.2l-2.8,0.2l-2.6,0.6l-2.6,0.8l-2.4,1.2l-2.2,1.5l-1.9,1.6l-1.7,1.9l-1.5,2.1l-1.2,2.2l-1,2.8l-0.6,2.9l-0.2,2.4l0.2,2.5l0.5,2.4l0.7,2.3l1.2,2.3l1.4,2.1l1.7,1.9l2.1,1.8l2.3,1.4l2.5,1.1l2.2,0.7l2.9,0.4l2.4,0.1l2.5-0.3l2.5-0.5l2.4-0.9l2.3-1.1l2.3-1.5l2-1.8l1.8-2l1.5-2.2l1.2-2.5l0.7-1.9l0.6-2.6l0.3-2.6l-0.2-2.7l-0.5-2.5l-0.8-2.4l-1.1-2.3l-1.4-2.1l-1.7-1.8l-1.8-1.6l-2-1.3l-2.2-1l-2.7-1l-2.3-0.4l-2.8-0.2l-2.8,0.2l-2.7,0.6l-2.5,0.8l-2.4,1.2l-2.2,1.5l-1.9,1.7l-1.7,1.8l-1.5,2.1l-1.2,2.2l-1,2.8l-0.6,2.9l-0.2,2.4l0.2,2.5l0.5,2.4l0.8,2.4l1.1,2.2l1.4,2.1l1.7,2l2.1,1.7l2.3,1.4l2.5,1.1l2.2,0.7" fill="none" stroke="#1c14dc" stroke-width="1.5" stroke-linejoin="round"/>
<path d="M680.5,85.5l-8.3-11.3l-5.4-6.5l-5.2-5.3l-2.6-2.2l-3.5-2.6l-3.4-2.2l-3.5-1.7l-3.4-1.4l-3.3-1.1l-3.3-0.7l-3.3-0.4l-3.1-0.1l-3.7,0.3l-2.9,0.5l-2.7,0.7l-2.5,1l-2.4,1.1l-4.2,2.8l-1.9,1.6l-2,2.3l-1.4,1.8l-1.5,2.5l-0.9,2.1l-0.9,2.7l-0.5,2.7l-0.2,2.2l0,2.7l0.4,2.2l0.7,2.7l1,2.6l1.4,2.4l1.7,2.2l2.1,2.1l1.9,1.4l2.6,1.5l2.3,0.9l3,0.9l2.6,0.3l2.6,0l2.7-0.2l2.7-0.7l2.6-0.9l2.5-1.3l2.4-1.6l2.2-2l1.9-2.2l1.6-2.4l1.2-2.6l0.7-2.1l0.6-2.8l0.2-2.8l-0.2-2.8l-0.6-2.7l-0.9-2.5l-1.3-2.4l-1.5-2.1l-1.8-1.9l-2-1.6l-2.1-1.4l-2.8-1.3l-2.3-0.7l-3-0.5l-2.3-0.1l-2.9,0.2l-2.2,0.4l-2.7,0.9l-2.4,1.2l-2.3,1.4l-2.1,1.7l-1.8,1.8l-1.5,2.1l-1.3,2.2l-1,2.4l-0.7,2.4l-0.3,2.4l-0.1,2.5l0.4,3l0.6,2.5l1,2.3l1.3,2.2l1.6,2.1l1.9,1.8l2.3,1.6l1.9,1.1l2.7,1l2.3,0.5l3,0.4l2.5-0.1l2.5-0.4l2.4-0.7l2.5-1l2.3-1.3l2.2-1.6l1.9-1.9l1.7-2.2l1.4-2.3l1.1-2.5l0.6-2l0.4-2.7l0.1-2.6l-0.3-2.7l-0.6-2.5l-1-2.4l-1.3-2.2l-1.5-2l-1.8-1.7l-1.9-1.5l-2.1-1.2l-2.2-0.9l-2.8-0.8l-2.3-0.3l-2.8-0.1l-2.8,0.4l-2.6,0.6l-2.5,1l-2.3,1.3l-2.2,1.5l-1.8,1.8l-1.7,2l-1.3,2.1l-1.1,2.2l-0.9,2.8l-0.5,2.5l-0.1,2.4l0.3,3l0.5,2.4l1,2.3l1.2,2.2l1.5,2.1l1.8,1.9l2.2,1.6l1.9,1.1l2.6,1.1l2.2,0.6l2.9,0.4l2.5,0l2.4-0.3l2.5-0.6l2.4-0.9l2.4-1.2l2.1-1.6l2-1.8l1.8-2l1.5-2.3l1.1-2.5l0.7-1.9l0.5-2.6l0.2-2.7l-0.2-2.6l-0.5-2.5l-0.9-2.4l-1.2-2.3l-1.5-2l-1.6-1.8l-1.9-1.5l-2.6-1.6l-2.2-0.9l-2.7-0.8l-2.3-0.3l-2.8-0.1l-2.8,0.3l-2.6,0.7l-2.5,1l-2.3,1.3l-2.2,1.5l-1.8,1.8l-1.7,1.9l-1.3,2.1l-1.1,2.3l-0.9,2.8l-0.4,2.4l-0.2,2.4l0.3,3l0.6,2.4l0.9,2.3l1.2,2.2l1.5,2.1l1.9,1.9l2.1,1.6l1.9,1.1l2.6,1.1l2.2,0.6l3,0.4l2.4,0l2.4-0.3l2.5-0.6l2.4-1l2.4-1.2l2.1-1.5l2-1.8l1.8-2.1l1.5-2.2l1.1-2.5l0.7-1.9l0.5-2.6l0.2-2.7l-0.2-2.6l-0.6-2.6l-0.9-2.4l-1.1-2.2l-1.5-2l-1.7-1.8l-1.9-1.5l-2.5-1.6l-2.2-0.9l-2.8-0.8l-2.2-0.3l-2.9-0.1l-2.7,0.4l-2.7,0.6l-2.4,1l-2.4,1.3l-2.1,1.5l-1.8,1.8l-1.7,1.9l-1.3,2.1l-1.1,2.3l-0.9,2.8l-0.4,2.4l-0.2,2.5l0.3,2.9l0.6,2.4l0.9,2.3l1.2,2.3l1.6,2l1.8,1.9l2.1,1.6l1.9,1.1l2.6,1.1l2.2,0.6l3,0.4l2.4-0.1l2.5-0.2l2.4-0.7l2.4-0.9l2.4-1.2l2.2-1.5l1.9-1.8l1.8-2.1l1.5-2.3l1.1-2.4l0.7-1.9l0.5-2.7l0.2-2.6l-0.2-2.6l-0.6-2.6l-0.9-2.4l-1.2-2.2l-1.4-2l-1.7-1.8l-1.9-1.6l-2.5-1.5l-2.2-0.9l-2.8-0.8l-2.3-0.3l-2.8-0.1l-2.7,0.4l-2.7,0.6l-2.5,1l-2.3,1.3l-2.1,1.5l-1.9,1.8l-1.6,1.9l-1.3,2.2l-1.1,2.2l-0.9,2.8l-0.4,2.4l-0.2,2.5l0.3,2.9l0.6,2.4l0.9,2.4l1.2,2.2l1.6,2l1.8,1.9l2.2,1.6l1.9,1.1l2.5,1.1l2.3,0.6l2.9,0.4l2.4-0.1l2.5-0.3l2.5-0.6l2.4-0.9l2.3-1.2l2.2-1.5l2-1.9l1.7-2l1.5-2.3l1.1-2.5l0.7-1.9l0.5-2.6l0.2-2.7l-0.2-2.6l-0.6-2.5l-0.9-2.4l-1.2-2.2l-1.4-2.1l-1.7-1.7l-1.9-1.6l-2.6-1.5l-2.1-0.9l-2.8-0.8l-2.3-0.3l-2.8-0.1l-2.8,0.4l-2.6,0.6l-2.5,1l-2.3,1.3l-2.1,1.6l-1.9,1.7l-1.6,2l-1.3,2.1l-1.1,2.2l-0.9,2.8l-0.4,2.5l-0.2,2.4l0.3,3l0.6,2.4l0.9,2.3l1.2,2.2l1.6,2l1.8,1.9l2.2,1.6l1.9,1.1l2.6,1.1l2.2,0.6l2.9,0.4l2.5-0.1l2.4-0.3l2.5-0.6l2.4-0.9l2.3-1.2" fill="none" stroke="#1c14dc" stroke-width="1.5" stroke-linejoin="round"/>
<path d="M663.9,45.4l-12.8-0.6l-8.7,0l-7.3,0.6l-3.7,0.6l-3.5,0.9l-3.2,1l-3,1.2l-2.8,1.4l-3.1,2l-2.2,1.7l-2.5,2.3l-1.8,2l-1.8,2.6l-1.3,2.2l-1.2,2.8l-0.8,2.3l-0.6,3l-0.2,2.9l0.1,2.4l0.4,2.9l0.6,2.2l1,2.7l1.1,2.1l1.8,2.5l1.6,1.8l2.3,2l2.1,1.3l2.3,1.2l2.4,0.9l3.3,0.8l2.7,0.2l2.8-0.1l2.8-0.4l2.8-0.7l2.7-1.2l2.6-1.4l2.4-1.8l2.1-2.1l1.9-2.4l1.5-2.6l0.9-2.1l0.7-2.1l0.5-2.9l0.2-2.9l-0.3-2.9l-0.6-2.8l-1-2.6l-1.4-2.4l-1.6-2.1l-1.8-1.9l-2.1-1.7l-2.1-1.3l-2.9-1.3l-2.4-0.7l-3-0.5l-3-0.1l-2.9,0.3l-2.8,0.7l-2.6,1l-2.4,1.3l-2.7,1.9l-1.9,1.8l-1.7,2l-1.3,2.2l-1.1,2.3l-0.9,2.4l-0.5,2.5l-0.1,2.5l0.1,2.5l0.5,2.5l0.8,2.4l1.1,2.4l1.4,2.1l1.8,2l1.6,1.5l2.3,1.5l2,1l2.7,1l2.4,0.5l3,0.2l2.5-0.2l2.5-0.4l2.5-0.8l2.4-1.1l2.3-1.4l2.2-1.7l1.9-2l1.6-2.2l1.3-2.4l1-2.5l0.6-2l0.3-2.7l0-2.7l-0.4-2.6l-0.7-2.5l-1.1-2.4l-1.3-2.1l-1.6-1.9l-1.9-1.7l-1.9-1.4l-2.2-1.2l-2.2-0.8l-2.8-0.7l-2.3-0.3l-2.8,0l-2.8,0.4l-2.6,0.8l-2.5,1l-2.3,1.4l-2,1.5l-1.9,1.8l-1.6,2l-1.3,2.2l-1,2.2l-0.9,2.9l-0.3,2.4l-0.1,2.5l0.3,2.9l0.7,2.5l0.9,2.3l1.3,2.2l1.6,2l1.9,1.8l2.2,1.6l1.9,1.1l2.7,1l2.2,0.5l3,0.3l2.5,0l2.4-0.4l2.5-0.7l2.4-1l2.3-1.3l2.2-1.6l1.9-1.8l1.7-2.1l1.4-2.4l1.1-2.5l0.6-1.9l0.4-2.6l0.1-2.7l-0.3-2.6l-0.6-2.5l-1-2.4l-1.2-2.2l-1.5-2l-1.8-1.7l-1.9-1.5l-2.6-1.4l-2.2-0.9l-2.8-0.7l-2.2-0.3l-2.9,0l-2.7,0.4l-2.6,0.8l-2.5,1l-2.3,1.3l-2,1.6l-1.9,1.8l-1.5,2l-1.4,2.1l-1,2.3l-0.8,2.8l-0.4,2.5l-0.1,2.4l0.4,3l0.6,2.3l1,2.4l1.3,2.1l1.6,2.1l1.9,1.8l2.1,1.6l2,1l2.6,1l2.3,0.6l2.9,0.3l2.5-0.1l2.4-0.4l2.5-0.6l2.4-1l2.3-1.3l2.1-1.6l2-1.9l1.7-2.1l1.4-2.3l1-2.5l0.6-1.9l0.5-2.7l0.1-2.6l-0.3-2.6l-0.6-2.5l-1-2.4l-1.3-2.2l-1.5-2l-1.7-1.7l-1.9-1.5l-2.6-1.4l-2.2-0.9l-2.8-0.7l-2.3-0.3l-2.8,0.1l-2.7,0.4l-2.6,0.7l-2.5,1l-2.3,1.4l-2,1.5l-1.9,1.8l-1.5,2l-1.4,2.1l-1,2.3l-0.8,2.8l-0.4,2.5l0,2.4l0.3,3l0.6,2.4l1,2.3l1.3,2.2l1.6,2l1.9,1.8l2.2,1.6l1.9,1l2.6,1l2.3,0.6l2.9,0.3l2.5-0.1l2.5-0.4l2.4-0.6l2.4-1l2.3-1.3l2.1-1.6l2-1.9l1.7-2.1l1.4-2.3l1-2.5l0.6-2l0.5-2.6l0.1-2.6l-0.3-2.7l-0.7-2.5l-0.9-2.3l-1.3-2.2l-1.5-2l-1.7-1.7l-2-1.5l-2.5-1.4l-2.2-0.9l-2.8-0.7l-2.3-0.3l-2.8,0.1l-2.7,0.4l-2.7,0.7l-2.4,1l-2.3,1.4l-2.1,1.6l-1.8,1.7l-1.6,2l-1.3,2.2l-1,2.2l-0.8,2.9l-0.4,2.4l0,2.5l0.3,2.9l0.7,2.4l0.9,2.3l1.3,2.2l1.6,2l1.9,1.8l2.2,1.6l1.9,1l2.7,1l2.2,0.6l3,0.3l2.4-0.1l2.5-0.4l2.4-0.7l2.4-0.9l2.3-1.3l2.2-1.6l1.9-1.9l1.7-2.1l1.4-2.4l1-2.5l0.6-1.9l0.5-2.6l0.1-2.7l-0.3-2.6l-0.7-2.5l-0.9-2.4l-1.3-2.1l-1.5-2l-1.8-1.7l-1.9-1.5l-2.6-1.4l-2.2-0.9l-2.8-0.7l-2.2-0.3l-2.8,0.1l-2.8,0.4l-2.6,0.7l-2.4,1.1l-2.3,1.3l-2.1,1.6l-1.8,1.8l-1.6,1.9l-1.3,2.2l-1,2.3l-0.8,2.8l-0.4,2.4l0,2.5l0.3,2.9l0.7,2.4l0.9,2.3l1.3,2.2l1.6,2l1.9,1.8l2.2,1.6l1.9,1l2.7,1l2.2,0.6l3,0.3l2.4-0.1l2.5-0.4l2.5-0.7l2.4-1l2.2-1.3l2.2-1.6l1.9-1.8l1.7-2.2l1.4-2.3l1.1-2.5l0.5-1.9l0.5-2.7l0-2.6" fill="none" stroke="#1c14dc" stroke-width="1.5" stroke-linejoin="round"/>
<path d="M623.8,28.8l-9.5,11l-4.5,5.7l-4.1,6l-1.8,3.3l-1.5,3.2l-1.2,3.2l-1,3.1l-0.6,3.1l-0.4,3l0,3l0.1,2.9l0.6,3.6l0.8,2.7l1.4,3.3l1.3,2.5l2.1,2.9l2,2.1l2.7,2.3l2.5,1.7l2.6,1.3l2.9,1.1l3,0.7l3.1,0.4l3.2,0l3.2-0.4l3.2-0.8l3.1-1.2l2.9-1.5l2.8-2l2.4-2.3l2.2-2.6l1.3-2.1l1.5-3l0.7-2.4l0.7-3.2l0.2-3.2l-0.2-3.1l-0.7-3.1l-1-2.8l-1.4-2.7l-1.7-2.4l-1.9-2.1l-2.2-1.8l-2.3-1.5l-3-1.5l-3.1-1l-3.2-0.6l-3.1-0.1l-3.1,0.3l-2.9,0.6l-2.8,1l-2.5,1.3l-2.8,1.9l-2,1.8l-2.1,2.5l-1.7,2.7l-1.3,2.9l-0.8,3l-0.3,3l0.1,3.1l0.4,2.6l0.8,2.4l1.2,2.4l1.4,2.2l1.8,2l2.1,1.8l1.8,1.3l2.6,1.3l2.2,0.7l3,0.6l2.5,0.2l2.5-0.1l2.6-0.5l2.5-0.7l2.4-1.1l2.4-1.4l2.2-1.7l1.9-2l1.7-2.2l1.4-2.4l1-2.6l0.5-2l0.4-2.7l0-2.8l-0.4-2.6l-0.7-2.5l-1-2.4l-1.4-2.2l-1.6-2l-1.8-1.7l-2-1.4l-2.1-1.2l-2.8-1.1l-2.3-0.5l-2.9-0.3l-2.3,0l-2.7,0.4l-2.7,0.7l-2.5,1l-2.3,1.4l-2.1,1.5l-1.9,1.8l-1.6,2l-1.3,2.2l-1.3,2.7l-0.8,2.9l-0.3,2.4l0,2.5l0.3,2.5l0.6,2.4l0.9,2.3l1.3,2.2l1.6,2.1l1.8,1.8l2.2,1.6l2.4,1.3l2.2,0.9l2.8,0.6l2.4,0.3l2.4-0.1l2.5-0.3l2.5-0.6l2.4-1l2.3-1.3l2.2-1.5l2-1.9l1.7-2.1l1.4-2.3l1.1-2.5l0.7-1.9l0.4-2.7l0.2-2.6l-0.3-2.7l-0.6-2.5l-0.9-2.4l-1.2-2.2l-1.5-2l-1.8-1.8l-1.9-1.5l-2-1.2l-2.7-1.2l-2.3-0.6l-2.8-0.4l-2.3,0l-2.7,0.3l-2.7,0.6l-2.5,1l-2.3,1.2l-2.2,1.5l-1.9,1.8l-1.6,1.9l-1.4,2.1l-1.3,2.7l-0.9,2.8l-0.4,2.5l-0.1,2.4l0.3,2.5l0.5,2.4l0.9,2.3l1.2,2.2l1.5,2.1l1.8,1.9l2.1,1.7l2.4,1.3l2,0.9l2.8,0.7l2.4,0.4l3-0.1l2.5-0.3l2.4-0.6l2.5-1l2.3-1.3l2.1-1.5l2-1.9l1.7-2.1l1.4-2.3l1.2-2.4l0.6-2l0.5-2.6l0.1-2.7l-0.3-2.6l-0.6-2.5l-0.9-2.4l-1.2-2.2l-1.5-2l-1.7-1.7l-1.9-1.5l-2.1-1.3l-2.7-1.1l-2.2-0.6l-2.8-0.4l-2.3-0.1l-2.8,0.3l-2.6,0.6l-2.5,1l-2.4,1.3l-2.1,1.5l-1.9,1.7l-1.6,1.9l-1.4,2.1l-1.3,2.7l-0.9,2.9l-0.4,2.4l-0.1,2.4l0.3,2.5l0.5,2.4l0.9,2.3l1.2,2.3l1.5,2l1.8,1.9l2.1,1.7l2.4,1.3l2.1,0.9l2.8,0.7l2.3,0.3l3,0l2.5-0.3l2.5-0.7l2.4-0.9l2.3-1.3l2.1-1.6l2-1.8l1.7-2.1l1.4-2.3l1.1-2.5l0.7-1.9l0.4-2.6l0.2-2.7l-0.3-2.6l-0.6-2.5l-0.9-2.4l-1.2-2.2l-1.5-2l-1.7-1.7l-2-1.5l-2-1.3l-2.7-1.1l-2.2-0.6l-2.9-0.4l-2.2-0.1l-2.8,0.3l-2.6,0.7l-2.5,0.9l-2.4,1.3l-2.1,1.5l-1.9,1.7l-1.6,2l-1.4,2.1l-1.3,2.6l-0.9,2.9l-0.4,2.4l-0.1,2.5l0.3,2.4l0.5,2.4l0.9,2.4l1.2,2.2l1.5,2l1.8,1.9l2.1,1.7l2.4,1.3l2.1,0.9l2.8,0.7l2.3,0.3l3.1,0l2.4-0.3l2.5-0.7l2.4-0.9l2.3-1.3l2.2-1.6l1.9-1.8l1.7-2.1l1.5-2.3l1.1-2.5l0.6-1.9l0.4-2.7l0.2-2.6l-0.3-2.6l-0.6-2.5l-0.9-2.4l-1.3-2.2l-1.4-2l-1.8-1.8l-1.9-1.5l-2-1.2l-2.7-1.1l-2.3-0.6l-2.8-0.4l-2.2-0.1l-2.8,0.3l-2.7,0.7l-2.5,0.9l-2.3,1.3l-2.1,1.5l-1.9,1.7l-1.7,2l-1.3,2.1l-1.3,2.7l-0.9,2.8l-0.4,2.4l-0.1,2.5l0.3,2.4l0.5,2.4l0.9,2.4l1.2,2.2l1.5,2.1l1.9,1.8l2.1,1.7l2.3,1.3l2.1,0.9l2.8,0.7l2.3,0.3l3.1,0l2.5-0.3l2.4-0.7l2.4-0.9l2.3-1.3l2.2-1.6l1.9-1.8l1.7-2.1l1.5-2.3l1.1-2.5l0.6-2l0.4-2.6l0.2-2.6l-0.3-2.6l-0.6-2.6l-0.9-2.3l-1.3-2.2l-1.5-2l-1.7-1.8l-1.9-1.5l-2-1.2l-2.8-1.1" fill="none" stroke="#1c14dc" stroke-width="1.5" stroke-linejoin="round"/>
<path d="M583.7,45.4l1.6,14.7l1.6,9.6l2,8.1l1.5,4.1l1.3,2.9l1.9,3.7l2.2,3.3l2.4,3.1l2,2.2l2.9,2.6l3.1,2.2l3.4,1.9l2.6,1.3l3.7,1.2l3.8,0.8l3.9,0.4l2.9,0l4-0.4l3.8-0.9l3.8-1.4l2.7-1.4l3.3-2.1l2.3-1.9l2-2.2l2.4-3.1l1.5-2.4l1.6-3.5l1-3.6l0.6-3.7l0-2.7l-0.3-3.5l-0.5-2.6l-1.1-3.2l-1.4-3l-1.8-2.8l-2.1-2.4l-2.2-2.1l-2.5-1.8l-3.2-1.8l-2.6-1l-3.4-0.9l-2.7-0.4l-3.3-0.1l-3.2,0.3l-3,0.8l-2.9,1l-3.2,1.6l-2.3,1.7l-2.5,2.3l-2.1,2.6l-1.7,2.8l-1.2,3l-0.8,3l-0.3,3.2l0.2,3.1l0.7,3.1l1.1,3l1.7,2.7l1.7,2.2l2.5,2.2l2.3,1.6l2.7,1.2l2.3,0.8l3,0.5l2.5,0.1l3.3-0.2l2.6-0.6l2.5-0.9l2.5-1.3l2.3-1.5l2.1-1.9l1.8-2.1l1.6-2.3l1.2-2.6l0.7-2l0.6-2.7l0.3-2.7l-0.2-2.8l-0.6-2.6l-0.8-2.5l-1.2-2.3l-1.5-2.1l-1.7-1.9l-2-1.6l-2-1.3l-2.2-1.1l-2.9-0.9l-2.3-0.5l-2.9-0.2l-2.8,0.3l-2.7,0.5l-2.6,0.9l-2.4,1.2l-2.3,1.5l-2,1.7l-1.7,1.9l-1.7,2.5l-1.2,2.3l-0.8,2.3l-0.6,2.9l-0.2,2.5l0.2,3l0.5,2.4l0.9,2.4l1.2,2.2l1.4,2.2l1.9,1.9l2,1.7l1.9,1.1l2.6,1.1l2.2,0.7l2.9,0.5l2.5,0l3.1-0.3l2.5-0.6l2.4-0.9l2.3-1.3l2.2-1.5l2-1.9l1.8-2l1.4-2.3l1.2-2.5l0.6-2l0.6-2.6l0.1-2.7l-0.2-2.6l-0.6-2.5l-0.9-2.5l-1.2-2.2l-1.4-2l-1.7-1.8l-1.9-1.5l-2.1-1.3l-2.1-1l-2.8-0.8l-2.3-0.4l-2.8-0.1l-2.8,0.2l-2.7,0.6l-2.5,1l-2.4,1.2l-2.1,1.5l-1.9,1.7l-1.7,1.9l-1.7,2.6l-1,2.2l-0.9,2.8l-0.5,2.5l-0.1,2.4l0.3,3l0.6,2.4l0.9,2.3l1.2,2.2l1.6,2.1l1.8,1.8l2.2,1.6l1.9,1.1l2.6,1.1l2.2,0.6l2.9,0.4l2.5,0l2.4-0.3l2.5-0.6l2.4-1l2.3-1.2l2.2-1.5l2-1.9l1.7-2l1.5-2.3l1.2-2.5l0.6-1.9l0.5-2.6l0.2-2.7l-0.2-2.6l-0.6-2.5l-0.9-2.4l-1.2-2.3l-1.4-2l-1.7-1.8l-1.9-1.5l-2-1.2l-2.2-1l-2.8-0.9l-2.2-0.4l-2.9-0.1l-2.7,0.3l-2.7,0.6l-2.5,0.9l-2.4,1.2l-2.1,1.5l-1.9,1.7l-1.7,2l-1.7,2.5l-1,2.2l-0.9,2.9l-0.5,2.4l-0.1,2.4l0.3,3l0.6,2.4l0.9,2.3l1.3,2.2l1.5,2.1l1.8,1.8l2.2,1.6l1.9,1.1l2.6,1.1l2.2,0.6l2.9,0.4l2.5-0.1l2.4-0.3l2.5-0.6l2.4-0.9l2.3-1.2l2.2-1.6l2-1.8l1.7-2.1l1.5-2.2l1.1-2.5l0.7-1.9l0.5-2.7l0.2-2.6l-0.2-2.6l-0.6-2.6l-0.9-2.4l-1.2-2.2l-1.5-2l-1.7-1.8l-1.8-1.5l-2.1-1.3l-2.1-0.9l-2.8-0.9l-2.3-0.4l-2.8-0.1l-2.8,0.3l-2.6,0.6l-2.5,0.9l-2.4,1.3l-2.1,1.4l-1.9,1.8l-1.7,1.9l-1.4,2.1l-1.1,2.2l-1,2.8l-0.5,2.4l-0.2,2.5l0.2,2.9l0.6,2.4l0.8,2.4l1.2,2.2l1.5,2.1l1.8,1.9l2.1,1.6l1.8,1.2l2.6,1.1l2.2,0.7l2.9,0.4l2.4,0.1l3.1-0.4l2.4-0.6l2.4-0.9l2.4-1.3l2.1-1.5l2-1.8l1.8-2.1l1.4-2.3l1.2-2.4l0.6-2l0.5-2.6l0.2-2.6l-0.2-2.6l-0.6-2.6l-0.9-2.4l-1.2-2.2l-1.5-2l-1.7-1.8l-1.9-1.5l-2-1.3l-2.2-0.9l-2.7-0.9l-2.3-0.4l-2.8-0.1l-2.8,0.3l-2.6,0.6l-2.6,0.9l-2.3,1.3l-2.1,1.5l-2,1.7l-1.6,1.9l-1.4,2.1l-1.2,2.2l-0.9,2.8l-0.5,2.4l-0.2,2.5l0.3,2.9l0.5,2.4l0.8,2.4l1.2,2.2l1.5,2.1l1.8,1.9l2.1,1.7l1.8,1.1l2.6,1.1l2.2,0.7l2.9,0.4l2.4,0.1l3.1-0.4l2.5-0.6l2.4-0.9l2.3-1.3l2.2-1.5l1.9-1.8l1.8-2.1l1.4-2.3l1.2-2.5l0.6-1.9l0.5-2.6l0.2-2.7l-0.3-2.6l-0.5-2.5l-0.9-2.4l-1.2-2.2l-1.5-2l-1.7-1.8l-1.9-1.5l-2-1.3l-2.2-1l-2.8-0.8l-2.2-0.4l-2.8-0.1l-2.8,0.3l-2.7,0.6l-2.5,0.9l-2.3,1.3" fill="none" stroke="#1c14dc" stroke-width="1.5" stroke-linejoin="round"/>
<path d="M567.1,85.5l12.3,10.9l8.9,7l4.8,3.2l3.6,2l3.6,1.8l3.6,1.5l4.8,1.6l3.7,0.9l4.9,0.6l3.6,0.2l4.9-0.2l3.5-0.6l4.6-1.2l3.3-1.2l3.2-1.6l2.9-1.8l2.8-2l3.3-3.1l2.2-2.5l1.9-2.7l1.6-2.9l1.6-3.9l0.9-3l0.7-4.1l0.2-3l-0.3-3.9l-0.5-2.8l-1-3.6l-1.4-3.3l-1.8-3.1l-1.5-2l-2.3-2.5l-2.5-2.2l-2.6-1.8l-2.7-1.4l-2.7-1.2l-2.9-0.8l-3.4-0.6l-2.8-0.1l-3.3,0.2l-3.2,0.6l-3,0.9l-2.8,1.3l-2.6,1.5l-2.3,1.8l-2.4,2.4l-1.7,2.3l-1.6,2.8l-1.2,3l-0.7,3.2l-0.2,3.1l0.2,3.2l0.7,3.1l1,2.5l1.6,2.8l1.8,2.2l2.4,2.3l2.4,1.6l2.7,1.3l2.9,0.9l3.1,0.5l3.2,0l2.6-0.3l2.6-0.7l2.6-1l2.4-1.3l2.3-1.6l2.1-1.9l1.8-2.2l1.5-2.4l1.2-2.6l0.8-2.7l0.4-2.7l0.1-2.8l-0.3-2.7l-0.7-2.6l-1.1-2.5l-1.3-2.2l-1.6-2l-1.8-1.8l-2-1.5l-2.7-1.5l-2.3-0.8l-2.9-0.7l-2.3-0.3l-2.9,0.1l-2.2,0.3l-2.7,0.6l-2.6,1.1l-2.3,1.3l-2.2,1.5l-1.9,1.8l-1.6,2l-1.7,2.5l-1,2.3l-0.9,2.9l-0.4,2.5l0,2.4l0.3,3l0.7,2.4l0.9,2.4l1.3,2.2l1.6,2l1.9,1.9l2.2,1.6l2.5,1.3l2.7,0.9l2.3,0.5l3,0.3l2.4-0.2l2.5-0.4l2.5-0.7l2.4-1.1l2.3-1.4l2.1-1.7l1.9-1.9l1.7-2.2l1.3-2.4l1-2.5l0.7-2.6l0.2-2.7l-0.1-2.6l-0.4-2.6l-0.8-2.5l-1.1-2.3l-1.4-2.1l-1.6-1.8l-1.9-1.7l-2-1.3l-2.7-1.3l-2.2-0.8l-2.8-0.5l-2.3-0.2l-2.8,0.2l-2.7,0.5l-2.6,0.9l-2.4,1.1l-2.2,1.5l-1.9,1.6l-1.8,1.9l-1.5,2l-1.4,2.7l-0.9,2.3l-0.6,2.9l-0.2,2.5l0.1,2.4l0.5,2.5l0.7,2.3l1.1,2.3l1.4,2.1l1.7,2l2,1.7l2.3,1.5l2,1l2.7,0.8l2.3,0.5l3.1,0.1l2.4-0.2l2.5-0.5l2.4-0.8l2.4-1.2l2.2-1.4l2.1-1.7l1.8-2l1.6-2.2l1.2-2.4l0.9-2.6l0.6-2.6l0.2-2.7l-0.2-2.6l-0.5-2.5l-0.9-2.4l-1.2-2.3l-1.4-2l-1.7-1.8l-1.9-1.6l-2-1.3l-2.7-1.2l-2.2-0.7l-2.8-0.4l-2.3-0.1l-2.8,0.2l-2.6,0.6l-2.6,0.9l-2.3,1.3l-2.2,1.4l-1.9,1.7l-1.7,1.9l-1.4,2.1l-1.4,2.7l-0.9,2.8l-0.4,2.4l-0.2,2.5l0.2,2.4l0.5,2.4l0.8,2.4l1.2,2.2l1.5,2.1l1.7,1.9l2.1,1.7l2.3,1.4l2.1,0.9l2.7,0.8l2.4,0.4l3,0.1l2.4-0.3l2.5-0.6l2.4-0.9l2.4-1.2l2.1-1.5l2-1.8l1.8-2.1l1.5-2.3l1.2-2.4l0.6-1.9l0.6-2.6l0.2-2.7l-0.2-2.6l-0.5-2.6l-0.9-2.4l-1.2-2.2l-1.4-2l-1.7-1.8l-1.9-1.6l-2-1.3l-2.7-1.2l-2.2-0.6l-2.9-0.5l-2.2-0.1l-2.8,0.2l-2.7,0.6l-2.5,1l-2.3,1.2l-2.2,1.4l-1.9,1.7l-1.7,2l-1.4,2l-1.4,2.7l-0.9,2.8l-0.4,2.4l-0.2,2.5l0.2,2.4l0.5,2.5l0.9,2.3l1.1,2.3l1.5,2.1l1.7,1.9l2.1,1.6l2.3,1.4l2.1,0.9l2.8,0.8l2.3,0.4l3,0.1l2.5-0.3l2.4-0.6l2.4-0.9l2.4-1.2l2.2-1.6l2-1.8l1.7-2l1.5-2.3l1.2-2.4l0.6-1.9l0.6-2.7l0.2-2.6l-0.2-2.6l-0.6-2.6l-0.8-2.4l-1.2-2.2l-1.5-2.1l-1.6-1.8l-1.9-1.5l-2-1.3l-2.7-1.2l-2.3-0.7l-2.8-0.4l-2.2-0.1l-2.8,0.3l-2.7,0.5l-2.5,1l-2.4,1.2l-2.1,1.5l-1.9,1.7l-1.7,1.9l-1.4,2.1l-1.4,2.6l-0.9,2.8l-0.4,2.5l-0.2,2.4l0.2,2.5l0.5,2.4l0.9,2.3l1.1,2.3l1.5,2.1l1.8,1.9l2,1.7l2.4,1.4l2,0.9l2.8,0.7l2.3,0.4l3,0.1l2.5-0.3l2.5-0.6l2.4-0.9l2.3-1.3l2.2-1.5l2-1.8l1.7-2l1.5-2.3l1.2-2.5l0.6-1.9l0.6-2.6l0.2-2.6l-0.2-2.7l-0.6-2.5l-0.8-2.4l-1.2-2.3l-1.5-2l-1.7-1.8l-1.8-1.5l-2.1-1.3l-2.6-1.2l-2.3-0.7l-2.8-0.4l-2.3-0.1l-2.7,0.3l-2.7,0.6l-2.5,0.9l-2.4,1.2l-2.1,1.5l-2,1.7l-1.6,1.9l-1.5,2.1l-1.3,2.6" fill="none" stroke="#1c14dc" stroke-width="1.5" stroke-linejoin="round"/>
<path d="M583.7,125.6l17.5,0.5l10.6-0.3l6.4-0.7l4.5-0.9l4.4-1.1l4.1-1.3l3.9-1.6l3.7-1.9l3.5-2.2l4.2-3.2l2.8-2.6l3.3-3.8l2.2-3l2.3-4.2l1.3-3.3l1.1-3.3l0.7-3.3l0.4-3.2l0.1-3.3l-0.3-3.1l-0.4-3l-1.1-3.9l-1-2.7l-1.7-3.4l-2.1-3l-2.3-2.7l-2.4-2.4l-2.7-1.9l-2.8-1.7l-2.8-1.3l-2.9-1l-2.9-0.6l-2.8-0.4l-3.5,0l-2.7,0.2l-3.2,0.7l-3,1l-2.8,1.4l-2.5,1.6l-2.3,1.8l-2,2.1l-1.7,2.3l-1.4,2.3l-1.1,2.5l-0.8,2.6l-0.5,3.2l0,3.2l0.4,2.7l0.9,3.1l1.1,2.4l1.7,2.8l1.9,2.1l2.2,1.8l2.4,1.6l2.7,1.2l3,0.9l3.1,0.4l2.6,0l3.3-0.4l2.6-0.7l3.1-1.4l2.4-1.5l2.2-1.7l2-2.1l1.7-2.3l1.4-2.5l0.8-2l0.7-2.7l0.4-2.8l-0.1-2.7l-0.4-2.7l-0.7-2.6l-1.1-2.4l-1.4-2.2l-1.7-2l-1.9-1.7l-2-1.5l-2.7-1.4l-2.3-0.8l-2.9-0.6l-2.3-0.2l-2.9,0.1l-2.8,0.4l-2.6,0.8l-2.5,1.2l-2.3,1.3l-2.1,1.7l-1.8,1.8l-1.6,2.1l-1.5,2.6l-0.9,2.4l-0.8,2.9l-0.2,2.4l0,2.5l0.5,3l0.7,2.4l1.1,2.3l1.4,2.1l1.7,2l2,1.8l2.3,1.5l2.1,1l2.7,0.9l2.3,0.4l3,0.2l2.5-0.2l3.1-0.7l2.5-0.9l2.3-1.2l2.2-1.5l2.1-1.8l1.8-2l1.5-2.3l1.2-2.4l0.7-2l0.5-2.6l0.3-2.7l-0.2-2.6l-0.5-2.6l-0.9-2.4l-1.1-2.3l-1.5-2.1l-1.7-1.8l-1.8-1.5l-2.1-1.3l-2.7-1.3l-2.2-0.7l-2.8-0.5l-2.3-0.1l-2.8,0.3l-2.7,0.5l-2.5,0.9l-2.4,1.2l-2.2,1.5l-1.9,1.7l-1.7,1.9l-1.5,2.1l-1.3,2.6l-1,2.8l-0.4,2.5l-0.2,2.4l0.2,2.5l0.6,2.9l0.9,2.3l1.2,2.3l1.5,2l1.8,1.9l2.1,1.7l2.4,1.3l2,0.9l2.8,0.8l2.4,0.3l3,0l2.5-0.4l2.5-0.6l2.4-1l2.3-1.2l2.1-1.6l2-1.9l1.7-2.1l1.5-2.3l1.1-2.4l0.6-2l0.5-2.6l0.1-2.7l-0.3-2.6l-0.5-2.5l-1-2.4l-1.2-2.2l-1.5-2l-1.7-1.7l-1.9-1.5l-2.1-1.3l-2.7-1.1l-2.2-0.6l-2.8-0.5l-2.3,0l-2.8,0.3l-2.6,0.6l-2.5,1l-2.4,1.3l-2.1,1.5l-1.9,1.7l-1.6,1.9l-1.4,2.1l-1.3,2.7l-0.9,2.9l-0.4,2.4l-0.1,2.4l0.3,2.5l0.5,2.4l0.9,2.3l1.2,2.3l1.5,2l1.8,1.9l2.1,1.7l2.4,1.3l2.1,0.9l2.8,0.7l2.3,0.3l3,0l2.5-0.3l2.5-0.7l2.4-0.9l2.3-1.3l2.1-1.6l2-1.8l1.7-2.1l1.4-2.3l1.2-2.5l0.6-1.9l0.4-2.6l0.2-2.7l-0.3-2.6l-0.6-2.5l-0.9-2.4l-1.2-2.2l-1.5-2l-1.7-1.7l-2-1.5l-2-1.3l-2.7-1.1l-2.2-0.6l-2.9-0.4l-2.2-0.1l-2.8,0.3l-2.6,0.7l-2.5,0.9l-2.4,1.3l-2.1,1.5l-1.9,1.7l-1.6,2l-1.4,2.1l-1.3,2.6l-0.9,2.9l-0.4,2.4l-0.1,2.5l0.3,2.4l0.5,2.4l0.9,2.4l1.2,2.2l1.5,2l1.8,1.9l2.1,1.7l2.4,1.3l2.1,0.9l2.8,0.7l2.3,0.3l3.1,0l2.4-0.3l2.5-0.7l2.4-0.9l2.3-1.3l2.2-1.6l1.9-1.8l1.7-2.1l1.5-2.3l1.1-2.5l0.6-1.9l0.4-2.7l0.2-2.6l-0.3-2.6l-0.6-2.5l-0.9-2.4l-1.3-2.2l-1.4-2l-1.8-1.8l-1.9-1.5l-2-1.2l-2.7-1.1l-2.3-0.6l-2.8-0.4l-2.3-0.1l-2.7,0.3l-2.7,0.7l-2.5,0.9l-2.3,1.3l-2.1,1.5l-1.9,1.7l-1.7,2l-1.3,2.1l-1.3,2.7l-0.9,2.8l-0.4,2.4l-0.1,2.5l0.3,2.4l0.5,2.4l0.9,2.4l1.2,2.2l1.5,2.1l1.9,1.8l2.1,1.7l2.3,1.3l2.1,0.9l2.8,0.7l2.4,0.3l3,0l2.5-0.3l2.4-0.7l2.4-0.9l2.3-1.3l2.2-1.6l1.9-1.8l1.7-2.1l1.5-2.4l1.1-2.4l0.6-2l0.4-2.6l0.2-2.6l-0.3-2.7l-0.6-2.5l-0.9-2.3l-1.3-2.2l-1.5-2l-1.7-1.8l-1.9-1.5l-2-1.2l-2.8-1.1l-2.2-0.7l-2.8-0.3l-2.3-0.1l-2.7,0.3l-2.7,0.7l-2.5,0.9l-2.3,1.3l-2.1,1.5l-1.9,1.8l-1.7,1.9l-1.3,2.1l-1.3,2.7l-0.9,2.8l-0.4,2.4l-0.1,2.5l0.3,2.4" fill="none" stroke="#1c14dc" stroke-width="1.5" stroke-linejoin="round"/>
<path d="M623.8,142.2l12.1-9.4l8.1-7.1l3.5-3.6l3.1-3.5l2.7-3.6l2.4-3.7l2.1-3.7l1.7-3.7l1.3-3.7l1.3-4.9l0.6-3.6l0.3-4.8l-0.2-4.5l-0.7-4.4l-0.9-3.1l-1-2.9l-1.3-2.7l-2-3.4l-1.7-2.3l-2.4-2.7l-1.9-1.8l-2.8-2.1l-2.1-1.4l-2.9-1.5l-2.9-1.1l-3-0.8l-2.9-0.5l-2.9-0.2l-2.8,0l-3.3,0.5l-2.6,0.6l-3,1.1l-2.8,1.4l-2.5,1.7l-2.3,1.9l-1.9,2.1l-1.7,2.3l-1.6,2.9l-1,2.6l-0.8,3.2l-0.2,2.6l0.1,2.7l0.4,2.7l0.7,2.6l1.1,2.4l1.5,2.4l1.7,2.1l2.1,2l2.4,1.6l2.7,1.3l2.9,1l2.5,0.5l3.2,0.1l2.6-0.2l3.3-0.7l2.6-0.9l2.5-1.3l2.3-1.6l2.1-1.9l1.9-2.2l1.5-2.4l1.3-2.6l0.6-2l0.6-2.8l0.2-2.8l-0.2-2.7l-0.6-2.7l-0.9-2.5l-1.2-2.3l-1.6-2.1l-1.7-1.9l-2-1.6l-2.1-1.3l-2.8-1.3l-2.3-0.7l-2.9-0.5l-2.9-0.1l-2.8,0.3l-2.7,0.7l-2.6,1l-2.4,1.3l-2.2,1.5l-1.9,1.8l-1.7,1.9l-1.4,2.1l-1.3,2.8l-0.9,2.8l-0.5,2.5l-0.1,2.5l0.3,2.5l0.5,2.4l0.9,2.4l1.2,2.2l1.5,2.1l1.8,2l2.1,1.6l2.4,1.4l2.1,0.9l2.8,0.8l2.3,0.3l3.1,0.1l2.5-0.4l2.5-0.6l2.4-0.9l2.3-1.3l2.2-1.6l2-1.8l1.8-2.1l1.4-2.3l1.2-2.5l0.6-1.9l0.5-2.7l0.2-2.7l-0.3-2.6l-0.5-2.5l-0.9-2.4l-1.3-2.3l-1.5-2l-1.7-1.8l-1.9-1.5l-2-1.3l-2.7-1.1l-2.3-0.7l-2.8-0.4l-2.9,0l-2.7,0.3l-2.7,0.7l-2.5,1l-2.3,1.3l-2.1,1.5l-1.8,1.8l-1.7,2l-1.3,2.1l-1.3,2.7l-0.8,2.9l-0.3,2.4l-0.1,2.5l0.3,2.4l0.6,2.4l0.9,2.4l1.3,2.2l1.5,2l1.9,1.9l2.1,1.6l2.4,1.3l2.1,0.8l2.8,0.7l2.4,0.3l2.4,0l2.5-0.3l2.5-0.7l2.4-0.9l2.3-1.2l2.2-1.6l2-1.8l1.7-2.1l1.5-2.3l1.1-2.4l0.6-2l0.5-2.6l0.2-2.7l-0.2-2.6l-0.6-2.5l-0.9-2.4l-1.2-2.2l-1.5-2l-1.7-1.8l-1.9-1.5l-2-1.3l-2.7-1.2l-2.2-0.6l-2.9-0.4l-2.8-0.1l-2.7,0.4l-2.7,0.7l-2.5,1l-2.3,1.3l-2.1,1.5l-1.8,1.8l-1.6,1.9l-1.4,2.1l-1.2,2.7l-0.9,2.9l-0.3,2.4l0,2.5l0.2,2.4l0.6,2.4l0.9,2.4l1.3,2.2l1.5,2l1.9,1.9l2.1,1.6l2.5,1.3l2.1,0.8l2.8,0.7l2.3,0.3l2.5-0.1l2.4-0.3l2.5-0.6l2.4-0.9l2.3-1.3l2.2-1.5l2-1.9l1.7-2l1.4-2.3l1.2-2.5l0.6-1.9l0.5-2.6l0.2-2.7l-0.2-2.6l-0.6-2.5l-0.9-2.4l-1.2-2.2l-1.5-2.1l-1.7-1.7l-1.9-1.5l-2-1.3l-2.7-1.2l-2.3-0.6l-2.8-0.4l-2.8-0.1l-2.8,0.4l-2.6,0.7l-2.5,1l-2.3,1.3l-2.1,1.5l-1.8,1.8l-1.7,1.9l-1.3,2.2l-1.2,2.7l-0.9,2.8l-0.3,2.4l0,2.5l0.2,2.4l0.6,2.4l1,2.4l1.2,2.2l1.6,2l1.8,1.9l2.2,1.6l2.4,1.3l2.1,0.8l2.8,0.7l2.3,0.3l2.5-0.1l2.4-0.3l2.5-0.6l2.4-0.9l2.3-1.3l2.2-1.5l2-1.9l1.7-2.1l1.5-2.2l1.1-2.5l0.6-1.9l0.5-2.7l0.2-2.6l-0.3-2.6l-0.5-2.6l-0.9-2.4l-1.3-2.2l-1.4-2l-1.7-1.7l-1.9-1.6l-2.1-1.2l-2.7-1.2l-2.2-0.6l-2.8-0.4l-2.8-0.1l-2.8,0.4l-2.6,0.7l-2.5,1l-2.3,1.3l-2.1,1.5l-1.9,1.8l-1.6,2l-1.3,2.1l-1.2,2.7l-0.9,2.8l-0.3,2.5l0,2.4l0.2,2.5l0.6,2.4l1,2.3l1.2,2.2l1.6,2l1.8,1.9l2.2,1.6l2.4,1.3l2.1,0.8l2.8,0.7l2.4,0.3l2.4-0.1l2.5-0.3l2.4-0.6l2.4-1l2.4-1.2l2.1-1.6l2-1.8l1.7-2.1l1.5-2.3l1.1-2.4l0.6-2l0.5-2.6l0.2-2.6l-0.3-2.7l-0.5-2.5l-1-2.4l-1.2-2.2l-1.4-2l-1.8-1.8l-1.8-1.5l-2.1-1.2l-2.7-1.2l-2.2-0.6l-2.9-0.4l-2.8-0.1l-2.7,0.4l-2.6,0.7l-2.5,1l-2.3,1.3l-2.1,1.5l-1.9,1.8l-1.6,2l-1.3,2.1l-1.3,2.7l-0.8,2.9l-0.3,2.4l0,2.4l0.2,2.5l0.7,2.4l0.9,2.3l1.2,2.2l1.6,2.1" fill="none" stroke="#1c14dc" stroke-width="1.5" stroke-linejoin="round"/>
<path d="M663.9,125.6l2.5-13.8l1.1-9.9l0.2-4.6l0-4.2l-0.4-4.1l-0.5-3.9l-0.8-3.7l-1.4-4.5l-1.2-3.2l-2-3.9l-2.3-3.6l-2.5-3.1l-2.6-2.8l-2.9-2.4l-2.2-1.5l-3-1.8l-2.3-1l-3-1.1l-5.3-1.2l-3-0.2l-2.8,0l-2.8,0.3l-2.7,0.6l-2.5,0.7l-3,1.3l-2.2,1.2l-2.5,1.8l-1.8,1.5l-1.9,2.2l-1.7,2.3l-1.4,2.5l-1.1,2.5l-0.7,2.7l-0.4,2.7l0,2.7l0.2,2.6l0.7,2.7l1,2.5l1.3,2.4l1.6,2.3l2,2l2.3,1.8l2,1.2l2.8,1.2l2.4,0.7l3.2,0.4l2.6,0l2.6-0.3l2.7-0.6l2.6-0.9l2.5-1.3l2.3-1.6l2.1-2l1.9-2.1l1.6-2.5l1.2-2.6l0.8-2.7l0.5-2.8l0.1-2.8l-0.3-2.7l-0.7-2.6l-1-2.5l-1.3-2.3l-1.6-2.1l-1.8-1.8l-2-1.5l-2.2-1.3l-2.2-0.9l-2.9-0.9l-2.4-0.3l-2.9-0.1l-2.2,0.2l-2.8,0.6l-2.6,0.9l-2.4,1.3l-2.3,1.4l-1.9,1.8l-1.8,1.9l-1.5,2.1l-1.2,2.2l-0.9,2.4l-0.6,2.9l-0.3,2.5l0.1,2.5l0.4,2.4l0.8,2.4l1,2.4l1.4,2.1l1.7,2l2,1.8l2.3,1.5l2.5,1.2l2.2,0.8l2.9,0.5l2.5,0.1l3.1-0.2l2.5-0.6l2.4-0.9l2.4-1.1l2.2-1.5l2.1-1.8l1.8-2l1.5-2.3l1.2-2.4l0.7-2l0.6-2.6l0.3-2.7l-0.1-2.6l-0.5-2.6l-0.9-2.5l-1.1-2.2l-1.4-2.1l-1.7-1.9l-1.9-1.5l-2-1.4l-2.1-1l-2.8-0.9l-2.3-0.5l-2.8-0.2l-2.8,0.2l-2.7,0.6l-2.6,0.9l-2.4,1.1l-2.2,1.5l-1.9,1.7l-1.7,1.9l-1.5,2l-1.2,2.2l-1,2.8l-0.6,2.9l-0.2,2.5l0.2,2.4l0.4,2.5l0.8,2.3l1.1,2.3l1.4,2.1l1.8,2l2,1.7l2.3,1.4l2.6,1.2l2.2,0.6l2.9,0.5l2.4,0l2.5-0.2l2.5-0.6l2.4-0.8l2.3-1.2l2.3-1.5l2-1.7l1.8-2l1.5-2.3l1.2-2.4l0.7-1.9l0.7-2.6l0.2-2.7l-0.1-2.6l-0.5-2.6l-0.8-2.4l-1.2-2.3l-1.4-2.1l-1.6-1.8l-1.9-1.6l-2-1.3l-2.1-1l-2.8-1l-2.2-0.4l-2.9-0.2l-2.7,0.2l-2.7,0.5l-2.6,0.9l-2.4,1.2l-2.2,1.4l-1.9,1.7l-1.7,1.9l-1.5,2.1l-1.2,2.2l-1,2.8l-0.6,2.8l-0.2,2.5l0.2,2.4l0.5,2.5l0.7,2.3l1.2,2.3l1.4,2.1l1.7,1.9l2,1.8l2.4,1.4l2.5,1.1l2.2,0.7l2.9,0.4l2.4,0.1l2.5-0.3l2.5-0.5l2.4-0.9l2.3-1.1l2.3-1.5l2-1.8l1.8-2l1.5-2.2l1.2-2.4l0.7-2l0.6-2.6l0.3-2.6l-0.2-2.7l-0.4-2.5l-0.9-2.4l-1.1-2.3l-1.4-2.1l-1.7-1.8l-1.8-1.6l-2-1.3l-2.1-1l-2.8-1l-2.3-0.4l-2.8-0.2l-2.8,0.2l-2.7,0.6l-2.5,0.8l-2.4,1.2l-2.2,1.5l-1.9,1.6l-1.7,1.9l-1.5,2.1l-1.2,2.2l-1,2.8l-0.6,2.9l-0.2,2.4l0.2,2.5l0.5,2.4l0.8,2.4l1.1,2.2l1.4,2.1l1.7,2l2.1,1.7l2.3,1.4l2.5,1.1l2.2,0.7l2.9,0.4l2.5,0.1l2.4-0.3l2.5-0.5l2.4-0.9l2.4-1.2l2.2-1.4l2-1.8l1.8-2l1.5-2.2l1.2-2.5l0.7-1.9l0.6-2.6l0.3-2.6l-0.2-2.7l-0.5-2.5l-0.8-2.5l-1.1-2.2l-1.4-2.1l-1.7-1.8l-1.8-1.6l-2-1.3l-2.2-1.1l-2.7-0.9l-2.3-0.4l-2.8-0.2l-2.8,0.2l-2.7,0.6l-2.5,0.8l-2.4,1.2l-2.2,1.5l-1.9,1.7l-1.7,1.9l-1.5,2l-1.2,2.2l-1,2.8l-0.6,2.9l-0.2,2.4l0.2,2.5l0.5,2.4l0.8,2.4l1.1,2.2l1.4,2.1l1.7,2l2.1,1.7l2.3,1.4l2.6,1.1l2.2,0.7l2.9,0.4l2.4,0.1l2.4-0.3l2.5-0.5l2.4-0.9l2.4-1.2l2.2-1.4l2-1.8l1.8-2l1.5-2.3l1.2-2.4l0.7-1.9l0.6-2.6l0.3-2.7l-0.2-2.6l-0.5-2.6l-0.8-2.4l-1.1-2.2l-1.5-2.1l-1.6-1.8l-1.9-1.6l-2-1.3l-2.1-1.1l-2.8-0.9l-2.2-0.4l-2.8-0.2l-2.8,0.2l-2.7,0.6l-2.5,0.9l-2.4,1.1l-2.2,1.5l-2,1.7l-1.7,1.9l-1.4,2l-1.2,2.2l-1,2.8l-0.6,2.9l-0.2,2.5l0.2,2.4l0.5,2.4l0.8,2.4l1.1,2.2l1.4,2.2l1.8,1.9l2,1.7l2.3,1.4l2.6,1.1l2.2,0.7" fill="none" stroke="#1c14dc" stroke-width="1.5" stroke-linejoin="round"/>
<path d="M631.1,55.6l-4.2-0.4l-2.5,0.2l-2.5,0.4l-2.3,0.7l-2.2,1l-2,1.2l-1.9,1.4l-1.7,1.6l-1.5,1.7l-1.2,1.9l-1.1,2l-0.8,2.1l-0.7,2.8l-0.2,2.2l0,2.2l0.4,3l0.6,2.1l0.9,2.1l1.1,2l1.9,2.4l1.7,1.6l2,1.5l2.1,1.2l2.4,0.9l2.5,0.7l4.5,0.3l2.7-0.3l2.8-0.7l2.7-1.1l1.7-0.9l2.5-1.7l2.2-2.1l1.9-2.4l1-1.7l1.3-2.8l0.6-1.9l0.4-2l0.2-3l-0.2-2l-0.5-2.8l-0.7-1.8l-1.2-2.6l-1-1.6l-1.8-2.1l-2.1-1.8l-2.3-1.4l-2.4-1.2l-2.5-0.7l-2.5-0.5l-2.6-0.1l-2.5,0.2l-2.4,0.5l-2.3,0.7l-2.9,1.4l-1.9,1.3l-1.8,1.5l-1.6,1.6l-1.8,2.5l-1.1,1.9l-1.1,2.8l-0.7,2.9l-0.2,2.2l0.1,2.9l0.3,2.2l0.9,2.8l1,2.1l1.7,2.5l1.6,1.7l1.8,1.6l2.1,1.3l2.2,1.1l2.4,0.8l2.6,0.5l2.7,0.2l2.8-0.2l2.7-0.6l2.8-1l1.7-0.9l2.5-1.6l2.3-2l2-2.3l1.1-1.7l1.3-2.7l0.7-1.9l0.5-2l0.3-3l-0.1-2l-0.5-2.9l-0.5-1.8l-1.2-2.6l-1-1.6l-1.7-2.2l-2-1.9l-2.2-1.5l-2.4-1.2l-2.5-0.9l-2.5-0.5l-2.6-0.2l-2.5,0.1l-2.4,0.4l-2.4,0.7l-2.2,1l-2,1.1l-1.9,1.4l-1.7,1.6l-2,2.3l-1.2,1.9l-1.3,2.7l-0.9,2.8l-0.4,2.2l0,2.9l0.2,2.2l0.7,2.9l0.8,2.1l1.5,2.6l1.5,1.9l1.7,1.6l1.9,1.5l2.1,1.2l2.3,1l2.5,0.7l2.7,0.3l2.7,0l2.8-0.3l2.7-0.8l1.8-0.7l2.6-1.4l2.4-1.8l2.2-2.1l1.2-1.6l1.6-2.6l0.8-1.9l0.7-1.9l0.5-3l0.2-2l-0.2-2.9l-0.4-1.9l-1-2.8l-0.8-1.7l-1.6-2.3l-1.8-2.1l-2.1-1.7l-2.3-1.4l-2.5-1l-2.5-0.7l-2.5-0.4l-2.6-0.1l-2.4,0.3l-2.4,0.5l-3.1,1.1l-2.1,1.1l-1.9,1.4l-1.8,1.5l-2,2.3l-1.3,1.8l-1.3,2.7l-1,2.8l-0.4,2.2l-0.2,2.9l0.2,2.2l0.6,2.9l0.8,2.1l1.4,2.7l1.4,1.8l1.6,1.7l1.9,1.6l2.1,1.3l2.3,1l2.4,0.7l2.6,0.5l2.7,0.1l2.8-0.3l2.8-0.7l1.8-0.6l2.6-1.3l1.7-1.1l2.3-2l1.4-1.5l1.8-2.4l0.9-1.8l1.2-2.8l0.5-2l0.3-2l0-2.9l-0.2-2l-0.7-2.8l-0.7-1.8l-1.3-2.5l-1.7-2.2l-2-1.9l-2.2-1.6l-2.4-1.3l-2.4-0.9l-2.6-0.5l-2.5-0.3l-2.5,0.1l-2.5,0.4l-2.3,0.6l-2.3,0.9l-2.1,1.2l-1.9,1.3l-2.3,2.1l-1.4,1.7l-1.7,2.6l-0.9,2l-0.9,2.8l-0.5,2.9l-0.1,2.2l0.4,3l0.5,2.1l1.1,2.8l1.2,2l1.4,1.8l1.6,1.7l1.9,1.5l2.1,1.3l2.3,1l2.5,0.7l2.6,0.4l2.7,0.1l2.8-0.4l2.7-0.7l2.7-1l2.6-1.5l2.4-1.9l1.4-1.4l1.9-2.4l1-1.8l1.2-2.8l0.6-1.9l0.4-2l0.2-2.9l-0.2-2l-0.6-2.9l-0.6-1.8l-1.3-2.5l-1.6-2.3l-1.9-2l-2.2-1.7l-2.3-1.3l-2.4-1l-2.6-0.6l-2.5-0.4l-2.5,0l-2.5,0.4l-2.4,0.5l-2.3,0.9l-2.1,1.1l-1.9,1.3l-2.4,2l-1.5,1.7l-1.7,2.5l-1,2l-1,2.8l-0.5,2.9l-0.2,2.2l0.3,2.9l0.5,2.2l1,2.8l1.1,2l1.3,1.9l1.6,1.7l1.8,1.6l2.1,1.3l2.2,1.1l2.5,0.8l2.6,0.4l2.6,0.2l2.8-0.2l1.9-0.4l2.7-0.9l2.7-1.2l2.4-1.7l1.6-1.3l2-2.2l1.2-1.7l1.5-2.6l0.7-1.9l0.6-2l0.4-2.9l0.1-2l-0.4-3l-0.5-1.8l-1-2.7l-0.9-1.7l-1.7-2.2l-1.2-1.4l-2.1-1.7l-1.5-1l-2.4-1.2l-4.2-1.2l-2.6-0.3l-2.5,0.1l-2.4,0.3l-2.4,0.6l-2.3,0.9l-2.1,1.1l-1.9,1.3l-1.8,1.5l-1.6,1.7l-1.3,1.8" fill="none" stroke="#d4206a" stroke-width="2.1"/>
<circle cx="621.78" cy="74.41" r="2.4" fill="none" stroke="#e02020" stroke-width="1.6"/>
<text x="610.1" y="108.8" font-size="13" text-anchor="middle" font-weight="normal" >0.1</text>
<text x="606.8" y="133.8" font-size="13" text-anchor="middle" font-weight="normal" >0.2</text>
<line x1="455.9" y1="199.5" x2="455.9" y2="302.5" stroke="#909090" stroke-width="1" stroke-dasharray="1.2 4.73"/>
<line x1="391.3" y1="276.75" x2="520.5" y2="276.75" stroke="#909090" stroke-width="1" stroke-dasharray="1.2 4.73"/>
<line x1="391.3" y1="251" x2="520.5" y2="251" stroke="#909090" stroke-width="1" stroke-dasharray="1.2 4.73"/>
<line x1="391.3" y1="225.25" x2="520.5" y2="225.25" stroke="#909090" stroke-width="1" stroke-dasharray="1.2 4.73"/>
<path d="M391.3,276.8l2.5-14.2l2.1-9.5l2.2-8.5l2.7-7.8l3.3-7.9l4.1-7.9l6.6-10.9l1.8-2.6l1.2-1.1l0.5,0l0.4,0.5l0.6,2.7l0.4,6.4l0.8,22.8l0.4,3.6l0.3,0.8l0.5,0.3l0.9-0.6l1.3-1.9l7.5-14.1l5.3-8.9l4.5-6.5l1.5-1.5l1-0.7l0.7,0l0.5,0.5l0.8,2.6l0.5,4.9l1.4,18.2l0.7,3.3l0.4,0.8l0.5,0.3l0.5-0.1l0.6-0.5l1.6-2.1l7.7-13.3l5.2-8l3.1-4.2l1.2-1.1l0.9-0.6l0.7,0l0.5,0.4l0.5,0.9l0.4,1.4l0.6,4.7l1.5,17.3l0.8,3.2l0.4,0.8l0.6,0.3l1-0.5l1.4-1.7l7.6-12.7l3.7-5.8l3.9-5.4l1.4-1.6l1-0.9l0.8-0.2l0.7,0.2l0.6,0.9l0.4,1.5l0.8,4.9l1.5,16.8l0.7,3.1l0.5,0.8l0.6,0.3l0.5-0.2l0.6-0.4l1.6-2l9.2-15.2l3.4-5l2.6-3.5" fill="none" stroke="#1c14dc" stroke-width="2.3"/>
<rect x="391.3" y="199.5" width="129.2" height="103" fill="none" stroke="#3c3c3c" stroke-width="1.1"/>
<path d="M391.3,302.5 v-2.0 M391.3,199.5 v2.0" stroke="#3c3c3c" stroke-width="1"/>
<path d="M455.9,302.5 v-2.0 M455.9,199.5 v2.0" stroke="#3c3c3c" stroke-width="1"/>
<path d="M520.5,302.5 v-2.0 M520.5,199.5 v2.0" stroke="#3c3c3c" stroke-width="1"/>
<path d="M391.3,302.5 h2.0 M520.5,302.5 h-2.0" stroke="#3c3c3c" stroke-width="1"/>
<path d="M391.3,276.75 h2.0 M520.5,276.75 h-2.0" stroke="#3c3c3c" stroke-width="1"/>
<path d="M391.3,251 h2.0 M520.5,251 h-2.0" stroke="#3c3c3c" stroke-width="1"/>
<path d="M391.3,225.25 h2.0 M520.5,225.25 h-2.0" stroke="#3c3c3c" stroke-width="1"/>
<path d="M391.3,199.5 h2.0 M520.5,199.5 h-2.0" stroke="#3c3c3c" stroke-width="1"/>
<text x="385.8" y="307.1" font-size="13" text-anchor="end" font-weight="normal" >−π</text>
<text x="385.8" y="281.35" font-size="13" text-anchor="end" font-weight="normal" >−π/2</text>
<text x="385.8" y="255.6" font-size="13" text-anchor="end" font-weight="normal" >0</text>
<text x="385.8" y="229.85" font-size="13" text-anchor="end" font-weight="normal" >π/2</text>
<text x="385.8" y="204.1" font-size="13" text-anchor="end" font-weight="normal" >π</text>
<text x="391.3" y="318.5" font-size="13" text-anchor="middle" font-weight="normal" >0</text>
<text x="455.9" y="318.5" font-size="13" text-anchor="middle" font-weight="normal" >5</text>
<text x="520.5" y="318.5" font-size="13" text-anchor="middle" font-weight="normal" >10</text>
<text x="455.9" y="335" font-size="14.5" text-anchor="middle" font-weight="normal" >Time</text>
<text transform="translate(348.5,248.5) rotate(-90)" font-size="14.5" text-anchor="middle">Relative phase (ψ)</text>
<line x1="634.3" y1="199.5" x2="634.3" y2="302.5" stroke="#909090" stroke-width="1" stroke-dasharray="1.2 4.73"/>
<line x1="569.6" y1="276.75" x2="699" y2="276.75" stroke="#909090" stroke-width="1" stroke-dasharray="1.2 4.73"/>
<line x1="569.6" y1="251" x2="699" y2="251" stroke="#909090" stroke-width="1" stroke-dasharray="1.2 4.73"/>
<line x1="569.6" y1="225.25" x2="699" y2="225.25" stroke="#909090" stroke-width="1" stroke-dasharray="1.2 4.73"/>
<path d="M569.6,276.8l2.8-19.8l2.7-14.3l2.8-12.1l5.9-21.5l2.1-9.6" fill="none" stroke="#1c14dc" stroke-width="2.3"/>
<path d="M585.9,302.3l1.6-11.9l2.7-28.2l1.8-11.9l2.9-13.5l7.4-26.4l2.4-10.8" fill="none" stroke="#1c14dc" stroke-width="2.3"/>
<path d="M604.8,302.4l1.6-11.8l2.5-28.3l1.6-11.6l3-13.5l7.5-26.8l2.5-10.9" fill="none" stroke="#1c14dc" stroke-width="2.3"/>
<path d="M623.5,302.3l1.6-11.9l2.5-28.1l1.7-11.7l2.9-13.3l7.6-26.8l2.4-11" fill="none" stroke="#1c14dc" stroke-width="2.3"/>
<path d="M642.3,302.3l1.6-11.8l2.4-28.2l1.7-11.7l2.9-13.3l7.6-26.8l2.4-10.9" fill="none" stroke="#1c14dc" stroke-width="2.3"/>
<path d="M661,302.3l1.6-11.8l2.4-28.2l1.7-11.7l3-13.3l7.5-26.8l2.5-10.9" fill="none" stroke="#1c14dc" stroke-width="2.3"/>
<path d="M679.7,302.3l1.6-11.8l2.5-28.2l1.7-11.6l2.9-13.4l7.5-26.8l2.5-10.9" fill="none" stroke="#1c14dc" stroke-width="2.3"/>
<path d="M698.4,302.3l0.6-3.4" fill="none" stroke="#1c14dc" stroke-width="2.3"/>
<rect x="569.6" y="199.5" width="129.4" height="103" fill="none" stroke="#3c3c3c" stroke-width="1.1"/>
<path d="M569.6,302.5 v-2.0 M569.6,199.5 v2.0" stroke="#3c3c3c" stroke-width="1"/>
<path d="M634.3,302.5 v-2.0 M634.3,199.5 v2.0" stroke="#3c3c3c" stroke-width="1"/>
<path d="M699,302.5 v-2.0 M699,199.5 v2.0" stroke="#3c3c3c" stroke-width="1"/>
<path d="M569.6,302.5 h2.0 M699,302.5 h-2.0" stroke="#3c3c3c" stroke-width="1"/>
<path d="M569.6,276.75 h2.0 M699,276.75 h-2.0" stroke="#3c3c3c" stroke-width="1"/>
<path d="M569.6,251 h2.0 M699,251 h-2.0" stroke="#3c3c3c" stroke-width="1"/>
<path d="M569.6,225.25 h2.0 M699,225.25 h-2.0" stroke="#3c3c3c" stroke-width="1"/>
<path d="M569.6,199.5 h2.0 M699,199.5 h-2.0" stroke="#3c3c3c" stroke-width="1"/>
<text x="564.1" y="307.1" font-size="13" text-anchor="end" font-weight="normal" >−π</text>
<text x="564.1" y="281.35" font-size="13" text-anchor="end" font-weight="normal" >−π/2</text>
<text x="564.1" y="255.6" font-size="13" text-anchor="end" font-weight="normal" >0</text>
<text x="564.1" y="229.85" font-size="13" text-anchor="end" font-weight="normal" >π/2</text>
<text x="564.1" y="204.1" font-size="13" text-anchor="end" font-weight="normal" >π</text>
<text x="569.6" y="318.5" font-size="13" text-anchor="middle" font-weight="normal" >0</text>
<text x="634.3" y="318.5" font-size="13" text-anchor="middle" font-weight="normal" >5</text>
<text x="699" y="318.5" font-size="13" text-anchor="middle" font-weight="normal" >10</text>
<text x="634.3" y="335" font-size="14.5" text-anchor="middle" font-weight="normal" >Time</text>
</svg></body></html>
